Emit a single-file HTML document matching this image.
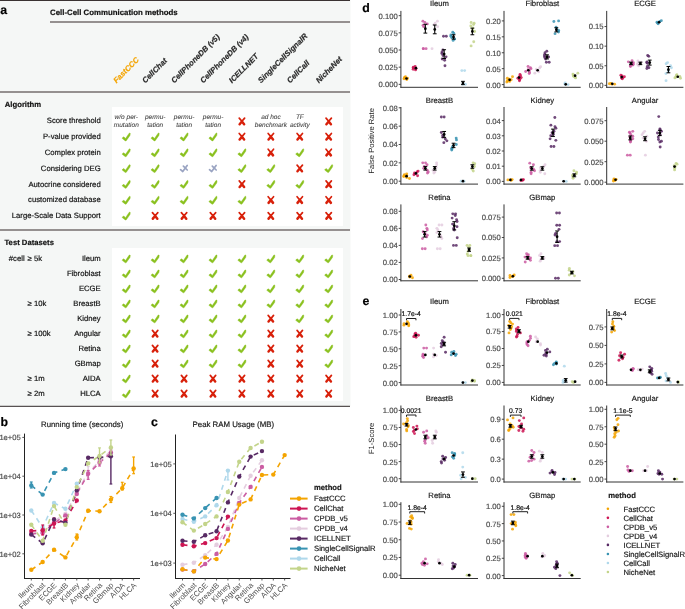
<!DOCTYPE html>
<html><head><meta charset="utf-8"><style>
html,body{margin:0;padding:0;background:#fff;}
body{width:685px;height:609px;overflow:hidden;position:relative;}
svg{position:absolute;left:0;top:0;will-change:transform;text-rendering:geometricPrecision;font-family:"Liberation Sans", sans-serif;}
</style></head><body>
<svg width="685" height="609" viewBox="0 0 685 609">
<rect x="0" y="0" width="350.5" height="406" fill="#f5f7f6"/>
<line x1="0.00" y1="0.50" x2="350.00" y2="0.50" stroke="#3a3232" stroke-width="1.2" />
<text x="0.30" y="14.00" font-size="12.3" text-anchor="start" font-weight="bold" font-style="normal" fill="#000" stroke="#000" stroke-width="0.18" >a</text>
<text x="50.00" y="15.40" font-size="7.85" text-anchor="start" font-weight="bold" font-style="normal" fill="#111" stroke="#111" stroke-width="0.18" >Cell-Cell Communication methods</text>
<line x1="50.00" y1="22.10" x2="350.00" y2="22.10" stroke="#959090" stroke-width="2.0" />
<text x="116.40" y="83.50" font-size="7.75" text-anchor="start" font-weight="bold" font-style="italic" fill="#F4A400" stroke="#F4A400" stroke-width="0.18" transform="rotate(-45 116.40 83.50)">FastCCC</text>
<text x="145.33" y="83.50" font-size="7.75" text-anchor="start" font-weight="bold" font-style="italic" fill="#2a2a2a" stroke="#2a2a2a" stroke-width="0.18" transform="rotate(-45 145.33 83.50)">CellChat</text>
<text x="174.26" y="83.50" font-size="7.75" text-anchor="start" font-weight="bold" font-style="italic" fill="#2a2a2a" stroke="#2a2a2a" stroke-width="0.18" transform="rotate(-45 174.26 83.50)">CellPhoneDB (v5)</text>
<text x="203.19" y="83.50" font-size="7.75" text-anchor="start" font-weight="bold" font-style="italic" fill="#2a2a2a" stroke="#2a2a2a" stroke-width="0.18" transform="rotate(-45 203.19 83.50)">CellPhoneDB (v4)</text>
<text x="232.12" y="83.50" font-size="7.75" text-anchor="start" font-weight="bold" font-style="italic" fill="#2a2a2a" stroke="#2a2a2a" stroke-width="0.18" transform="rotate(-45 232.12 83.50)">ICELLNET</text>
<text x="261.05" y="83.50" font-size="7.75" text-anchor="start" font-weight="bold" font-style="italic" fill="#2a2a2a" stroke="#2a2a2a" stroke-width="0.18" transform="rotate(-45 261.05 83.50)">SingleCellSignalR</text>
<text x="289.98" y="83.50" font-size="7.75" text-anchor="start" font-weight="bold" font-style="italic" fill="#2a2a2a" stroke="#2a2a2a" stroke-width="0.18" transform="rotate(-45 289.98 83.50)">CellCall</text>
<text x="318.91" y="83.50" font-size="7.75" text-anchor="start" font-weight="bold" font-style="italic" fill="#2a2a2a" stroke="#2a2a2a" stroke-width="0.18" transform="rotate(-45 318.91 83.50)">NicheNet</text>
<line x1="0.00" y1="92.00" x2="350.00" y2="92.00" stroke="#959090" stroke-width="2.0" />
<text x="4.80" y="107.00" font-size="7.7" text-anchor="start" font-weight="bold" font-style="normal" fill="#111" stroke="#111" stroke-width="0.18" >Algorithm</text>
<rect x="112" y="107" width="231" height="119" fill="#ffffff"/>
<text x="100.70" y="123.25" font-size="7.7" text-anchor="end" font-weight="normal" font-style="normal" fill="#111" stroke="#111" stroke-width="0.18" >Score threshold</text>
<text x="100.70" y="139.08" font-size="7.7" text-anchor="end" font-weight="normal" font-style="normal" fill="#111" stroke="#111" stroke-width="0.18" >P-value provided</text>
<text x="100.70" y="154.91" font-size="7.7" text-anchor="end" font-weight="normal" font-style="normal" fill="#111" stroke="#111" stroke-width="0.18" >Complex protein</text>
<text x="100.70" y="170.74" font-size="7.7" text-anchor="end" font-weight="normal" font-style="normal" fill="#111" stroke="#111" stroke-width="0.18" >Considering DEG</text>
<text x="100.70" y="186.57" font-size="7.7" text-anchor="end" font-weight="normal" font-style="normal" fill="#111" stroke="#111" stroke-width="0.18" >Autocrine considered</text>
<text x="100.70" y="202.40" font-size="7.7" text-anchor="end" font-weight="normal" font-style="normal" fill="#111" stroke="#111" stroke-width="0.18" >customized database</text>
<text x="100.70" y="218.23" font-size="7.7" text-anchor="end" font-weight="normal" font-style="normal" fill="#111" stroke="#111" stroke-width="0.18" >Large-Scale Data Support</text>
<text x="126.30" y="119.20" font-size="6.5" text-anchor="middle" font-weight="normal" font-style="italic" fill="#444" stroke="#444" stroke-width="0.08" >w/o per-</text>
<text x="126.30" y="127.00" font-size="6.5" text-anchor="middle" font-weight="normal" font-style="italic" fill="#444" stroke="#444" stroke-width="0.08" >mutation</text>
<text x="155.23" y="119.20" font-size="6.5" text-anchor="middle" font-weight="normal" font-style="italic" fill="#444" stroke="#444" stroke-width="0.08" >permu-</text>
<text x="155.23" y="127.00" font-size="6.5" text-anchor="middle" font-weight="normal" font-style="italic" fill="#444" stroke="#444" stroke-width="0.08" >tation</text>
<text x="184.16" y="119.20" font-size="6.5" text-anchor="middle" font-weight="normal" font-style="italic" fill="#444" stroke="#444" stroke-width="0.08" >permu-</text>
<text x="184.16" y="127.00" font-size="6.5" text-anchor="middle" font-weight="normal" font-style="italic" fill="#444" stroke="#444" stroke-width="0.08" >tation</text>
<text x="213.09" y="119.20" font-size="6.5" text-anchor="middle" font-weight="normal" font-style="italic" fill="#444" stroke="#444" stroke-width="0.08" >permu-</text>
<text x="213.09" y="127.00" font-size="6.5" text-anchor="middle" font-weight="normal" font-style="italic" fill="#444" stroke="#444" stroke-width="0.08" >tation</text>
<g transform="translate(241.92,121.30)" stroke="#D8200A" stroke-linecap="round" fill="none"><path d="M0,0 L-2.7,-3.2 M0,0 L2.7,-3.2" stroke-width="1.7"/><path d="M0,0.2 L-2.3,2.9 M0,0.2 L2.2,2.9" stroke-width="2.5"/></g>
<text x="270.95" y="119.20" font-size="6.5" text-anchor="middle" font-weight="normal" font-style="italic" fill="#444" stroke="#444" stroke-width="0.08" >ad hoc</text>
<text x="270.95" y="127.00" font-size="6.5" text-anchor="middle" font-weight="normal" font-style="italic" fill="#444" stroke="#444" stroke-width="0.08" >benchmark</text>
<text x="299.88" y="119.20" font-size="6.5" text-anchor="middle" font-weight="normal" font-style="italic" fill="#444" stroke="#444" stroke-width="0.08" >TF</text>
<text x="299.88" y="127.00" font-size="6.5" text-anchor="middle" font-weight="normal" font-style="italic" fill="#444" stroke="#444" stroke-width="0.08" >activity</text>
<g transform="translate(328.71,121.30)" stroke="#D8200A" stroke-linecap="round" fill="none"><path d="M0,0 L-2.7,-3.2 M0,0 L2.7,-3.2" stroke-width="1.7"/><path d="M0,0.2 L-2.3,2.9 M0,0.2 L2.2,2.9" stroke-width="2.5"/></g>
<path transform="translate(122.00,132.83)" d="M0.1,5.5 Q0.6,4.4 1.9,4.0 L3.5,5.7 L7.2,0.3 Q7.9,-0.1 8.3,0.5 L8.0,2.6 L4.3,7.8 Q3.6,8.3 3.0,7.8 Z" fill="#8AC11F" stroke="#8AC11F" stroke-width="0.4" stroke-linejoin="round"/>
<path transform="translate(150.93,132.83)" d="M0.1,5.5 Q0.6,4.4 1.9,4.0 L3.5,5.7 L7.2,0.3 Q7.9,-0.1 8.3,0.5 L8.0,2.6 L4.3,7.8 Q3.6,8.3 3.0,7.8 Z" fill="#8AC11F" stroke="#8AC11F" stroke-width="0.4" stroke-linejoin="round"/>
<path transform="translate(179.86,132.83)" d="M0.1,5.5 Q0.6,4.4 1.9,4.0 L3.5,5.7 L7.2,0.3 Q7.9,-0.1 8.3,0.5 L8.0,2.6 L4.3,7.8 Q3.6,8.3 3.0,7.8 Z" fill="#8AC11F" stroke="#8AC11F" stroke-width="0.4" stroke-linejoin="round"/>
<path transform="translate(208.79,132.83)" d="M0.1,5.5 Q0.6,4.4 1.9,4.0 L3.5,5.7 L7.2,0.3 Q7.9,-0.1 8.3,0.5 L8.0,2.6 L4.3,7.8 Q3.6,8.3 3.0,7.8 Z" fill="#8AC11F" stroke="#8AC11F" stroke-width="0.4" stroke-linejoin="round"/>
<g transform="translate(241.92,136.63)" stroke="#D8200A" stroke-linecap="round" fill="none"><path d="M0,0 L-2.7,-3.2 M0,0 L2.7,-3.2" stroke-width="1.7"/><path d="M0,0.2 L-2.3,2.9 M0,0.2 L2.2,2.9" stroke-width="2.5"/></g>
<g transform="translate(270.85,136.63)" stroke="#D8200A" stroke-linecap="round" fill="none"><path d="M0,0 L-2.7,-3.2 M0,0 L2.7,-3.2" stroke-width="1.7"/><path d="M0,0.2 L-2.3,2.9 M0,0.2 L2.2,2.9" stroke-width="2.5"/></g>
<g transform="translate(299.78,136.63)" stroke="#D8200A" stroke-linecap="round" fill="none"><path d="M0,0 L-2.7,-3.2 M0,0 L2.7,-3.2" stroke-width="1.7"/><path d="M0,0.2 L-2.3,2.9 M0,0.2 L2.2,2.9" stroke-width="2.5"/></g>
<g transform="translate(328.71,136.63)" stroke="#D8200A" stroke-linecap="round" fill="none"><path d="M0,0 L-2.7,-3.2 M0,0 L2.7,-3.2" stroke-width="1.7"/><path d="M0,0.2 L-2.3,2.9 M0,0.2 L2.2,2.9" stroke-width="2.5"/></g>
<path transform="translate(122.00,148.66)" d="M0.1,5.5 Q0.6,4.4 1.9,4.0 L3.5,5.7 L7.2,0.3 Q7.9,-0.1 8.3,0.5 L8.0,2.6 L4.3,7.8 Q3.6,8.3 3.0,7.8 Z" fill="#8AC11F" stroke="#8AC11F" stroke-width="0.4" stroke-linejoin="round"/>
<path transform="translate(150.93,148.66)" d="M0.1,5.5 Q0.6,4.4 1.9,4.0 L3.5,5.7 L7.2,0.3 Q7.9,-0.1 8.3,0.5 L8.0,2.6 L4.3,7.8 Q3.6,8.3 3.0,7.8 Z" fill="#8AC11F" stroke="#8AC11F" stroke-width="0.4" stroke-linejoin="round"/>
<path transform="translate(179.86,148.66)" d="M0.1,5.5 Q0.6,4.4 1.9,4.0 L3.5,5.7 L7.2,0.3 Q7.9,-0.1 8.3,0.5 L8.0,2.6 L4.3,7.8 Q3.6,8.3 3.0,7.8 Z" fill="#8AC11F" stroke="#8AC11F" stroke-width="0.4" stroke-linejoin="round"/>
<path transform="translate(208.79,148.66)" d="M0.1,5.5 Q0.6,4.4 1.9,4.0 L3.5,5.7 L7.2,0.3 Q7.9,-0.1 8.3,0.5 L8.0,2.6 L4.3,7.8 Q3.6,8.3 3.0,7.8 Z" fill="#8AC11F" stroke="#8AC11F" stroke-width="0.4" stroke-linejoin="round"/>
<path transform="translate(237.72,148.66)" d="M0.1,5.5 Q0.6,4.4 1.9,4.0 L3.5,5.7 L7.2,0.3 Q7.9,-0.1 8.3,0.5 L8.0,2.6 L4.3,7.8 Q3.6,8.3 3.0,7.8 Z" fill="#8AC11F" stroke="#8AC11F" stroke-width="0.4" stroke-linejoin="round"/>
<g transform="translate(270.85,152.46)" stroke="#D8200A" stroke-linecap="round" fill="none"><path d="M0,0 L-2.7,-3.2 M0,0 L2.7,-3.2" stroke-width="1.7"/><path d="M0,0.2 L-2.3,2.9 M0,0.2 L2.2,2.9" stroke-width="2.5"/></g>
<path transform="translate(295.58,148.66)" d="M0.1,5.5 Q0.6,4.4 1.9,4.0 L3.5,5.7 L7.2,0.3 Q7.9,-0.1 8.3,0.5 L8.0,2.6 L4.3,7.8 Q3.6,8.3 3.0,7.8 Z" fill="#8AC11F" stroke="#8AC11F" stroke-width="0.4" stroke-linejoin="round"/>
<g transform="translate(328.71,152.46)" stroke="#D8200A" stroke-linecap="round" fill="none"><path d="M0,0 L-2.7,-3.2 M0,0 L2.7,-3.2" stroke-width="1.7"/><path d="M0,0.2 L-2.3,2.9 M0,0.2 L2.2,2.9" stroke-width="2.5"/></g>
<path transform="translate(122.00,164.49)" d="M0.1,5.5 Q0.6,4.4 1.9,4.0 L3.5,5.7 L7.2,0.3 Q7.9,-0.1 8.3,0.5 L8.0,2.6 L4.3,7.8 Q3.6,8.3 3.0,7.8 Z" fill="#8AC11F" stroke="#8AC11F" stroke-width="0.4" stroke-linejoin="round"/>
<path transform="translate(150.93,164.49)" d="M0.1,5.5 Q0.6,4.4 1.9,4.0 L3.5,5.7 L7.2,0.3 Q7.9,-0.1 8.3,0.5 L8.0,2.6 L4.3,7.8 Q3.6,8.3 3.0,7.8 Z" fill="#8AC11F" stroke="#8AC11F" stroke-width="0.4" stroke-linejoin="round"/>
<g transform="translate(184.16,168.49)" stroke="#9AA4C2" stroke-linecap="round" stroke-linejoin="round" fill="none" stroke-width="1.7"><path d="M-3.6,1.2 L-1.4,3.0 L3.0,-3.1 M-0.8,-2.3 L3.1,1.5"/></g>
<g transform="translate(213.09,168.49)" stroke="#9AA4C2" stroke-linecap="round" stroke-linejoin="round" fill="none" stroke-width="1.7"><path d="M-3.6,1.2 L-1.4,3.0 L3.0,-3.1 M-0.8,-2.3 L3.1,1.5"/></g>
<path transform="translate(237.72,164.49)" d="M0.1,5.5 Q0.6,4.4 1.9,4.0 L3.5,5.7 L7.2,0.3 Q7.9,-0.1 8.3,0.5 L8.0,2.6 L4.3,7.8 Q3.6,8.3 3.0,7.8 Z" fill="#8AC11F" stroke="#8AC11F" stroke-width="0.4" stroke-linejoin="round"/>
<path transform="translate(266.65,164.49)" d="M0.1,5.5 Q0.6,4.4 1.9,4.0 L3.5,5.7 L7.2,0.3 Q7.9,-0.1 8.3,0.5 L8.0,2.6 L4.3,7.8 Q3.6,8.3 3.0,7.8 Z" fill="#8AC11F" stroke="#8AC11F" stroke-width="0.4" stroke-linejoin="round"/>
<g transform="translate(299.78,168.29)" stroke="#D8200A" stroke-linecap="round" fill="none"><path d="M0,0 L-2.7,-3.2 M0,0 L2.7,-3.2" stroke-width="1.7"/><path d="M0,0.2 L-2.3,2.9 M0,0.2 L2.2,2.9" stroke-width="2.5"/></g>
<path transform="translate(324.51,164.49)" d="M0.1,5.5 Q0.6,4.4 1.9,4.0 L3.5,5.7 L7.2,0.3 Q7.9,-0.1 8.3,0.5 L8.0,2.6 L4.3,7.8 Q3.6,8.3 3.0,7.8 Z" fill="#8AC11F" stroke="#8AC11F" stroke-width="0.4" stroke-linejoin="round"/>
<path transform="translate(122.00,180.32)" d="M0.1,5.5 Q0.6,4.4 1.9,4.0 L3.5,5.7 L7.2,0.3 Q7.9,-0.1 8.3,0.5 L8.0,2.6 L4.3,7.8 Q3.6,8.3 3.0,7.8 Z" fill="#8AC11F" stroke="#8AC11F" stroke-width="0.4" stroke-linejoin="round"/>
<path transform="translate(150.93,180.32)" d="M0.1,5.5 Q0.6,4.4 1.9,4.0 L3.5,5.7 L7.2,0.3 Q7.9,-0.1 8.3,0.5 L8.0,2.6 L4.3,7.8 Q3.6,8.3 3.0,7.8 Z" fill="#8AC11F" stroke="#8AC11F" stroke-width="0.4" stroke-linejoin="round"/>
<path transform="translate(179.86,180.32)" d="M0.1,5.5 Q0.6,4.4 1.9,4.0 L3.5,5.7 L7.2,0.3 Q7.9,-0.1 8.3,0.5 L8.0,2.6 L4.3,7.8 Q3.6,8.3 3.0,7.8 Z" fill="#8AC11F" stroke="#8AC11F" stroke-width="0.4" stroke-linejoin="round"/>
<path transform="translate(208.79,180.32)" d="M0.1,5.5 Q0.6,4.4 1.9,4.0 L3.5,5.7 L7.2,0.3 Q7.9,-0.1 8.3,0.5 L8.0,2.6 L4.3,7.8 Q3.6,8.3 3.0,7.8 Z" fill="#8AC11F" stroke="#8AC11F" stroke-width="0.4" stroke-linejoin="round"/>
<g transform="translate(241.92,184.12)" stroke="#D8200A" stroke-linecap="round" fill="none"><path d="M0,0 L-2.7,-3.2 M0,0 L2.7,-3.2" stroke-width="1.7"/><path d="M0,0.2 L-2.3,2.9 M0,0.2 L2.2,2.9" stroke-width="2.5"/></g>
<path transform="translate(266.65,180.32)" d="M0.1,5.5 Q0.6,4.4 1.9,4.0 L3.5,5.7 L7.2,0.3 Q7.9,-0.1 8.3,0.5 L8.0,2.6 L4.3,7.8 Q3.6,8.3 3.0,7.8 Z" fill="#8AC11F" stroke="#8AC11F" stroke-width="0.4" stroke-linejoin="round"/>
<path transform="translate(295.58,180.32)" d="M0.1,5.5 Q0.6,4.4 1.9,4.0 L3.5,5.7 L7.2,0.3 Q7.9,-0.1 8.3,0.5 L8.0,2.6 L4.3,7.8 Q3.6,8.3 3.0,7.8 Z" fill="#8AC11F" stroke="#8AC11F" stroke-width="0.4" stroke-linejoin="round"/>
<g transform="translate(328.71,184.12)" stroke="#D8200A" stroke-linecap="round" fill="none"><path d="M0,0 L-2.7,-3.2 M0,0 L2.7,-3.2" stroke-width="1.7"/><path d="M0,0.2 L-2.3,2.9 M0,0.2 L2.2,2.9" stroke-width="2.5"/></g>
<path transform="translate(122.00,196.15)" d="M0.1,5.5 Q0.6,4.4 1.9,4.0 L3.5,5.7 L7.2,0.3 Q7.9,-0.1 8.3,0.5 L8.0,2.6 L4.3,7.8 Q3.6,8.3 3.0,7.8 Z" fill="#8AC11F" stroke="#8AC11F" stroke-width="0.4" stroke-linejoin="round"/>
<path transform="translate(150.93,196.15)" d="M0.1,5.5 Q0.6,4.4 1.9,4.0 L3.5,5.7 L7.2,0.3 Q7.9,-0.1 8.3,0.5 L8.0,2.6 L4.3,7.8 Q3.6,8.3 3.0,7.8 Z" fill="#8AC11F" stroke="#8AC11F" stroke-width="0.4" stroke-linejoin="round"/>
<path transform="translate(179.86,196.15)" d="M0.1,5.5 Q0.6,4.4 1.9,4.0 L3.5,5.7 L7.2,0.3 Q7.9,-0.1 8.3,0.5 L8.0,2.6 L4.3,7.8 Q3.6,8.3 3.0,7.8 Z" fill="#8AC11F" stroke="#8AC11F" stroke-width="0.4" stroke-linejoin="round"/>
<path transform="translate(208.79,196.15)" d="M0.1,5.5 Q0.6,4.4 1.9,4.0 L3.5,5.7 L7.2,0.3 Q7.9,-0.1 8.3,0.5 L8.0,2.6 L4.3,7.8 Q3.6,8.3 3.0,7.8 Z" fill="#8AC11F" stroke="#8AC11F" stroke-width="0.4" stroke-linejoin="round"/>
<path transform="translate(237.72,196.15)" d="M0.1,5.5 Q0.6,4.4 1.9,4.0 L3.5,5.7 L7.2,0.3 Q7.9,-0.1 8.3,0.5 L8.0,2.6 L4.3,7.8 Q3.6,8.3 3.0,7.8 Z" fill="#8AC11F" stroke="#8AC11F" stroke-width="0.4" stroke-linejoin="round"/>
<g transform="translate(270.85,199.95)" stroke="#D8200A" stroke-linecap="round" fill="none"><path d="M0,0 L-2.7,-3.2 M0,0 L2.7,-3.2" stroke-width="1.7"/><path d="M0,0.2 L-2.3,2.9 M0,0.2 L2.2,2.9" stroke-width="2.5"/></g>
<g transform="translate(299.78,199.95)" stroke="#D8200A" stroke-linecap="round" fill="none"><path d="M0,0 L-2.7,-3.2 M0,0 L2.7,-3.2" stroke-width="1.7"/><path d="M0,0.2 L-2.3,2.9 M0,0.2 L2.2,2.9" stroke-width="2.5"/></g>
<g transform="translate(328.71,199.95)" stroke="#D8200A" stroke-linecap="round" fill="none"><path d="M0,0 L-2.7,-3.2 M0,0 L2.7,-3.2" stroke-width="1.7"/><path d="M0,0.2 L-2.3,2.9 M0,0.2 L2.2,2.9" stroke-width="2.5"/></g>
<path transform="translate(122.00,211.98)" d="M0.1,5.5 Q0.6,4.4 1.9,4.0 L3.5,5.7 L7.2,0.3 Q7.9,-0.1 8.3,0.5 L8.0,2.6 L4.3,7.8 Q3.6,8.3 3.0,7.8 Z" fill="#8AC11F" stroke="#8AC11F" stroke-width="0.4" stroke-linejoin="round"/>
<g transform="translate(155.13,215.78)" stroke="#D8200A" stroke-linecap="round" fill="none"><path d="M0,0 L-2.7,-3.2 M0,0 L2.7,-3.2" stroke-width="1.7"/><path d="M0,0.2 L-2.3,2.9 M0,0.2 L2.2,2.9" stroke-width="2.5"/></g>
<g transform="translate(184.06,215.78)" stroke="#D8200A" stroke-linecap="round" fill="none"><path d="M0,0 L-2.7,-3.2 M0,0 L2.7,-3.2" stroke-width="1.7"/><path d="M0,0.2 L-2.3,2.9 M0,0.2 L2.2,2.9" stroke-width="2.5"/></g>
<g transform="translate(212.99,215.78)" stroke="#D8200A" stroke-linecap="round" fill="none"><path d="M0,0 L-2.7,-3.2 M0,0 L2.7,-3.2" stroke-width="1.7"/><path d="M0,0.2 L-2.3,2.9 M0,0.2 L2.2,2.9" stroke-width="2.5"/></g>
<g transform="translate(241.92,215.78)" stroke="#D8200A" stroke-linecap="round" fill="none"><path d="M0,0 L-2.7,-3.2 M0,0 L2.7,-3.2" stroke-width="1.7"/><path d="M0,0.2 L-2.3,2.9 M0,0.2 L2.2,2.9" stroke-width="2.5"/></g>
<g transform="translate(270.85,215.78)" stroke="#D8200A" stroke-linecap="round" fill="none"><path d="M0,0 L-2.7,-3.2 M0,0 L2.7,-3.2" stroke-width="1.7"/><path d="M0,0.2 L-2.3,2.9 M0,0.2 L2.2,2.9" stroke-width="2.5"/></g>
<g transform="translate(299.78,215.78)" stroke="#D8200A" stroke-linecap="round" fill="none"><path d="M0,0 L-2.7,-3.2 M0,0 L2.7,-3.2" stroke-width="1.7"/><path d="M0,0.2 L-2.3,2.9 M0,0.2 L2.2,2.9" stroke-width="2.5"/></g>
<g transform="translate(328.71,215.78)" stroke="#D8200A" stroke-linecap="round" fill="none"><path d="M0,0 L-2.7,-3.2 M0,0 L2.7,-3.2" stroke-width="1.7"/><path d="M0,0.2 L-2.3,2.9 M0,0.2 L2.2,2.9" stroke-width="2.5"/></g>
<line x1="0.00" y1="230.00" x2="350.00" y2="230.00" stroke="#959090" stroke-width="2.0" />
<text x="4.50" y="244.50" font-size="7.7" text-anchor="start" font-weight="bold" font-style="normal" fill="#111" stroke="#111" stroke-width="0.18" >Test Datasets</text>
<rect x="112" y="248" width="231" height="153" fill="#ffffff"/>
<text x="100.70" y="261.05" font-size="7.7" text-anchor="end" font-weight="normal" font-style="normal" fill="#111" stroke="#111" stroke-width="0.18" >Ileum</text>
<text x="8.80" y="261.05" font-size="7.7" text-anchor="start" font-weight="normal" font-style="normal" fill="#111" stroke="#111" stroke-width="0.18" >#cell</text>
<text x="27.60" y="261.05" font-size="7.7" text-anchor="start" font-weight="normal" font-style="normal" fill="#111" stroke="#111" stroke-width="0.18" >≥ 5k</text>
<path transform="translate(122.00,254.80)" d="M0.1,5.5 Q0.6,4.4 1.9,4.0 L3.5,5.7 L7.2,0.3 Q7.9,-0.1 8.3,0.5 L8.0,2.6 L4.3,7.8 Q3.6,8.3 3.0,7.8 Z" fill="#8AC11F" stroke="#8AC11F" stroke-width="0.4" stroke-linejoin="round"/>
<path transform="translate(150.93,254.80)" d="M0.1,5.5 Q0.6,4.4 1.9,4.0 L3.5,5.7 L7.2,0.3 Q7.9,-0.1 8.3,0.5 L8.0,2.6 L4.3,7.8 Q3.6,8.3 3.0,7.8 Z" fill="#8AC11F" stroke="#8AC11F" stroke-width="0.4" stroke-linejoin="round"/>
<path transform="translate(179.86,254.80)" d="M0.1,5.5 Q0.6,4.4 1.9,4.0 L3.5,5.7 L7.2,0.3 Q7.9,-0.1 8.3,0.5 L8.0,2.6 L4.3,7.8 Q3.6,8.3 3.0,7.8 Z" fill="#8AC11F" stroke="#8AC11F" stroke-width="0.4" stroke-linejoin="round"/>
<path transform="translate(208.79,254.80)" d="M0.1,5.5 Q0.6,4.4 1.9,4.0 L3.5,5.7 L7.2,0.3 Q7.9,-0.1 8.3,0.5 L8.0,2.6 L4.3,7.8 Q3.6,8.3 3.0,7.8 Z" fill="#8AC11F" stroke="#8AC11F" stroke-width="0.4" stroke-linejoin="round"/>
<path transform="translate(237.72,254.80)" d="M0.1,5.5 Q0.6,4.4 1.9,4.0 L3.5,5.7 L7.2,0.3 Q7.9,-0.1 8.3,0.5 L8.0,2.6 L4.3,7.8 Q3.6,8.3 3.0,7.8 Z" fill="#8AC11F" stroke="#8AC11F" stroke-width="0.4" stroke-linejoin="round"/>
<path transform="translate(266.65,254.80)" d="M0.1,5.5 Q0.6,4.4 1.9,4.0 L3.5,5.7 L7.2,0.3 Q7.9,-0.1 8.3,0.5 L8.0,2.6 L4.3,7.8 Q3.6,8.3 3.0,7.8 Z" fill="#8AC11F" stroke="#8AC11F" stroke-width="0.4" stroke-linejoin="round"/>
<path transform="translate(295.58,254.80)" d="M0.1,5.5 Q0.6,4.4 1.9,4.0 L3.5,5.7 L7.2,0.3 Q7.9,-0.1 8.3,0.5 L8.0,2.6 L4.3,7.8 Q3.6,8.3 3.0,7.8 Z" fill="#8AC11F" stroke="#8AC11F" stroke-width="0.4" stroke-linejoin="round"/>
<path transform="translate(324.51,254.80)" d="M0.1,5.5 Q0.6,4.4 1.9,4.0 L3.5,5.7 L7.2,0.3 Q7.9,-0.1 8.3,0.5 L8.0,2.6 L4.3,7.8 Q3.6,8.3 3.0,7.8 Z" fill="#8AC11F" stroke="#8AC11F" stroke-width="0.4" stroke-linejoin="round"/>
<text x="100.70" y="276.05" font-size="7.7" text-anchor="end" font-weight="normal" font-style="normal" fill="#111" stroke="#111" stroke-width="0.18" >Fibroblast</text>
<path transform="translate(122.00,269.80)" d="M0.1,5.5 Q0.6,4.4 1.9,4.0 L3.5,5.7 L7.2,0.3 Q7.9,-0.1 8.3,0.5 L8.0,2.6 L4.3,7.8 Q3.6,8.3 3.0,7.8 Z" fill="#8AC11F" stroke="#8AC11F" stroke-width="0.4" stroke-linejoin="round"/>
<path transform="translate(150.93,269.80)" d="M0.1,5.5 Q0.6,4.4 1.9,4.0 L3.5,5.7 L7.2,0.3 Q7.9,-0.1 8.3,0.5 L8.0,2.6 L4.3,7.8 Q3.6,8.3 3.0,7.8 Z" fill="#8AC11F" stroke="#8AC11F" stroke-width="0.4" stroke-linejoin="round"/>
<path transform="translate(179.86,269.80)" d="M0.1,5.5 Q0.6,4.4 1.9,4.0 L3.5,5.7 L7.2,0.3 Q7.9,-0.1 8.3,0.5 L8.0,2.6 L4.3,7.8 Q3.6,8.3 3.0,7.8 Z" fill="#8AC11F" stroke="#8AC11F" stroke-width="0.4" stroke-linejoin="round"/>
<path transform="translate(208.79,269.80)" d="M0.1,5.5 Q0.6,4.4 1.9,4.0 L3.5,5.7 L7.2,0.3 Q7.9,-0.1 8.3,0.5 L8.0,2.6 L4.3,7.8 Q3.6,8.3 3.0,7.8 Z" fill="#8AC11F" stroke="#8AC11F" stroke-width="0.4" stroke-linejoin="round"/>
<path transform="translate(237.72,269.80)" d="M0.1,5.5 Q0.6,4.4 1.9,4.0 L3.5,5.7 L7.2,0.3 Q7.9,-0.1 8.3,0.5 L8.0,2.6 L4.3,7.8 Q3.6,8.3 3.0,7.8 Z" fill="#8AC11F" stroke="#8AC11F" stroke-width="0.4" stroke-linejoin="round"/>
<path transform="translate(266.65,269.80)" d="M0.1,5.5 Q0.6,4.4 1.9,4.0 L3.5,5.7 L7.2,0.3 Q7.9,-0.1 8.3,0.5 L8.0,2.6 L4.3,7.8 Q3.6,8.3 3.0,7.8 Z" fill="#8AC11F" stroke="#8AC11F" stroke-width="0.4" stroke-linejoin="round"/>
<path transform="translate(295.58,269.80)" d="M0.1,5.5 Q0.6,4.4 1.9,4.0 L3.5,5.7 L7.2,0.3 Q7.9,-0.1 8.3,0.5 L8.0,2.6 L4.3,7.8 Q3.6,8.3 3.0,7.8 Z" fill="#8AC11F" stroke="#8AC11F" stroke-width="0.4" stroke-linejoin="round"/>
<path transform="translate(324.51,269.80)" d="M0.1,5.5 Q0.6,4.4 1.9,4.0 L3.5,5.7 L7.2,0.3 Q7.9,-0.1 8.3,0.5 L8.0,2.6 L4.3,7.8 Q3.6,8.3 3.0,7.8 Z" fill="#8AC11F" stroke="#8AC11F" stroke-width="0.4" stroke-linejoin="round"/>
<text x="100.70" y="291.05" font-size="7.7" text-anchor="end" font-weight="normal" font-style="normal" fill="#111" stroke="#111" stroke-width="0.18" >ECGE</text>
<path transform="translate(122.00,284.80)" d="M0.1,5.5 Q0.6,4.4 1.9,4.0 L3.5,5.7 L7.2,0.3 Q7.9,-0.1 8.3,0.5 L8.0,2.6 L4.3,7.8 Q3.6,8.3 3.0,7.8 Z" fill="#8AC11F" stroke="#8AC11F" stroke-width="0.4" stroke-linejoin="round"/>
<path transform="translate(150.93,284.80)" d="M0.1,5.5 Q0.6,4.4 1.9,4.0 L3.5,5.7 L7.2,0.3 Q7.9,-0.1 8.3,0.5 L8.0,2.6 L4.3,7.8 Q3.6,8.3 3.0,7.8 Z" fill="#8AC11F" stroke="#8AC11F" stroke-width="0.4" stroke-linejoin="round"/>
<path transform="translate(179.86,284.80)" d="M0.1,5.5 Q0.6,4.4 1.9,4.0 L3.5,5.7 L7.2,0.3 Q7.9,-0.1 8.3,0.5 L8.0,2.6 L4.3,7.8 Q3.6,8.3 3.0,7.8 Z" fill="#8AC11F" stroke="#8AC11F" stroke-width="0.4" stroke-linejoin="round"/>
<path transform="translate(208.79,284.80)" d="M0.1,5.5 Q0.6,4.4 1.9,4.0 L3.5,5.7 L7.2,0.3 Q7.9,-0.1 8.3,0.5 L8.0,2.6 L4.3,7.8 Q3.6,8.3 3.0,7.8 Z" fill="#8AC11F" stroke="#8AC11F" stroke-width="0.4" stroke-linejoin="round"/>
<path transform="translate(237.72,284.80)" d="M0.1,5.5 Q0.6,4.4 1.9,4.0 L3.5,5.7 L7.2,0.3 Q7.9,-0.1 8.3,0.5 L8.0,2.6 L4.3,7.8 Q3.6,8.3 3.0,7.8 Z" fill="#8AC11F" stroke="#8AC11F" stroke-width="0.4" stroke-linejoin="round"/>
<path transform="translate(266.65,284.80)" d="M0.1,5.5 Q0.6,4.4 1.9,4.0 L3.5,5.7 L7.2,0.3 Q7.9,-0.1 8.3,0.5 L8.0,2.6 L4.3,7.8 Q3.6,8.3 3.0,7.8 Z" fill="#8AC11F" stroke="#8AC11F" stroke-width="0.4" stroke-linejoin="round"/>
<path transform="translate(295.58,284.80)" d="M0.1,5.5 Q0.6,4.4 1.9,4.0 L3.5,5.7 L7.2,0.3 Q7.9,-0.1 8.3,0.5 L8.0,2.6 L4.3,7.8 Q3.6,8.3 3.0,7.8 Z" fill="#8AC11F" stroke="#8AC11F" stroke-width="0.4" stroke-linejoin="round"/>
<path transform="translate(324.51,284.80)" d="M0.1,5.5 Q0.6,4.4 1.9,4.0 L3.5,5.7 L7.2,0.3 Q7.9,-0.1 8.3,0.5 L8.0,2.6 L4.3,7.8 Q3.6,8.3 3.0,7.8 Z" fill="#8AC11F" stroke="#8AC11F" stroke-width="0.4" stroke-linejoin="round"/>
<text x="100.70" y="306.05" font-size="7.7" text-anchor="end" font-weight="normal" font-style="normal" fill="#111" stroke="#111" stroke-width="0.18" >BreastB</text>
<text x="27.60" y="306.05" font-size="7.7" text-anchor="start" font-weight="normal" font-style="normal" fill="#111" stroke="#111" stroke-width="0.18" >≥ 10k</text>
<path transform="translate(122.00,299.80)" d="M0.1,5.5 Q0.6,4.4 1.9,4.0 L3.5,5.7 L7.2,0.3 Q7.9,-0.1 8.3,0.5 L8.0,2.6 L4.3,7.8 Q3.6,8.3 3.0,7.8 Z" fill="#8AC11F" stroke="#8AC11F" stroke-width="0.4" stroke-linejoin="round"/>
<path transform="translate(150.93,299.80)" d="M0.1,5.5 Q0.6,4.4 1.9,4.0 L3.5,5.7 L7.2,0.3 Q7.9,-0.1 8.3,0.5 L8.0,2.6 L4.3,7.8 Q3.6,8.3 3.0,7.8 Z" fill="#8AC11F" stroke="#8AC11F" stroke-width="0.4" stroke-linejoin="round"/>
<path transform="translate(179.86,299.80)" d="M0.1,5.5 Q0.6,4.4 1.9,4.0 L3.5,5.7 L7.2,0.3 Q7.9,-0.1 8.3,0.5 L8.0,2.6 L4.3,7.8 Q3.6,8.3 3.0,7.8 Z" fill="#8AC11F" stroke="#8AC11F" stroke-width="0.4" stroke-linejoin="round"/>
<path transform="translate(208.79,299.80)" d="M0.1,5.5 Q0.6,4.4 1.9,4.0 L3.5,5.7 L7.2,0.3 Q7.9,-0.1 8.3,0.5 L8.0,2.6 L4.3,7.8 Q3.6,8.3 3.0,7.8 Z" fill="#8AC11F" stroke="#8AC11F" stroke-width="0.4" stroke-linejoin="round"/>
<path transform="translate(237.72,299.80)" d="M0.1,5.5 Q0.6,4.4 1.9,4.0 L3.5,5.7 L7.2,0.3 Q7.9,-0.1 8.3,0.5 L8.0,2.6 L4.3,7.8 Q3.6,8.3 3.0,7.8 Z" fill="#8AC11F" stroke="#8AC11F" stroke-width="0.4" stroke-linejoin="round"/>
<path transform="translate(266.65,299.80)" d="M0.1,5.5 Q0.6,4.4 1.9,4.0 L3.5,5.7 L7.2,0.3 Q7.9,-0.1 8.3,0.5 L8.0,2.6 L4.3,7.8 Q3.6,8.3 3.0,7.8 Z" fill="#8AC11F" stroke="#8AC11F" stroke-width="0.4" stroke-linejoin="round"/>
<path transform="translate(295.58,299.80)" d="M0.1,5.5 Q0.6,4.4 1.9,4.0 L3.5,5.7 L7.2,0.3 Q7.9,-0.1 8.3,0.5 L8.0,2.6 L4.3,7.8 Q3.6,8.3 3.0,7.8 Z" fill="#8AC11F" stroke="#8AC11F" stroke-width="0.4" stroke-linejoin="round"/>
<path transform="translate(324.51,299.80)" d="M0.1,5.5 Q0.6,4.4 1.9,4.0 L3.5,5.7 L7.2,0.3 Q7.9,-0.1 8.3,0.5 L8.0,2.6 L4.3,7.8 Q3.6,8.3 3.0,7.8 Z" fill="#8AC11F" stroke="#8AC11F" stroke-width="0.4" stroke-linejoin="round"/>
<text x="100.70" y="321.05" font-size="7.7" text-anchor="end" font-weight="normal" font-style="normal" fill="#111" stroke="#111" stroke-width="0.18" >Kidney</text>
<path transform="translate(122.00,314.80)" d="M0.1,5.5 Q0.6,4.4 1.9,4.0 L3.5,5.7 L7.2,0.3 Q7.9,-0.1 8.3,0.5 L8.0,2.6 L4.3,7.8 Q3.6,8.3 3.0,7.8 Z" fill="#8AC11F" stroke="#8AC11F" stroke-width="0.4" stroke-linejoin="round"/>
<path transform="translate(150.93,314.80)" d="M0.1,5.5 Q0.6,4.4 1.9,4.0 L3.5,5.7 L7.2,0.3 Q7.9,-0.1 8.3,0.5 L8.0,2.6 L4.3,7.8 Q3.6,8.3 3.0,7.8 Z" fill="#8AC11F" stroke="#8AC11F" stroke-width="0.4" stroke-linejoin="round"/>
<path transform="translate(179.86,314.80)" d="M0.1,5.5 Q0.6,4.4 1.9,4.0 L3.5,5.7 L7.2,0.3 Q7.9,-0.1 8.3,0.5 L8.0,2.6 L4.3,7.8 Q3.6,8.3 3.0,7.8 Z" fill="#8AC11F" stroke="#8AC11F" stroke-width="0.4" stroke-linejoin="round"/>
<path transform="translate(208.79,314.80)" d="M0.1,5.5 Q0.6,4.4 1.9,4.0 L3.5,5.7 L7.2,0.3 Q7.9,-0.1 8.3,0.5 L8.0,2.6 L4.3,7.8 Q3.6,8.3 3.0,7.8 Z" fill="#8AC11F" stroke="#8AC11F" stroke-width="0.4" stroke-linejoin="round"/>
<path transform="translate(237.72,314.80)" d="M0.1,5.5 Q0.6,4.4 1.9,4.0 L3.5,5.7 L7.2,0.3 Q7.9,-0.1 8.3,0.5 L8.0,2.6 L4.3,7.8 Q3.6,8.3 3.0,7.8 Z" fill="#8AC11F" stroke="#8AC11F" stroke-width="0.4" stroke-linejoin="round"/>
<g transform="translate(270.85,318.60)" stroke="#D8200A" stroke-linecap="round" fill="none"><path d="M0,0 L-2.7,-3.2 M0,0 L2.7,-3.2" stroke-width="1.7"/><path d="M0,0.2 L-2.3,2.9 M0,0.2 L2.2,2.9" stroke-width="2.5"/></g>
<path transform="translate(295.58,314.80)" d="M0.1,5.5 Q0.6,4.4 1.9,4.0 L3.5,5.7 L7.2,0.3 Q7.9,-0.1 8.3,0.5 L8.0,2.6 L4.3,7.8 Q3.6,8.3 3.0,7.8 Z" fill="#8AC11F" stroke="#8AC11F" stroke-width="0.4" stroke-linejoin="round"/>
<path transform="translate(324.51,314.80)" d="M0.1,5.5 Q0.6,4.4 1.9,4.0 L3.5,5.7 L7.2,0.3 Q7.9,-0.1 8.3,0.5 L8.0,2.6 L4.3,7.8 Q3.6,8.3 3.0,7.8 Z" fill="#8AC11F" stroke="#8AC11F" stroke-width="0.4" stroke-linejoin="round"/>
<text x="100.70" y="336.05" font-size="7.7" text-anchor="end" font-weight="normal" font-style="normal" fill="#111" stroke="#111" stroke-width="0.18" >Angular</text>
<text x="27.60" y="336.05" font-size="7.7" text-anchor="start" font-weight="normal" font-style="normal" fill="#111" stroke="#111" stroke-width="0.18" >≥ 100k</text>
<path transform="translate(122.00,329.80)" d="M0.1,5.5 Q0.6,4.4 1.9,4.0 L3.5,5.7 L7.2,0.3 Q7.9,-0.1 8.3,0.5 L8.0,2.6 L4.3,7.8 Q3.6,8.3 3.0,7.8 Z" fill="#8AC11F" stroke="#8AC11F" stroke-width="0.4" stroke-linejoin="round"/>
<g transform="translate(155.13,333.60)" stroke="#D8200A" stroke-linecap="round" fill="none"><path d="M0,0 L-2.7,-3.2 M0,0 L2.7,-3.2" stroke-width="1.7"/><path d="M0,0.2 L-2.3,2.9 M0,0.2 L2.2,2.9" stroke-width="2.5"/></g>
<path transform="translate(179.86,329.80)" d="M0.1,5.5 Q0.6,4.4 1.9,4.0 L3.5,5.7 L7.2,0.3 Q7.9,-0.1 8.3,0.5 L8.0,2.6 L4.3,7.8 Q3.6,8.3 3.0,7.8 Z" fill="#8AC11F" stroke="#8AC11F" stroke-width="0.4" stroke-linejoin="round"/>
<path transform="translate(208.79,329.80)" d="M0.1,5.5 Q0.6,4.4 1.9,4.0 L3.5,5.7 L7.2,0.3 Q7.9,-0.1 8.3,0.5 L8.0,2.6 L4.3,7.8 Q3.6,8.3 3.0,7.8 Z" fill="#8AC11F" stroke="#8AC11F" stroke-width="0.4" stroke-linejoin="round"/>
<path transform="translate(237.72,329.80)" d="M0.1,5.5 Q0.6,4.4 1.9,4.0 L3.5,5.7 L7.2,0.3 Q7.9,-0.1 8.3,0.5 L8.0,2.6 L4.3,7.8 Q3.6,8.3 3.0,7.8 Z" fill="#8AC11F" stroke="#8AC11F" stroke-width="0.4" stroke-linejoin="round"/>
<g transform="translate(270.85,333.60)" stroke="#D8200A" stroke-linecap="round" fill="none"><path d="M0,0 L-2.7,-3.2 M0,0 L2.7,-3.2" stroke-width="1.7"/><path d="M0,0.2 L-2.3,2.9 M0,0.2 L2.2,2.9" stroke-width="2.5"/></g>
<g transform="translate(299.78,333.60)" stroke="#D8200A" stroke-linecap="round" fill="none"><path d="M0,0 L-2.7,-3.2 M0,0 L2.7,-3.2" stroke-width="1.7"/><path d="M0,0.2 L-2.3,2.9 M0,0.2 L2.2,2.9" stroke-width="2.5"/></g>
<path transform="translate(324.51,329.80)" d="M0.1,5.5 Q0.6,4.4 1.9,4.0 L3.5,5.7 L7.2,0.3 Q7.9,-0.1 8.3,0.5 L8.0,2.6 L4.3,7.8 Q3.6,8.3 3.0,7.8 Z" fill="#8AC11F" stroke="#8AC11F" stroke-width="0.4" stroke-linejoin="round"/>
<text x="100.70" y="351.05" font-size="7.7" text-anchor="end" font-weight="normal" font-style="normal" fill="#111" stroke="#111" stroke-width="0.18" >Retina</text>
<path transform="translate(122.00,344.80)" d="M0.1,5.5 Q0.6,4.4 1.9,4.0 L3.5,5.7 L7.2,0.3 Q7.9,-0.1 8.3,0.5 L8.0,2.6 L4.3,7.8 Q3.6,8.3 3.0,7.8 Z" fill="#8AC11F" stroke="#8AC11F" stroke-width="0.4" stroke-linejoin="round"/>
<g transform="translate(155.13,348.60)" stroke="#D8200A" stroke-linecap="round" fill="none"><path d="M0,0 L-2.7,-3.2 M0,0 L2.7,-3.2" stroke-width="1.7"/><path d="M0,0.2 L-2.3,2.9 M0,0.2 L2.2,2.9" stroke-width="2.5"/></g>
<path transform="translate(179.86,344.80)" d="M0.1,5.5 Q0.6,4.4 1.9,4.0 L3.5,5.7 L7.2,0.3 Q7.9,-0.1 8.3,0.5 L8.0,2.6 L4.3,7.8 Q3.6,8.3 3.0,7.8 Z" fill="#8AC11F" stroke="#8AC11F" stroke-width="0.4" stroke-linejoin="round"/>
<path transform="translate(208.79,344.80)" d="M0.1,5.5 Q0.6,4.4 1.9,4.0 L3.5,5.7 L7.2,0.3 Q7.9,-0.1 8.3,0.5 L8.0,2.6 L4.3,7.8 Q3.6,8.3 3.0,7.8 Z" fill="#8AC11F" stroke="#8AC11F" stroke-width="0.4" stroke-linejoin="round"/>
<path transform="translate(237.72,344.80)" d="M0.1,5.5 Q0.6,4.4 1.9,4.0 L3.5,5.7 L7.2,0.3 Q7.9,-0.1 8.3,0.5 L8.0,2.6 L4.3,7.8 Q3.6,8.3 3.0,7.8 Z" fill="#8AC11F" stroke="#8AC11F" stroke-width="0.4" stroke-linejoin="round"/>
<g transform="translate(270.85,348.60)" stroke="#D8200A" stroke-linecap="round" fill="none"><path d="M0,0 L-2.7,-3.2 M0,0 L2.7,-3.2" stroke-width="1.7"/><path d="M0,0.2 L-2.3,2.9 M0,0.2 L2.2,2.9" stroke-width="2.5"/></g>
<g transform="translate(299.78,348.60)" stroke="#D8200A" stroke-linecap="round" fill="none"><path d="M0,0 L-2.7,-3.2 M0,0 L2.7,-3.2" stroke-width="1.7"/><path d="M0,0.2 L-2.3,2.9 M0,0.2 L2.2,2.9" stroke-width="2.5"/></g>
<path transform="translate(324.51,344.80)" d="M0.1,5.5 Q0.6,4.4 1.9,4.0 L3.5,5.7 L7.2,0.3 Q7.9,-0.1 8.3,0.5 L8.0,2.6 L4.3,7.8 Q3.6,8.3 3.0,7.8 Z" fill="#8AC11F" stroke="#8AC11F" stroke-width="0.4" stroke-linejoin="round"/>
<text x="100.70" y="366.05" font-size="7.7" text-anchor="end" font-weight="normal" font-style="normal" fill="#111" stroke="#111" stroke-width="0.18" >GBmap</text>
<path transform="translate(122.00,359.80)" d="M0.1,5.5 Q0.6,4.4 1.9,4.0 L3.5,5.7 L7.2,0.3 Q7.9,-0.1 8.3,0.5 L8.0,2.6 L4.3,7.8 Q3.6,8.3 3.0,7.8 Z" fill="#8AC11F" stroke="#8AC11F" stroke-width="0.4" stroke-linejoin="round"/>
<g transform="translate(155.13,363.60)" stroke="#D8200A" stroke-linecap="round" fill="none"><path d="M0,0 L-2.7,-3.2 M0,0 L2.7,-3.2" stroke-width="1.7"/><path d="M0,0.2 L-2.3,2.9 M0,0.2 L2.2,2.9" stroke-width="2.5"/></g>
<path transform="translate(179.86,359.80)" d="M0.1,5.5 Q0.6,4.4 1.9,4.0 L3.5,5.7 L7.2,0.3 Q7.9,-0.1 8.3,0.5 L8.0,2.6 L4.3,7.8 Q3.6,8.3 3.0,7.8 Z" fill="#8AC11F" stroke="#8AC11F" stroke-width="0.4" stroke-linejoin="round"/>
<path transform="translate(208.79,359.80)" d="M0.1,5.5 Q0.6,4.4 1.9,4.0 L3.5,5.7 L7.2,0.3 Q7.9,-0.1 8.3,0.5 L8.0,2.6 L4.3,7.8 Q3.6,8.3 3.0,7.8 Z" fill="#8AC11F" stroke="#8AC11F" stroke-width="0.4" stroke-linejoin="round"/>
<path transform="translate(237.72,359.80)" d="M0.1,5.5 Q0.6,4.4 1.9,4.0 L3.5,5.7 L7.2,0.3 Q7.9,-0.1 8.3,0.5 L8.0,2.6 L4.3,7.8 Q3.6,8.3 3.0,7.8 Z" fill="#8AC11F" stroke="#8AC11F" stroke-width="0.4" stroke-linejoin="round"/>
<g transform="translate(270.85,363.60)" stroke="#D8200A" stroke-linecap="round" fill="none"><path d="M0,0 L-2.7,-3.2 M0,0 L2.7,-3.2" stroke-width="1.7"/><path d="M0,0.2 L-2.3,2.9 M0,0.2 L2.2,2.9" stroke-width="2.5"/></g>
<g transform="translate(299.78,363.60)" stroke="#D8200A" stroke-linecap="round" fill="none"><path d="M0,0 L-2.7,-3.2 M0,0 L2.7,-3.2" stroke-width="1.7"/><path d="M0,0.2 L-2.3,2.9 M0,0.2 L2.2,2.9" stroke-width="2.5"/></g>
<path transform="translate(324.51,359.80)" d="M0.1,5.5 Q0.6,4.4 1.9,4.0 L3.5,5.7 L7.2,0.3 Q7.9,-0.1 8.3,0.5 L8.0,2.6 L4.3,7.8 Q3.6,8.3 3.0,7.8 Z" fill="#8AC11F" stroke="#8AC11F" stroke-width="0.4" stroke-linejoin="round"/>
<text x="100.70" y="381.05" font-size="7.7" text-anchor="end" font-weight="normal" font-style="normal" fill="#111" stroke="#111" stroke-width="0.18" >AIDA</text>
<text x="27.60" y="381.05" font-size="7.7" text-anchor="start" font-weight="normal" font-style="normal" fill="#111" stroke="#111" stroke-width="0.18" >≥ 1m</text>
<path transform="translate(122.00,374.80)" d="M0.1,5.5 Q0.6,4.4 1.9,4.0 L3.5,5.7 L7.2,0.3 Q7.9,-0.1 8.3,0.5 L8.0,2.6 L4.3,7.8 Q3.6,8.3 3.0,7.8 Z" fill="#8AC11F" stroke="#8AC11F" stroke-width="0.4" stroke-linejoin="round"/>
<g transform="translate(155.13,378.60)" stroke="#D8200A" stroke-linecap="round" fill="none"><path d="M0,0 L-2.7,-3.2 M0,0 L2.7,-3.2" stroke-width="1.7"/><path d="M0,0.2 L-2.3,2.9 M0,0.2 L2.2,2.9" stroke-width="2.5"/></g>
<g transform="translate(184.06,378.60)" stroke="#D8200A" stroke-linecap="round" fill="none"><path d="M0,0 L-2.7,-3.2 M0,0 L2.7,-3.2" stroke-width="1.7"/><path d="M0,0.2 L-2.3,2.9 M0,0.2 L2.2,2.9" stroke-width="2.5"/></g>
<g transform="translate(212.99,378.60)" stroke="#D8200A" stroke-linecap="round" fill="none"><path d="M0,0 L-2.7,-3.2 M0,0 L2.7,-3.2" stroke-width="1.7"/><path d="M0,0.2 L-2.3,2.9 M0,0.2 L2.2,2.9" stroke-width="2.5"/></g>
<g transform="translate(241.92,378.60)" stroke="#D8200A" stroke-linecap="round" fill="none"><path d="M0,0 L-2.7,-3.2 M0,0 L2.7,-3.2" stroke-width="1.7"/><path d="M0,0.2 L-2.3,2.9 M0,0.2 L2.2,2.9" stroke-width="2.5"/></g>
<g transform="translate(270.85,378.60)" stroke="#D8200A" stroke-linecap="round" fill="none"><path d="M0,0 L-2.7,-3.2 M0,0 L2.7,-3.2" stroke-width="1.7"/><path d="M0,0.2 L-2.3,2.9 M0,0.2 L2.2,2.9" stroke-width="2.5"/></g>
<g transform="translate(299.78,378.60)" stroke="#D8200A" stroke-linecap="round" fill="none"><path d="M0,0 L-2.7,-3.2 M0,0 L2.7,-3.2" stroke-width="1.7"/><path d="M0,0.2 L-2.3,2.9 M0,0.2 L2.2,2.9" stroke-width="2.5"/></g>
<g transform="translate(328.71,378.60)" stroke="#D8200A" stroke-linecap="round" fill="none"><path d="M0,0 L-2.7,-3.2 M0,0 L2.7,-3.2" stroke-width="1.7"/><path d="M0,0.2 L-2.3,2.9 M0,0.2 L2.2,2.9" stroke-width="2.5"/></g>
<text x="100.70" y="396.05" font-size="7.7" text-anchor="end" font-weight="normal" font-style="normal" fill="#111" stroke="#111" stroke-width="0.18" >HLCA</text>
<text x="27.60" y="396.05" font-size="7.7" text-anchor="start" font-weight="normal" font-style="normal" fill="#111" stroke="#111" stroke-width="0.18" >≥ 2m</text>
<path transform="translate(122.00,389.80)" d="M0.1,5.5 Q0.6,4.4 1.9,4.0 L3.5,5.7 L7.2,0.3 Q7.9,-0.1 8.3,0.5 L8.0,2.6 L4.3,7.8 Q3.6,8.3 3.0,7.8 Z" fill="#8AC11F" stroke="#8AC11F" stroke-width="0.4" stroke-linejoin="round"/>
<g transform="translate(155.13,393.60)" stroke="#D8200A" stroke-linecap="round" fill="none"><path d="M0,0 L-2.7,-3.2 M0,0 L2.7,-3.2" stroke-width="1.7"/><path d="M0,0.2 L-2.3,2.9 M0,0.2 L2.2,2.9" stroke-width="2.5"/></g>
<g transform="translate(184.06,393.60)" stroke="#D8200A" stroke-linecap="round" fill="none"><path d="M0,0 L-2.7,-3.2 M0,0 L2.7,-3.2" stroke-width="1.7"/><path d="M0,0.2 L-2.3,2.9 M0,0.2 L2.2,2.9" stroke-width="2.5"/></g>
<g transform="translate(212.99,393.60)" stroke="#D8200A" stroke-linecap="round" fill="none"><path d="M0,0 L-2.7,-3.2 M0,0 L2.7,-3.2" stroke-width="1.7"/><path d="M0,0.2 L-2.3,2.9 M0,0.2 L2.2,2.9" stroke-width="2.5"/></g>
<g transform="translate(241.92,393.60)" stroke="#D8200A" stroke-linecap="round" fill="none"><path d="M0,0 L-2.7,-3.2 M0,0 L2.7,-3.2" stroke-width="1.7"/><path d="M0,0.2 L-2.3,2.9 M0,0.2 L2.2,2.9" stroke-width="2.5"/></g>
<g transform="translate(270.85,393.60)" stroke="#D8200A" stroke-linecap="round" fill="none"><path d="M0,0 L-2.7,-3.2 M0,0 L2.7,-3.2" stroke-width="1.7"/><path d="M0,0.2 L-2.3,2.9 M0,0.2 L2.2,2.9" stroke-width="2.5"/></g>
<g transform="translate(299.78,393.60)" stroke="#D8200A" stroke-linecap="round" fill="none"><path d="M0,0 L-2.7,-3.2 M0,0 L2.7,-3.2" stroke-width="1.7"/><path d="M0,0.2 L-2.3,2.9 M0,0.2 L2.2,2.9" stroke-width="2.5"/></g>
<g transform="translate(328.71,393.60)" stroke="#D8200A" stroke-linecap="round" fill="none"><path d="M0,0 L-2.7,-3.2 M0,0 L2.7,-3.2" stroke-width="1.7"/><path d="M0,0.2 L-2.3,2.9 M0,0.2 L2.2,2.9" stroke-width="2.5"/></g>
<line x1="0.00" y1="406.40" x2="350.00" y2="406.40" stroke="#585252" stroke-width="1.3" />
<text x="0.60" y="425.60" font-size="12.3" text-anchor="start" font-weight="bold" font-style="normal" fill="#000" stroke="#000" stroke-width="0.18" >b</text>
<text x="82.20" y="427.40" font-size="7.8" text-anchor="middle" font-weight="normal" font-style="normal" fill="#1a1a1a" stroke="#1a1a1a" stroke-width="0.18" >Running time (seconds)</text>
<line x1="24.50" y1="433.60" x2="24.50" y2="579.00" stroke="#222" stroke-width="1.0" />
<line x1="24.00" y1="578.50" x2="140.00" y2="578.50" stroke="#222" stroke-width="1.0" />
<line x1="22.30" y1="437.40" x2="24.50" y2="437.40" stroke="#444" stroke-width="0.9" />
<text x="20.70" y="440.10" font-size="7.6" text-anchor="end" font-weight="normal" font-style="normal" fill="#4d4d4d" stroke="#4d4d4d" stroke-width="0.18" >1e+05</text>
<line x1="22.30" y1="476.20" x2="24.50" y2="476.20" stroke="#444" stroke-width="0.9" />
<text x="20.70" y="478.90" font-size="7.6" text-anchor="end" font-weight="normal" font-style="normal" fill="#4d4d4d" stroke="#4d4d4d" stroke-width="0.18" >1e+04</text>
<line x1="22.30" y1="515.00" x2="24.50" y2="515.00" stroke="#444" stroke-width="0.9" />
<text x="20.70" y="517.70" font-size="7.6" text-anchor="end" font-weight="normal" font-style="normal" fill="#4d4d4d" stroke="#4d4d4d" stroke-width="0.18" >1e+03</text>
<line x1="22.30" y1="553.80" x2="24.50" y2="553.80" stroke="#444" stroke-width="0.9" />
<text x="20.70" y="556.50" font-size="7.6" text-anchor="end" font-weight="normal" font-style="normal" fill="#4d4d4d" stroke="#4d4d4d" stroke-width="0.18" >1e+02</text>
<line x1="31.30" y1="578.50" x2="31.30" y2="580.50" stroke="#444" stroke-width="0.9" />
<text x="34.50" y="585.80" font-size="7.7" text-anchor="end" fill="#4d4d4d" transform="rotate(-45 34.50 585.80)">Ileum</text>
<line x1="42.67" y1="578.50" x2="42.67" y2="580.50" stroke="#444" stroke-width="0.9" />
<text x="45.87" y="585.80" font-size="7.7" text-anchor="end" fill="#4d4d4d" transform="rotate(-45 45.87 585.80)">Fibroblast</text>
<line x1="54.04" y1="578.50" x2="54.04" y2="580.50" stroke="#444" stroke-width="0.9" />
<text x="57.24" y="585.80" font-size="7.7" text-anchor="end" fill="#4d4d4d" transform="rotate(-45 57.24 585.80)">ECGE</text>
<line x1="65.41" y1="578.50" x2="65.41" y2="580.50" stroke="#444" stroke-width="0.9" />
<text x="68.61" y="585.80" font-size="7.7" text-anchor="end" fill="#4d4d4d" transform="rotate(-45 68.61 585.80)">BreastB</text>
<line x1="76.78" y1="578.50" x2="76.78" y2="580.50" stroke="#444" stroke-width="0.9" />
<text x="79.98" y="585.80" font-size="7.7" text-anchor="end" fill="#4d4d4d" transform="rotate(-45 79.98 585.80)">Kidney</text>
<line x1="88.15" y1="578.50" x2="88.15" y2="580.50" stroke="#444" stroke-width="0.9" />
<text x="91.35" y="585.80" font-size="7.7" text-anchor="end" fill="#4d4d4d" transform="rotate(-45 91.35 585.80)">Angular</text>
<line x1="99.52" y1="578.50" x2="99.52" y2="580.50" stroke="#444" stroke-width="0.9" />
<text x="102.72" y="585.80" font-size="7.7" text-anchor="end" fill="#4d4d4d" transform="rotate(-45 102.72 585.80)">Retina</text>
<line x1="110.89" y1="578.50" x2="110.89" y2="580.50" stroke="#444" stroke-width="0.9" />
<text x="114.09" y="585.80" font-size="7.7" text-anchor="end" fill="#4d4d4d" transform="rotate(-45 114.09 585.80)">GBmap</text>
<line x1="122.26" y1="578.50" x2="122.26" y2="580.50" stroke="#444" stroke-width="0.9" />
<text x="125.46" y="585.80" font-size="7.7" text-anchor="end" fill="#4d4d4d" transform="rotate(-45 125.46 585.80)">AIDA</text>
<line x1="133.63" y1="578.50" x2="133.63" y2="580.50" stroke="#444" stroke-width="0.9" />
<text x="136.83" y="585.80" font-size="7.7" text-anchor="end" fill="#4d4d4d" transform="rotate(-45 136.83 585.80)">HLCA</text>
<polyline points="31.30,533.00 42.67,531.00 54.04,521.00 65.41,514.00 76.78,492.50 88.15,472.50 99.52,461.00 110.89,451.00" fill="none" stroke="#E4CDDF" stroke-width="1.6" stroke-dasharray="5,4.4"/>
<polyline points="31.30,534.00 42.67,533.00 54.04,523.00 65.41,515.40 76.78,494.00 88.15,473.80 99.52,462.80 110.89,452.60" fill="none" stroke="#CB5CA2" stroke-width="1.6" stroke-dasharray="5,4.4"/>
<polyline points="31.30,510.50 42.67,527.50 54.04,502.90 65.41,508.80 76.78,483.80" fill="none" stroke="#AFD8EB" stroke-width="1.6" stroke-dasharray="5,4.4"/>
<polyline points="31.30,531.00 42.67,530.20 54.04,523.50 65.41,520.40 76.78,500.50" fill="none" stroke="#CD1553" stroke-width="1.6" stroke-dasharray="5,4.4"/>
<polyline points="31.30,569.80 42.67,562.00 54.04,549.70 65.41,557.40 76.78,537.20 88.15,510.80 99.52,511.20 110.89,499.60 122.26,488.20 133.63,468.50" fill="none" stroke="#F4A400" stroke-width="1.6" stroke-dasharray="5,4.4"/>
<polyline points="31.30,534.50 42.67,543.30 54.04,519.40 65.41,522.60 76.78,490.40 88.15,457.70 99.52,457.50 110.89,456.30" fill="none" stroke="#582A64" stroke-width="1.6" stroke-dasharray="5,4.4"/>
<polyline points="31.30,524.80 42.67,540.80 54.04,506.10 65.41,524.80 76.78,487.10 88.15,463.40 99.52,456.00 110.89,447.40" fill="none" stroke="#C3D48A" stroke-width="1.6" stroke-dasharray="5,4.4"/>
<polyline points="31.30,485.40 42.67,494.60 54.04,472.90 65.41,469.10" fill="none" stroke="#3893B2" stroke-width="1.6" stroke-dasharray="5,4.4"/>
<line x1="88.15" y1="466.60" x2="88.15" y2="478.00" stroke="#E4CDDF" stroke-width="1.4" />
<line x1="86.75" y1="466.60" x2="89.55" y2="466.60" stroke="#E4CDDF" stroke-width="1.2" />
<line x1="86.75" y1="478.00" x2="89.55" y2="478.00" stroke="#E4CDDF" stroke-width="1.2" />
<circle cx="31.30" cy="533.00" r="2.2" fill="#E4CDDF" />
<circle cx="42.67" cy="531.00" r="2.2" fill="#E4CDDF" />
<circle cx="54.04" cy="521.00" r="2.2" fill="#E4CDDF" />
<circle cx="65.41" cy="514.00" r="2.2" fill="#E4CDDF" />
<circle cx="76.78" cy="492.50" r="2.2" fill="#E4CDDF" />
<circle cx="88.15" cy="472.50" r="2.2" fill="#E4CDDF" />
<circle cx="99.52" cy="461.00" r="2.2" fill="#E4CDDF" />
<circle cx="110.89" cy="451.00" r="2.2" fill="#E4CDDF" />
<line x1="88.15" y1="470.50" x2="88.15" y2="479.40" stroke="#CB5CA2" stroke-width="1.4" />
<line x1="86.75" y1="470.50" x2="89.55" y2="470.50" stroke="#CB5CA2" stroke-width="1.2" />
<line x1="86.75" y1="479.40" x2="89.55" y2="479.40" stroke="#CB5CA2" stroke-width="1.2" />
<line x1="99.52" y1="460.00" x2="99.52" y2="466.00" stroke="#CB5CA2" stroke-width="1.4" />
<line x1="98.12" y1="460.00" x2="100.92" y2="460.00" stroke="#CB5CA2" stroke-width="1.2" />
<line x1="98.12" y1="466.00" x2="100.92" y2="466.00" stroke="#CB5CA2" stroke-width="1.2" />
<line x1="110.89" y1="448.00" x2="110.89" y2="456.00" stroke="#CB5CA2" stroke-width="1.4" />
<line x1="109.49" y1="448.00" x2="112.29" y2="448.00" stroke="#CB5CA2" stroke-width="1.2" />
<line x1="109.49" y1="456.00" x2="112.29" y2="456.00" stroke="#CB5CA2" stroke-width="1.2" />
<circle cx="31.30" cy="534.00" r="2.2" fill="#CB5CA2" />
<circle cx="42.67" cy="533.00" r="2.2" fill="#CB5CA2" />
<circle cx="54.04" cy="523.00" r="2.2" fill="#CB5CA2" />
<circle cx="65.41" cy="515.40" r="2.2" fill="#CB5CA2" />
<circle cx="76.78" cy="494.00" r="2.2" fill="#CB5CA2" />
<circle cx="88.15" cy="473.80" r="2.2" fill="#CB5CA2" />
<circle cx="99.52" cy="462.80" r="2.2" fill="#CB5CA2" />
<circle cx="110.89" cy="452.60" r="2.2" fill="#CB5CA2" />
<circle cx="31.30" cy="510.50" r="2.2" fill="#AFD8EB" />
<circle cx="42.67" cy="527.50" r="2.2" fill="#AFD8EB" />
<circle cx="54.04" cy="502.90" r="2.2" fill="#AFD8EB" />
<circle cx="65.41" cy="508.80" r="2.2" fill="#AFD8EB" />
<circle cx="76.78" cy="483.80" r="2.2" fill="#AFD8EB" />
<line x1="42.67" y1="525.00" x2="42.67" y2="535.00" stroke="#CD1553" stroke-width="1.4" />
<line x1="41.27" y1="525.00" x2="44.07" y2="525.00" stroke="#CD1553" stroke-width="1.2" />
<line x1="41.27" y1="535.00" x2="44.07" y2="535.00" stroke="#CD1553" stroke-width="1.2" />
<line x1="54.04" y1="518.00" x2="54.04" y2="528.00" stroke="#CD1553" stroke-width="1.4" />
<line x1="52.64" y1="518.00" x2="55.44" y2="518.00" stroke="#CD1553" stroke-width="1.2" />
<line x1="52.64" y1="528.00" x2="55.44" y2="528.00" stroke="#CD1553" stroke-width="1.2" />
<circle cx="31.30" cy="531.00" r="2.2" fill="#CD1553" />
<circle cx="42.67" cy="530.20" r="2.2" fill="#CD1553" />
<circle cx="54.04" cy="523.50" r="2.2" fill="#CD1553" />
<circle cx="65.41" cy="520.40" r="2.2" fill="#CD1553" />
<circle cx="76.78" cy="500.50" r="2.2" fill="#CD1553" />
<line x1="133.63" y1="457.00" x2="133.63" y2="473.70" stroke="#F4A400" stroke-width="1.4" />
<line x1="132.23" y1="457.00" x2="135.03" y2="457.00" stroke="#F4A400" stroke-width="1.2" />
<line x1="132.23" y1="473.70" x2="135.03" y2="473.70" stroke="#F4A400" stroke-width="1.2" />
<line x1="122.26" y1="482.30" x2="122.26" y2="490.00" stroke="#F4A400" stroke-width="1.4" />
<line x1="120.86" y1="482.30" x2="123.66" y2="482.30" stroke="#F4A400" stroke-width="1.2" />
<line x1="120.86" y1="490.00" x2="123.66" y2="490.00" stroke="#F4A400" stroke-width="1.2" />
<line x1="110.89" y1="496.50" x2="110.89" y2="502.50" stroke="#F4A400" stroke-width="1.4" />
<line x1="109.49" y1="496.50" x2="112.29" y2="496.50" stroke="#F4A400" stroke-width="1.2" />
<line x1="109.49" y1="502.50" x2="112.29" y2="502.50" stroke="#F4A400" stroke-width="1.2" />
<line x1="76.78" y1="534.00" x2="76.78" y2="540.00" stroke="#F4A400" stroke-width="1.4" />
<line x1="75.38" y1="534.00" x2="78.18" y2="534.00" stroke="#F4A400" stroke-width="1.2" />
<line x1="75.38" y1="540.00" x2="78.18" y2="540.00" stroke="#F4A400" stroke-width="1.2" />
<circle cx="31.30" cy="569.80" r="2.2" fill="#F4A400" />
<circle cx="42.67" cy="562.00" r="2.2" fill="#F4A400" />
<circle cx="54.04" cy="549.70" r="2.2" fill="#F4A400" />
<circle cx="65.41" cy="557.40" r="2.2" fill="#F4A400" />
<circle cx="76.78" cy="537.20" r="2.2" fill="#F4A400" />
<circle cx="88.15" cy="510.80" r="2.2" fill="#F4A400" />
<circle cx="99.52" cy="511.20" r="2.2" fill="#F4A400" />
<circle cx="110.89" cy="499.60" r="2.2" fill="#F4A400" />
<circle cx="122.26" cy="488.20" r="2.2" fill="#F4A400" />
<circle cx="133.63" cy="468.50" r="2.2" fill="#F4A400" />
<line x1="110.89" y1="453.00" x2="110.89" y2="484.00" stroke="#582A64" stroke-width="1.4" />
<line x1="109.49" y1="453.00" x2="112.29" y2="453.00" stroke="#582A64" stroke-width="1.2" />
<line x1="109.49" y1="484.00" x2="112.29" y2="484.00" stroke="#582A64" stroke-width="1.2" />
<circle cx="31.30" cy="534.50" r="2.2" fill="#582A64" />
<circle cx="42.67" cy="543.30" r="2.2" fill="#582A64" />
<circle cx="54.04" cy="519.40" r="2.2" fill="#582A64" />
<circle cx="65.41" cy="522.60" r="2.2" fill="#582A64" />
<circle cx="76.78" cy="490.40" r="2.2" fill="#582A64" />
<circle cx="88.15" cy="457.70" r="2.2" fill="#582A64" />
<circle cx="99.52" cy="457.50" r="2.2" fill="#582A64" />
<circle cx="110.89" cy="456.30" r="2.2" fill="#582A64" />
<line x1="99.52" y1="447.90" x2="99.52" y2="463.00" stroke="#C3D48A" stroke-width="1.4" />
<line x1="98.12" y1="447.90" x2="100.92" y2="447.90" stroke="#C3D48A" stroke-width="1.2" />
<line x1="98.12" y1="463.00" x2="100.92" y2="463.00" stroke="#C3D48A" stroke-width="1.2" />
<line x1="110.89" y1="440.00" x2="110.89" y2="455.00" stroke="#C3D48A" stroke-width="1.4" />
<line x1="109.49" y1="440.00" x2="112.29" y2="440.00" stroke="#C3D48A" stroke-width="1.2" />
<line x1="109.49" y1="455.00" x2="112.29" y2="455.00" stroke="#C3D48A" stroke-width="1.2" />
<circle cx="31.30" cy="524.80" r="2.2" fill="#C3D48A" />
<circle cx="42.67" cy="540.80" r="2.2" fill="#C3D48A" />
<circle cx="54.04" cy="506.10" r="2.2" fill="#C3D48A" />
<circle cx="65.41" cy="524.80" r="2.2" fill="#C3D48A" />
<circle cx="76.78" cy="487.10" r="2.2" fill="#C3D48A" />
<circle cx="88.15" cy="463.40" r="2.2" fill="#C3D48A" />
<circle cx="99.52" cy="456.00" r="2.2" fill="#C3D48A" />
<circle cx="110.89" cy="447.40" r="2.2" fill="#C3D48A" />
<line x1="31.30" y1="482.00" x2="31.30" y2="488.00" stroke="#3893B2" stroke-width="1.4" />
<line x1="29.90" y1="482.00" x2="32.70" y2="482.00" stroke="#3893B2" stroke-width="1.2" />
<line x1="29.90" y1="488.00" x2="32.70" y2="488.00" stroke="#3893B2" stroke-width="1.2" />
<circle cx="31.30" cy="485.40" r="2.2" fill="#3893B2" />
<circle cx="42.67" cy="494.60" r="2.2" fill="#3893B2" />
<circle cx="54.04" cy="472.90" r="2.2" fill="#3893B2" />
<circle cx="65.41" cy="469.10" r="2.2" fill="#3893B2" />
<text x="150.90" y="425.90" font-size="12.3" text-anchor="start" font-weight="bold" font-style="normal" fill="#000" stroke="#000" stroke-width="0.18" >c</text>
<text x="233.30" y="427.40" font-size="7.85" text-anchor="middle" font-weight="normal" font-style="normal" fill="#1a1a1a" stroke="#1a1a1a" stroke-width="0.18" >Peak RAM Usage (MB)</text>
<line x1="175.50" y1="434.50" x2="175.50" y2="579.00" stroke="#222" stroke-width="1.0" />
<line x1="175.00" y1="578.50" x2="290.50" y2="578.50" stroke="#222" stroke-width="1.0" />
<line x1="173.30" y1="463.90" x2="175.50" y2="463.90" stroke="#444" stroke-width="0.9" />
<text x="171.70" y="466.60" font-size="7.6" text-anchor="end" font-weight="normal" font-style="normal" fill="#4d4d4d" stroke="#4d4d4d" stroke-width="0.18" >1e+05</text>
<line x1="173.30" y1="513.30" x2="175.50" y2="513.30" stroke="#444" stroke-width="0.9" />
<text x="171.70" y="516.00" font-size="7.6" text-anchor="end" font-weight="normal" font-style="normal" fill="#4d4d4d" stroke="#4d4d4d" stroke-width="0.18" >1e+04</text>
<line x1="173.30" y1="563.10" x2="175.50" y2="563.10" stroke="#444" stroke-width="0.9" />
<text x="171.70" y="565.80" font-size="7.6" text-anchor="end" font-weight="normal" font-style="normal" fill="#4d4d4d" stroke="#4d4d4d" stroke-width="0.18" >1e+03</text>
<line x1="182.50" y1="578.50" x2="182.50" y2="580.50" stroke="#444" stroke-width="0.9" />
<text x="185.70" y="585.80" font-size="7.7" text-anchor="end" fill="#4d4d4d" transform="rotate(-45 185.70 585.80)">Ileum</text>
<line x1="193.85" y1="578.50" x2="193.85" y2="580.50" stroke="#444" stroke-width="0.9" />
<text x="197.05" y="585.80" font-size="7.7" text-anchor="end" fill="#4d4d4d" transform="rotate(-45 197.05 585.80)">Fibroblast</text>
<line x1="205.20" y1="578.50" x2="205.20" y2="580.50" stroke="#444" stroke-width="0.9" />
<text x="208.40" y="585.80" font-size="7.7" text-anchor="end" fill="#4d4d4d" transform="rotate(-45 208.40 585.80)">ECGE</text>
<line x1="216.55" y1="578.50" x2="216.55" y2="580.50" stroke="#444" stroke-width="0.9" />
<text x="219.75" y="585.80" font-size="7.7" text-anchor="end" fill="#4d4d4d" transform="rotate(-45 219.75 585.80)">BreastB</text>
<line x1="227.90" y1="578.50" x2="227.90" y2="580.50" stroke="#444" stroke-width="0.9" />
<text x="231.10" y="585.80" font-size="7.7" text-anchor="end" fill="#4d4d4d" transform="rotate(-45 231.10 585.80)">Kidney</text>
<line x1="239.25" y1="578.50" x2="239.25" y2="580.50" stroke="#444" stroke-width="0.9" />
<text x="242.45" y="585.80" font-size="7.7" text-anchor="end" fill="#4d4d4d" transform="rotate(-45 242.45 585.80)">Angular</text>
<line x1="250.60" y1="578.50" x2="250.60" y2="580.50" stroke="#444" stroke-width="0.9" />
<text x="253.80" y="585.80" font-size="7.7" text-anchor="end" fill="#4d4d4d" transform="rotate(-45 253.80 585.80)">Retina</text>
<line x1="261.95" y1="578.50" x2="261.95" y2="580.50" stroke="#444" stroke-width="0.9" />
<text x="265.15" y="585.80" font-size="7.7" text-anchor="end" fill="#4d4d4d" transform="rotate(-45 265.15 585.80)">GBmap</text>
<line x1="273.30" y1="578.50" x2="273.30" y2="580.50" stroke="#444" stroke-width="0.9" />
<text x="276.50" y="585.80" font-size="7.7" text-anchor="end" fill="#4d4d4d" transform="rotate(-45 276.50 585.80)">AIDA</text>
<line x1="284.65" y1="578.50" x2="284.65" y2="580.50" stroke="#444" stroke-width="0.9" />
<text x="287.85" y="585.80" font-size="7.7" text-anchor="end" fill="#4d4d4d" transform="rotate(-45 287.85 585.80)">HLCA</text>
<polyline points="182.50,564.70 193.85,562.80 205.20,555.20 216.55,544.70 227.90,527.00 239.25,498.00 250.60,475.80 261.95,460.30" fill="none" stroke="#E4CDDF" stroke-width="1.6" stroke-dasharray="5,4.4"/>
<polyline points="182.50,569.60 193.85,571.20 205.20,564.00 216.55,553.90 227.90,528.90 239.25,503.00 250.60,486.90 261.95,466.90" fill="none" stroke="#CB5CA2" stroke-width="1.6" stroke-dasharray="5,4.4"/>
<polyline points="182.50,519.00 193.85,521.70 205.20,516.40 216.55,505.30 227.90,470.60" fill="none" stroke="#AFD8EB" stroke-width="1.6" stroke-dasharray="5,4.4"/>
<polyline points="182.50,544.70 193.85,546.30 205.20,543.10 216.55,538.10 227.90,516.60" fill="none" stroke="#CD1553" stroke-width="1.6" stroke-dasharray="5,4.4"/>
<polyline points="182.50,569.30 193.85,571.40 205.20,557.60 216.55,559.10 227.90,540.50 239.25,504.60 250.60,499.40 261.95,475.00 273.30,474.60 284.65,455.10" fill="none" stroke="#F4A400" stroke-width="1.6" stroke-dasharray="5,4.4"/>
<polyline points="182.50,540.70 193.85,541.80 205.20,535.20 216.55,531.30 227.90,502.40 239.25,476.50 250.60,456.60 261.95,451.10" fill="none" stroke="#582A64" stroke-width="1.6" stroke-dasharray="5,4.4"/>
<polyline points="182.50,522.30 193.85,530.60 205.20,524.00 216.55,516.40 227.90,492.00 239.25,461.80 250.60,448.00 261.95,441.80" fill="none" stroke="#C3D48A" stroke-width="1.6" stroke-dasharray="5,4.4"/>
<polyline points="182.50,514.80 193.85,518.40 205.20,508.10 216.55,498.00" fill="none" stroke="#3893B2" stroke-width="1.6" stroke-dasharray="5,4.4"/>
<circle cx="182.50" cy="564.70" r="2.2" fill="#E4CDDF" />
<circle cx="193.85" cy="562.80" r="2.2" fill="#E4CDDF" />
<circle cx="205.20" cy="555.20" r="2.2" fill="#E4CDDF" />
<circle cx="216.55" cy="544.70" r="2.2" fill="#E4CDDF" />
<circle cx="227.90" cy="527.00" r="2.2" fill="#E4CDDF" />
<circle cx="239.25" cy="498.00" r="2.2" fill="#E4CDDF" />
<circle cx="250.60" cy="475.80" r="2.2" fill="#E4CDDF" />
<circle cx="261.95" cy="460.30" r="2.2" fill="#E4CDDF" />
<circle cx="182.50" cy="569.60" r="2.2" fill="#CB5CA2" />
<circle cx="193.85" cy="571.20" r="2.2" fill="#CB5CA2" />
<circle cx="205.20" cy="564.00" r="2.2" fill="#CB5CA2" />
<circle cx="216.55" cy="553.90" r="2.2" fill="#CB5CA2" />
<circle cx="227.90" cy="528.90" r="2.2" fill="#CB5CA2" />
<circle cx="239.25" cy="503.00" r="2.2" fill="#CB5CA2" />
<circle cx="250.60" cy="486.90" r="2.2" fill="#CB5CA2" />
<circle cx="261.95" cy="466.90" r="2.2" fill="#CB5CA2" />
<line x1="227.90" y1="470.60" x2="227.90" y2="480.00" stroke="#AFD8EB" stroke-width="1.4" />
<line x1="226.50" y1="470.60" x2="229.30" y2="470.60" stroke="#AFD8EB" stroke-width="1.2" />
<line x1="226.50" y1="480.00" x2="229.30" y2="480.00" stroke="#AFD8EB" stroke-width="1.2" />
<circle cx="182.50" cy="519.00" r="2.2" fill="#AFD8EB" />
<circle cx="193.85" cy="521.70" r="2.2" fill="#AFD8EB" />
<circle cx="205.20" cy="516.40" r="2.2" fill="#AFD8EB" />
<circle cx="216.55" cy="505.30" r="2.2" fill="#AFD8EB" />
<circle cx="227.90" cy="470.60" r="2.2" fill="#AFD8EB" />
<circle cx="182.50" cy="544.70" r="2.2" fill="#CD1553" />
<circle cx="193.85" cy="546.30" r="2.2" fill="#CD1553" />
<circle cx="205.20" cy="543.10" r="2.2" fill="#CD1553" />
<circle cx="216.55" cy="538.10" r="2.2" fill="#CD1553" />
<circle cx="227.90" cy="516.60" r="2.2" fill="#CD1553" />
<circle cx="182.50" cy="569.30" r="2.2" fill="#F4A400" />
<circle cx="193.85" cy="571.40" r="2.2" fill="#F4A400" />
<circle cx="205.20" cy="557.60" r="2.2" fill="#F4A400" />
<circle cx="216.55" cy="559.10" r="2.2" fill="#F4A400" />
<circle cx="227.90" cy="540.50" r="2.2" fill="#F4A400" />
<circle cx="239.25" cy="504.60" r="2.2" fill="#F4A400" />
<circle cx="250.60" cy="499.40" r="2.2" fill="#F4A400" />
<circle cx="261.95" cy="475.00" r="2.2" fill="#F4A400" />
<circle cx="273.30" cy="474.60" r="2.2" fill="#F4A400" />
<circle cx="284.65" cy="455.10" r="2.2" fill="#F4A400" />
<circle cx="182.50" cy="540.70" r="2.2" fill="#582A64" />
<circle cx="193.85" cy="541.80" r="2.2" fill="#582A64" />
<circle cx="205.20" cy="535.20" r="2.2" fill="#582A64" />
<circle cx="216.55" cy="531.30" r="2.2" fill="#582A64" />
<circle cx="227.90" cy="502.40" r="2.2" fill="#582A64" />
<circle cx="239.25" cy="476.50" r="2.2" fill="#582A64" />
<circle cx="250.60" cy="456.60" r="2.2" fill="#582A64" />
<circle cx="261.95" cy="451.10" r="2.2" fill="#582A64" />
<circle cx="182.50" cy="522.30" r="2.2" fill="#C3D48A" />
<circle cx="193.85" cy="530.60" r="2.2" fill="#C3D48A" />
<circle cx="205.20" cy="524.00" r="2.2" fill="#C3D48A" />
<circle cx="216.55" cy="516.40" r="2.2" fill="#C3D48A" />
<circle cx="227.90" cy="492.00" r="2.2" fill="#C3D48A" />
<circle cx="239.25" cy="461.80" r="2.2" fill="#C3D48A" />
<circle cx="250.60" cy="448.00" r="2.2" fill="#C3D48A" />
<circle cx="261.95" cy="441.80" r="2.2" fill="#C3D48A" />
<circle cx="182.50" cy="514.80" r="2.2" fill="#3893B2" />
<circle cx="193.85" cy="518.40" r="2.2" fill="#3893B2" />
<circle cx="205.20" cy="508.10" r="2.2" fill="#3893B2" />
<circle cx="216.55" cy="498.00" r="2.2" fill="#3893B2" />
<text x="314.00" y="489.60" font-size="7.7" text-anchor="start" font-weight="bold" font-style="normal" fill="#1a1a1a" stroke="#1a1a1a" stroke-width="0.18" >method</text>
<line x1="290.00" y1="498.60" x2="307.60" y2="498.60" stroke="#F4A400" stroke-width="2.0" />
<circle cx="299.00" cy="498.60" r="2.3" fill="#F4A400" />
<text x="314.00" y="501.30" font-size="7.7" text-anchor="start" font-weight="normal" font-style="normal" fill="#1a1a1a" stroke="#1a1a1a" stroke-width="0.18" >FastCCC</text>
<line x1="290.00" y1="508.60" x2="307.60" y2="508.60" stroke="#CD1553" stroke-width="2.0" />
<circle cx="299.00" cy="508.60" r="2.3" fill="#CD1553" />
<text x="314.00" y="511.30" font-size="7.7" text-anchor="start" font-weight="normal" font-style="normal" fill="#1a1a1a" stroke="#1a1a1a" stroke-width="0.18" >CellChat</text>
<line x1="290.00" y1="518.60" x2="307.60" y2="518.60" stroke="#CB5CA2" stroke-width="2.0" />
<circle cx="299.00" cy="518.60" r="2.3" fill="#CB5CA2" />
<text x="314.00" y="521.30" font-size="7.7" text-anchor="start" font-weight="normal" font-style="normal" fill="#1a1a1a" stroke="#1a1a1a" stroke-width="0.18" >CPDB_v5</text>
<line x1="290.00" y1="528.60" x2="307.60" y2="528.60" stroke="#E4CDDF" stroke-width="2.0" />
<circle cx="299.00" cy="528.60" r="2.3" fill="#E4CDDF" />
<text x="314.00" y="531.30" font-size="7.7" text-anchor="start" font-weight="normal" font-style="normal" fill="#1a1a1a" stroke="#1a1a1a" stroke-width="0.18" >CPDB_v4</text>
<line x1="290.00" y1="538.60" x2="307.60" y2="538.60" stroke="#582A64" stroke-width="2.0" />
<circle cx="299.00" cy="538.60" r="2.3" fill="#582A64" />
<text x="314.00" y="541.30" font-size="7.7" text-anchor="start" font-weight="normal" font-style="normal" fill="#1a1a1a" stroke="#1a1a1a" stroke-width="0.18" >ICELLNET</text>
<line x1="290.00" y1="548.60" x2="307.60" y2="548.60" stroke="#3893B2" stroke-width="2.0" />
<circle cx="299.00" cy="548.60" r="2.3" fill="#3893B2" />
<text x="314.00" y="551.30" font-size="7.7" text-anchor="start" font-weight="normal" font-style="normal" fill="#1a1a1a" stroke="#1a1a1a" stroke-width="0.18" >SingleCellSignalR</text>
<line x1="290.00" y1="558.60" x2="307.60" y2="558.60" stroke="#AFD8EB" stroke-width="2.0" />
<circle cx="299.00" cy="558.60" r="2.3" fill="#AFD8EB" />
<text x="314.00" y="561.30" font-size="7.7" text-anchor="start" font-weight="normal" font-style="normal" fill="#1a1a1a" stroke="#1a1a1a" stroke-width="0.18" >CellCall</text>
<line x1="290.00" y1="568.60" x2="307.60" y2="568.60" stroke="#C3D48A" stroke-width="2.0" />
<circle cx="299.00" cy="568.60" r="2.3" fill="#C3D48A" />
<text x="314.00" y="571.30" font-size="7.7" text-anchor="start" font-weight="normal" font-style="normal" fill="#1a1a1a" stroke="#1a1a1a" stroke-width="0.18" >NicheNet</text>
<text x="362.30" y="11.60" font-size="12.3" text-anchor="start" font-weight="bold" font-style="normal" fill="#000" stroke="#000" stroke-width="0.18" >d</text>
<text x="371.3" y="140.8" font-size="7.6" text-anchor="middle" fill="#1a1a1a" transform="rotate(-90 371.3 140.8)" dy="2.7">False Positive Rate</text>
<text x="439.45" y="5.80" font-size="7.7" text-anchor="middle" font-weight="normal" font-style="normal" fill="#1a1a1a" stroke="#1a1a1a" stroke-width="0.18" >Ileum</text>
<line x1="400.90" y1="10.90" x2="400.90" y2="87.80" stroke="#333" stroke-width="1.0" />
<line x1="400.40" y1="87.30" x2="478.00" y2="87.30" stroke="#333" stroke-width="1.0" />
<line x1="398.70" y1="84.35" x2="400.90" y2="84.35" stroke="#333" stroke-width="0.9" />
<text x="397.80" y="87.25" font-size="7.7" text-anchor="end" font-weight="normal" font-style="normal" fill="#4d4d4d" stroke="#4d4d4d" stroke-width="0.18" >0.000</text>
<line x1="398.70" y1="67.17" x2="400.90" y2="67.17" stroke="#333" stroke-width="0.9" />
<text x="397.80" y="70.08" font-size="7.7" text-anchor="end" font-weight="normal" font-style="normal" fill="#4d4d4d" stroke="#4d4d4d" stroke-width="0.18" >0.025</text>
<line x1="398.70" y1="50.00" x2="400.90" y2="50.00" stroke="#333" stroke-width="0.9" />
<text x="397.80" y="52.90" font-size="7.7" text-anchor="end" font-weight="normal" font-style="normal" fill="#4d4d4d" stroke="#4d4d4d" stroke-width="0.18" >0.050</text>
<line x1="398.70" y1="32.82" x2="400.90" y2="32.82" stroke="#333" stroke-width="0.9" />
<text x="397.80" y="35.72" font-size="7.7" text-anchor="end" font-weight="normal" font-style="normal" fill="#4d4d4d" stroke="#4d4d4d" stroke-width="0.18" >0.075</text>
<line x1="398.70" y1="15.65" x2="400.90" y2="15.65" stroke="#333" stroke-width="0.9" />
<text x="397.80" y="18.55" font-size="7.7" text-anchor="end" font-weight="normal" font-style="normal" fill="#4d4d4d" stroke="#4d4d4d" stroke-width="0.18" >0.100</text>
<circle cx="405.48" cy="76.79" r="1.45" fill="#F4A400" fill-opacity="0.85"/>
<circle cx="404.45" cy="77.48" r="1.45" fill="#F4A400" fill-opacity="0.85"/>
<circle cx="407.45" cy="78.17" r="1.45" fill="#F4A400" fill-opacity="0.85"/>
<circle cx="403.98" cy="78.85" r="1.45" fill="#F4A400" fill-opacity="0.85"/>
<circle cx="406.76" cy="79.54" r="1.45" fill="#F4A400" fill-opacity="0.85"/>
<circle cx="404.65" cy="78.17" r="1.45" fill="#F4A400" fill-opacity="0.85"/>
<circle cx="415.14" cy="66.49" r="1.45" fill="#CD1553" fill-opacity="0.85"/>
<circle cx="413.29" cy="67.17" r="1.45" fill="#CD1553" fill-opacity="0.85"/>
<circle cx="415.99" cy="68.55" r="1.45" fill="#CD1553" fill-opacity="0.85"/>
<circle cx="413.17" cy="69.24" r="1.45" fill="#CD1553" fill-opacity="0.85"/>
<circle cx="415.55" cy="69.92" r="1.45" fill="#CD1553" fill-opacity="0.85"/>
<circle cx="413.36" cy="67.86" r="1.45" fill="#CD1553" fill-opacity="0.85"/>
<circle cx="422.89" cy="21.15" r="1.45" fill="#CB5CA2" fill-opacity="0.85"/>
<circle cx="424.89" cy="22.52" r="1.45" fill="#CB5CA2" fill-opacity="0.85"/>
<circle cx="427.31" cy="23.89" r="1.45" fill="#CB5CA2" fill-opacity="0.85"/>
<circle cx="423.09" cy="25.27" r="1.45" fill="#CB5CA2" fill-opacity="0.85"/>
<circle cx="423.69" cy="26.64" r="1.45" fill="#CB5CA2" fill-opacity="0.85"/>
<circle cx="426.11" cy="48.63" r="1.45" fill="#CB5CA2" fill-opacity="0.85"/>
<circle cx="423.31" cy="48.63" r="1.45" fill="#CB5CA2" fill-opacity="0.85"/>
<circle cx="423.31" cy="48.63" r="1.45" fill="#CB5CA2" fill-opacity="0.85"/>
<circle cx="437.44" cy="21.15" r="1.45" fill="#E4CDDF" fill-opacity="0.85"/>
<circle cx="435.21" cy="23.21" r="1.45" fill="#E4CDDF" fill-opacity="0.85"/>
<circle cx="434.13" cy="24.58" r="1.45" fill="#E4CDDF" fill-opacity="0.85"/>
<circle cx="437.61" cy="26.64" r="1.45" fill="#E4CDDF" fill-opacity="0.85"/>
<circle cx="432.03" cy="48.63" r="1.45" fill="#E4CDDF" fill-opacity="0.85"/>
<circle cx="446.30" cy="36.26" r="1.45" fill="#582A64" fill-opacity="0.85"/>
<circle cx="443.50" cy="36.26" r="1.45" fill="#582A64" fill-opacity="0.85"/>
<circle cx="442.89" cy="50.00" r="1.45" fill="#582A64" fill-opacity="0.85"/>
<circle cx="442.02" cy="52.06" r="1.45" fill="#582A64" fill-opacity="0.85"/>
<circle cx="441.86" cy="53.43" r="1.45" fill="#582A64" fill-opacity="0.85"/>
<circle cx="443.00" cy="55.50" r="1.45" fill="#582A64" fill-opacity="0.85"/>
<circle cx="446.05" cy="56.87" r="1.45" fill="#582A64" fill-opacity="0.85"/>
<circle cx="442.24" cy="58.93" r="1.45" fill="#582A64" fill-opacity="0.85"/>
<circle cx="444.64" cy="60.30" r="1.45" fill="#582A64" fill-opacity="0.85"/>
<circle cx="444.98" cy="65.80" r="1.45" fill="#582A64" fill-opacity="0.85"/>
<circle cx="452.79" cy="32.14" r="1.45" fill="#3893B2" fill-opacity="0.85"/>
<circle cx="453.84" cy="33.51" r="1.45" fill="#3893B2" fill-opacity="0.85"/>
<circle cx="450.93" cy="34.89" r="1.45" fill="#3893B2" fill-opacity="0.85"/>
<circle cx="450.91" cy="36.26" r="1.45" fill="#3893B2" fill-opacity="0.85"/>
<circle cx="451.79" cy="37.63" r="1.45" fill="#3893B2" fill-opacity="0.85"/>
<circle cx="454.64" cy="39.01" r="1.45" fill="#3893B2" fill-opacity="0.85"/>
<circle cx="453.12" cy="40.38" r="1.45" fill="#3893B2" fill-opacity="0.85"/>
<circle cx="461.84" cy="70.61" r="1.45" fill="#AFD8EB" fill-opacity="0.85"/>
<circle cx="464.64" cy="70.61" r="1.45" fill="#AFD8EB" fill-opacity="0.85"/>
<circle cx="463.47" cy="83.66" r="1.45" fill="#AFD8EB" fill-opacity="0.85"/>
<circle cx="462.68" cy="84.35" r="1.45" fill="#AFD8EB" fill-opacity="0.85"/>
<circle cx="465.48" cy="84.35" r="1.45" fill="#AFD8EB" fill-opacity="0.85"/>
<circle cx="471.16" cy="22.52" r="1.45" fill="#C3D48A" fill-opacity="0.85"/>
<circle cx="474.12" cy="23.21" r="1.45" fill="#C3D48A" fill-opacity="0.85"/>
<circle cx="473.55" cy="24.58" r="1.45" fill="#C3D48A" fill-opacity="0.85"/>
<circle cx="470.82" cy="25.95" r="1.45" fill="#C3D48A" fill-opacity="0.85"/>
<circle cx="472.81" cy="28.02" r="1.45" fill="#C3D48A" fill-opacity="0.85"/>
<circle cx="472.51" cy="29.39" r="1.45" fill="#C3D48A" fill-opacity="0.85"/>
<circle cx="474.61" cy="31.45" r="1.45" fill="#C3D48A" fill-opacity="0.85"/>
<circle cx="473.74" cy="41.76" r="1.45" fill="#C3D48A" fill-opacity="0.85"/>
<circle cx="471.09" cy="45.88" r="1.45" fill="#C3D48A" fill-opacity="0.85"/>
<circle cx="406.54" cy="78.51" r="1.35" fill="#000" />
<circle cx="415.94" cy="68.21" r="1.35" fill="#000" />
<line x1="425.35" y1="24.31" x2="425.35" y2="33.10" stroke="#000" stroke-width="1.1" />
<line x1="423.45" y1="24.31" x2="427.25" y2="24.31" stroke="#000" stroke-width="1.0" />
<line x1="423.45" y1="33.10" x2="427.25" y2="33.10" stroke="#000" stroke-width="1.0" />
<circle cx="425.35" cy="28.70" r="1.35" fill="#000" />
<line x1="434.75" y1="24.99" x2="434.75" y2="33.79" stroke="#000" stroke-width="1.1" />
<line x1="432.85" y1="24.99" x2="436.65" y2="24.99" stroke="#000" stroke-width="1.0" />
<line x1="432.85" y1="33.79" x2="436.65" y2="33.79" stroke="#000" stroke-width="1.0" />
<circle cx="434.75" cy="29.39" r="1.35" fill="#000" />
<line x1="444.15" y1="49.73" x2="444.15" y2="58.52" stroke="#000" stroke-width="1.1" />
<line x1="442.25" y1="49.73" x2="446.05" y2="49.73" stroke="#000" stroke-width="1.0" />
<line x1="442.25" y1="58.52" x2="446.05" y2="58.52" stroke="#000" stroke-width="1.0" />
<circle cx="444.15" cy="54.12" r="1.35" fill="#000" />
<line x1="453.55" y1="34.75" x2="453.55" y2="39.15" stroke="#000" stroke-width="1.1" />
<line x1="451.65" y1="34.75" x2="455.45" y2="34.75" stroke="#000" stroke-width="1.0" />
<line x1="451.65" y1="39.15" x2="455.45" y2="39.15" stroke="#000" stroke-width="1.0" />
<circle cx="453.55" cy="36.95" r="1.35" fill="#000" />
<line x1="462.96" y1="81.33" x2="462.96" y2="84.62" stroke="#000" stroke-width="1.1" />
<line x1="461.06" y1="81.33" x2="464.86" y2="81.33" stroke="#000" stroke-width="1.0" />
<line x1="461.06" y1="84.62" x2="464.86" y2="84.62" stroke="#000" stroke-width="1.0" />
<circle cx="462.96" cy="82.98" r="1.35" fill="#000" />
<line x1="472.36" y1="28.15" x2="472.36" y2="34.75" stroke="#000" stroke-width="1.1" />
<line x1="470.46" y1="28.15" x2="474.26" y2="28.15" stroke="#000" stroke-width="1.0" />
<line x1="470.46" y1="34.75" x2="474.26" y2="34.75" stroke="#000" stroke-width="1.0" />
<circle cx="472.36" cy="31.45" r="1.35" fill="#000" />
<text x="542.35" y="5.80" font-size="7.7" text-anchor="middle" font-weight="normal" font-style="normal" fill="#1a1a1a" stroke="#1a1a1a" stroke-width="0.18" >Fibroblast</text>
<line x1="504.00" y1="10.90" x2="504.00" y2="87.80" stroke="#333" stroke-width="1.0" />
<line x1="503.50" y1="87.30" x2="580.70" y2="87.30" stroke="#333" stroke-width="1.0" />
<line x1="501.80" y1="84.60" x2="504.00" y2="84.60" stroke="#333" stroke-width="0.9" />
<text x="500.90" y="87.50" font-size="7.7" text-anchor="end" font-weight="normal" font-style="normal" fill="#4d4d4d" stroke="#4d4d4d" stroke-width="0.18" >0.00</text>
<line x1="501.80" y1="68.67" x2="504.00" y2="68.67" stroke="#333" stroke-width="0.9" />
<text x="500.90" y="71.58" font-size="7.7" text-anchor="end" font-weight="normal" font-style="normal" fill="#4d4d4d" stroke="#4d4d4d" stroke-width="0.18" >0.05</text>
<line x1="501.80" y1="52.75" x2="504.00" y2="52.75" stroke="#333" stroke-width="0.9" />
<text x="500.90" y="55.65" font-size="7.7" text-anchor="end" font-weight="normal" font-style="normal" fill="#4d4d4d" stroke="#4d4d4d" stroke-width="0.18" >0.10</text>
<line x1="501.80" y1="36.82" x2="504.00" y2="36.82" stroke="#333" stroke-width="0.9" />
<text x="500.90" y="39.72" font-size="7.7" text-anchor="end" font-weight="normal" font-style="normal" fill="#4d4d4d" stroke="#4d4d4d" stroke-width="0.18" >0.15</text>
<line x1="501.80" y1="20.90" x2="504.00" y2="20.90" stroke="#333" stroke-width="0.9" />
<text x="500.90" y="23.80" font-size="7.7" text-anchor="end" font-weight="normal" font-style="normal" fill="#4d4d4d" stroke="#4d4d4d" stroke-width="0.18" >0.20</text>
<circle cx="512.49" cy="76.64" r="1.45" fill="#F4A400" fill-opacity="0.85"/>
<circle cx="507.32" cy="78.23" r="1.45" fill="#F4A400" fill-opacity="0.85"/>
<circle cx="509.12" cy="79.19" r="1.45" fill="#F4A400" fill-opacity="0.85"/>
<circle cx="511.16" cy="79.82" r="1.45" fill="#F4A400" fill-opacity="0.85"/>
<circle cx="507.52" cy="80.78" r="1.45" fill="#F4A400" fill-opacity="0.85"/>
<circle cx="509.55" cy="81.41" r="1.45" fill="#F4A400" fill-opacity="0.85"/>
<circle cx="506.85" cy="82.05" r="1.45" fill="#F4A400" fill-opacity="0.85"/>
<circle cx="519.98" cy="74.41" r="1.45" fill="#CD1553" fill-opacity="0.85"/>
<circle cx="520.55" cy="75.68" r="1.45" fill="#CD1553" fill-opacity="0.85"/>
<circle cx="519.40" cy="76.64" r="1.45" fill="#CD1553" fill-opacity="0.85"/>
<circle cx="521.22" cy="77.59" r="1.45" fill="#CD1553" fill-opacity="0.85"/>
<circle cx="517.85" cy="78.23" r="1.45" fill="#CD1553" fill-opacity="0.85"/>
<circle cx="520.14" cy="78.87" r="1.45" fill="#CD1553" fill-opacity="0.85"/>
<circle cx="519.53" cy="79.82" r="1.45" fill="#CD1553" fill-opacity="0.85"/>
<circle cx="519.45" cy="80.78" r="1.45" fill="#CD1553" fill-opacity="0.85"/>
<circle cx="528.06" cy="66.45" r="1.45" fill="#CB5CA2" fill-opacity="0.85"/>
<circle cx="530.36" cy="67.72" r="1.45" fill="#CB5CA2" fill-opacity="0.85"/>
<circle cx="530.99" cy="68.67" r="1.45" fill="#CB5CA2" fill-opacity="0.85"/>
<circle cx="528.16" cy="69.63" r="1.45" fill="#CB5CA2" fill-opacity="0.85"/>
<circle cx="529.30" cy="70.59" r="1.45" fill="#CB5CA2" fill-opacity="0.85"/>
<circle cx="525.68" cy="71.54" r="1.45" fill="#CB5CA2" fill-opacity="0.85"/>
<circle cx="529.53" cy="72.50" r="1.45" fill="#CB5CA2" fill-opacity="0.85"/>
<circle cx="529.20" cy="73.45" r="1.45" fill="#CB5CA2" fill-opacity="0.85"/>
<circle cx="540.63" cy="66.76" r="1.45" fill="#E4CDDF" fill-opacity="0.85"/>
<circle cx="539.60" cy="68.04" r="1.45" fill="#E4CDDF" fill-opacity="0.85"/>
<circle cx="536.38" cy="69.31" r="1.45" fill="#E4CDDF" fill-opacity="0.85"/>
<circle cx="536.99" cy="70.59" r="1.45" fill="#E4CDDF" fill-opacity="0.85"/>
<circle cx="538.69" cy="71.86" r="1.45" fill="#E4CDDF" fill-opacity="0.85"/>
<circle cx="534.81" cy="73.13" r="1.45" fill="#E4CDDF" fill-opacity="0.85"/>
<circle cx="546.80" cy="51.16" r="1.45" fill="#582A64" fill-opacity="0.85"/>
<circle cx="545.04" cy="52.75" r="1.45" fill="#582A64" fill-opacity="0.85"/>
<circle cx="544.73" cy="54.34" r="1.45" fill="#582A64" fill-opacity="0.85"/>
<circle cx="544.38" cy="55.93" r="1.45" fill="#582A64" fill-opacity="0.85"/>
<circle cx="548.64" cy="56.89" r="1.45" fill="#582A64" fill-opacity="0.85"/>
<circle cx="544.80" cy="57.53" r="1.45" fill="#582A64" fill-opacity="0.85"/>
<circle cx="545.51" cy="59.12" r="1.45" fill="#582A64" fill-opacity="0.85"/>
<circle cx="546.37" cy="62.30" r="1.45" fill="#582A64" fill-opacity="0.85"/>
<circle cx="549.17" cy="62.30" r="1.45" fill="#582A64" fill-opacity="0.85"/>
<circle cx="558.61" cy="20.90" r="1.45" fill="#3893B2" fill-opacity="0.85"/>
<circle cx="553.86" cy="21.54" r="1.45" fill="#3893B2" fill-opacity="0.85"/>
<circle cx="556.08" cy="27.27" r="1.45" fill="#3893B2" fill-opacity="0.85"/>
<circle cx="556.68" cy="28.86" r="1.45" fill="#3893B2" fill-opacity="0.85"/>
<circle cx="558.68" cy="30.45" r="1.45" fill="#3893B2" fill-opacity="0.85"/>
<circle cx="558.30" cy="31.09" r="1.45" fill="#3893B2" fill-opacity="0.85"/>
<circle cx="558.56" cy="32.05" r="1.45" fill="#3893B2" fill-opacity="0.85"/>
<circle cx="555.05" cy="33.64" r="1.45" fill="#3893B2" fill-opacity="0.85"/>
<circle cx="565.23" cy="83.01" r="1.45" fill="#AFD8EB" fill-opacity="0.85"/>
<circle cx="564.89" cy="83.64" r="1.45" fill="#AFD8EB" fill-opacity="0.85"/>
<circle cx="568.04" cy="84.60" r="1.45" fill="#AFD8EB" fill-opacity="0.85"/>
<circle cx="565.24" cy="84.60" r="1.45" fill="#AFD8EB" fill-opacity="0.85"/>
<circle cx="577.83" cy="73.13" r="1.45" fill="#C3D48A" fill-opacity="0.85"/>
<circle cx="572.99" cy="74.09" r="1.45" fill="#C3D48A" fill-opacity="0.85"/>
<circle cx="573.15" cy="75.04" r="1.45" fill="#C3D48A" fill-opacity="0.85"/>
<circle cx="573.48" cy="75.68" r="1.45" fill="#C3D48A" fill-opacity="0.85"/>
<circle cx="573.49" cy="76.32" r="1.45" fill="#C3D48A" fill-opacity="0.85"/>
<circle cx="575.00" cy="77.27" r="1.45" fill="#C3D48A" fill-opacity="0.85"/>
<circle cx="575.62" cy="77.91" r="1.45" fill="#C3D48A" fill-opacity="0.85"/>
<circle cx="509.61" cy="79.82" r="1.35" fill="#000" />
<circle cx="518.97" cy="77.59" r="1.35" fill="#000" />
<circle cx="528.32" cy="70.27" r="1.35" fill="#000" />
<circle cx="537.67" cy="70.27" r="1.35" fill="#000" />
<line x1="547.03" y1="54.85" x2="547.03" y2="58.93" stroke="#000" stroke-width="1.1" />
<line x1="545.13" y1="54.85" x2="548.93" y2="54.85" stroke="#000" stroke-width="1.0" />
<line x1="545.13" y1="58.93" x2="548.93" y2="58.93" stroke="#000" stroke-width="1.0" />
<circle cx="547.03" cy="56.89" r="1.35" fill="#000" />
<line x1="556.38" y1="27.78" x2="556.38" y2="31.86" stroke="#000" stroke-width="1.1" />
<line x1="554.48" y1="27.78" x2="558.28" y2="27.78" stroke="#000" stroke-width="1.0" />
<line x1="554.48" y1="31.86" x2="558.28" y2="31.86" stroke="#000" stroke-width="1.0" />
<circle cx="556.38" cy="29.82" r="1.35" fill="#000" />
<circle cx="565.73" cy="84.28" r="1.35" fill="#000" />
<circle cx="575.09" cy="75.68" r="1.35" fill="#000" />
<text x="645.05" y="5.80" font-size="7.7" text-anchor="middle" font-weight="normal" font-style="normal" fill="#1a1a1a" stroke="#1a1a1a" stroke-width="0.18" >ECGE</text>
<line x1="606.70" y1="10.90" x2="606.70" y2="87.80" stroke="#333" stroke-width="1.0" />
<line x1="606.20" y1="87.30" x2="683.40" y2="87.30" stroke="#333" stroke-width="1.0" />
<line x1="604.50" y1="85.35" x2="606.70" y2="85.35" stroke="#333" stroke-width="0.9" />
<text x="603.60" y="88.25" font-size="7.7" text-anchor="end" font-weight="normal" font-style="normal" fill="#4d4d4d" stroke="#4d4d4d" stroke-width="0.18" >0.00</text>
<line x1="604.50" y1="65.75" x2="606.70" y2="65.75" stroke="#333" stroke-width="0.9" />
<text x="603.60" y="68.65" font-size="7.7" text-anchor="end" font-weight="normal" font-style="normal" fill="#4d4d4d" stroke="#4d4d4d" stroke-width="0.18" >0.05</text>
<line x1="604.50" y1="46.15" x2="606.70" y2="46.15" stroke="#333" stroke-width="0.9" />
<text x="603.60" y="49.05" font-size="7.7" text-anchor="end" font-weight="normal" font-style="normal" fill="#4d4d4d" stroke="#4d4d4d" stroke-width="0.18" >0.10</text>
<line x1="604.50" y1="26.55" x2="606.70" y2="26.55" stroke="#333" stroke-width="0.9" />
<text x="603.60" y="29.45" font-size="7.7" text-anchor="end" font-weight="normal" font-style="normal" fill="#4d4d4d" stroke="#4d4d4d" stroke-width="0.18" >0.15</text>
<circle cx="610.89" cy="83.39" r="1.45" fill="#F4A400" fill-opacity="0.85"/>
<circle cx="609.34" cy="83.78" r="1.45" fill="#F4A400" fill-opacity="0.85"/>
<circle cx="611.83" cy="84.17" r="1.45" fill="#F4A400" fill-opacity="0.85"/>
<circle cx="614.63" cy="84.17" r="1.45" fill="#F4A400" fill-opacity="0.85"/>
<circle cx="620.88" cy="75.16" r="1.45" fill="#CD1553" fill-opacity="0.85"/>
<circle cx="622.06" cy="75.94" r="1.45" fill="#CD1553" fill-opacity="0.85"/>
<circle cx="624.38" cy="76.73" r="1.45" fill="#CD1553" fill-opacity="0.85"/>
<circle cx="622.81" cy="77.51" r="1.45" fill="#CD1553" fill-opacity="0.85"/>
<circle cx="621.76" cy="78.29" r="1.45" fill="#CD1553" fill-opacity="0.85"/>
<circle cx="622.37" cy="78.69" r="1.45" fill="#CD1553" fill-opacity="0.85"/>
<circle cx="632.08" cy="60.65" r="1.45" fill="#CB5CA2" fill-opacity="0.85"/>
<circle cx="628.34" cy="61.83" r="1.45" fill="#CB5CA2" fill-opacity="0.85"/>
<circle cx="633.42" cy="62.61" r="1.45" fill="#CB5CA2" fill-opacity="0.85"/>
<circle cx="632.70" cy="63.40" r="1.45" fill="#CB5CA2" fill-opacity="0.85"/>
<circle cx="633.27" cy="64.18" r="1.45" fill="#CB5CA2" fill-opacity="0.85"/>
<circle cx="632.81" cy="64.97" r="1.45" fill="#CB5CA2" fill-opacity="0.85"/>
<circle cx="630.37" cy="65.75" r="1.45" fill="#CB5CA2" fill-opacity="0.85"/>
<circle cx="630.41" cy="66.53" r="1.45" fill="#CB5CA2" fill-opacity="0.85"/>
<circle cx="637.99" cy="61.05" r="1.45" fill="#E4CDDF" fill-opacity="0.85"/>
<circle cx="641.18" cy="62.22" r="1.45" fill="#E4CDDF" fill-opacity="0.85"/>
<circle cx="637.75" cy="63.40" r="1.45" fill="#E4CDDF" fill-opacity="0.85"/>
<circle cx="637.78" cy="64.57" r="1.45" fill="#E4CDDF" fill-opacity="0.85"/>
<circle cx="638.63" cy="65.75" r="1.45" fill="#E4CDDF" fill-opacity="0.85"/>
<circle cx="647.70" cy="55.56" r="1.45" fill="#582A64" fill-opacity="0.85"/>
<circle cx="648.77" cy="56.34" r="1.45" fill="#582A64" fill-opacity="0.85"/>
<circle cx="647.04" cy="61.83" r="1.45" fill="#582A64" fill-opacity="0.85"/>
<circle cx="646.73" cy="62.61" r="1.45" fill="#582A64" fill-opacity="0.85"/>
<circle cx="647.63" cy="63.40" r="1.45" fill="#582A64" fill-opacity="0.85"/>
<circle cx="647.34" cy="66.53" r="1.45" fill="#582A64" fill-opacity="0.85"/>
<circle cx="648.91" cy="67.71" r="1.45" fill="#582A64" fill-opacity="0.85"/>
<circle cx="646.88" cy="68.49" r="1.45" fill="#582A64" fill-opacity="0.85"/>
<circle cx="661.33" cy="20.67" r="1.45" fill="#3893B2" fill-opacity="0.85"/>
<circle cx="659.76" cy="21.45" r="1.45" fill="#3893B2" fill-opacity="0.85"/>
<circle cx="656.97" cy="22.24" r="1.45" fill="#3893B2" fill-opacity="0.85"/>
<circle cx="657.59" cy="23.02" r="1.45" fill="#3893B2" fill-opacity="0.85"/>
<circle cx="658.16" cy="23.81" r="1.45" fill="#3893B2" fill-opacity="0.85"/>
<circle cx="667.62" cy="62.61" r="1.45" fill="#AFD8EB" fill-opacity="0.85"/>
<circle cx="666.17" cy="63.79" r="1.45" fill="#AFD8EB" fill-opacity="0.85"/>
<circle cx="670.53" cy="65.75" r="1.45" fill="#AFD8EB" fill-opacity="0.85"/>
<circle cx="671.39" cy="67.71" r="1.45" fill="#AFD8EB" fill-opacity="0.85"/>
<circle cx="668.23" cy="69.67" r="1.45" fill="#AFD8EB" fill-opacity="0.85"/>
<circle cx="668.34" cy="71.63" r="1.45" fill="#AFD8EB" fill-opacity="0.85"/>
<circle cx="665.95" cy="73.59" r="1.45" fill="#AFD8EB" fill-opacity="0.85"/>
<circle cx="666.05" cy="80.65" r="1.45" fill="#AFD8EB" fill-opacity="0.85"/>
<circle cx="676.84" cy="74.77" r="1.45" fill="#C3D48A" fill-opacity="0.85"/>
<circle cx="676.38" cy="75.55" r="1.45" fill="#C3D48A" fill-opacity="0.85"/>
<circle cx="679.76" cy="76.33" r="1.45" fill="#C3D48A" fill-opacity="0.85"/>
<circle cx="675.76" cy="77.12" r="1.45" fill="#C3D48A" fill-opacity="0.85"/>
<circle cx="674.93" cy="77.90" r="1.45" fill="#C3D48A" fill-opacity="0.85"/>
<circle cx="680.49" cy="78.29" r="1.45" fill="#C3D48A" fill-opacity="0.85"/>
<circle cx="612.31" cy="83.78" r="1.35" fill="#000" />
<circle cx="621.67" cy="77.12" r="1.35" fill="#000" />
<line x1="631.02" y1="62.14" x2="631.02" y2="64.65" stroke="#000" stroke-width="1.1" />
<line x1="629.12" y1="62.14" x2="632.92" y2="62.14" stroke="#000" stroke-width="1.0" />
<line x1="629.12" y1="64.65" x2="632.92" y2="64.65" stroke="#000" stroke-width="1.0" />
<circle cx="631.02" cy="63.40" r="1.35" fill="#000" />
<line x1="640.37" y1="62.14" x2="640.37" y2="64.65" stroke="#000" stroke-width="1.1" />
<line x1="638.47" y1="62.14" x2="642.27" y2="62.14" stroke="#000" stroke-width="1.0" />
<line x1="638.47" y1="64.65" x2="642.27" y2="64.65" stroke="#000" stroke-width="1.0" />
<circle cx="640.37" cy="63.40" r="1.35" fill="#000" />
<line x1="649.73" y1="60.11" x2="649.73" y2="65.12" stroke="#000" stroke-width="1.1" />
<line x1="647.83" y1="60.11" x2="651.63" y2="60.11" stroke="#000" stroke-width="1.0" />
<line x1="647.83" y1="65.12" x2="651.63" y2="65.12" stroke="#000" stroke-width="1.0" />
<circle cx="649.73" cy="62.61" r="1.35" fill="#000" />
<circle cx="659.08" cy="22.24" r="1.35" fill="#000" />
<line x1="668.43" y1="66.53" x2="668.43" y2="72.81" stroke="#000" stroke-width="1.1" />
<line x1="666.53" y1="66.53" x2="670.33" y2="66.53" stroke="#000" stroke-width="1.0" />
<line x1="666.53" y1="72.81" x2="670.33" y2="72.81" stroke="#000" stroke-width="1.0" />
<circle cx="668.43" cy="69.67" r="1.35" fill="#000" />
<circle cx="677.79" cy="76.73" r="1.35" fill="#000" />
<text x="439.45" y="102.80" font-size="7.7" text-anchor="middle" font-weight="normal" font-style="normal" fill="#1a1a1a" stroke="#1a1a1a" stroke-width="0.18" >BreastB</text>
<line x1="400.90" y1="107.00" x2="400.90" y2="184.60" stroke="#333" stroke-width="1.0" />
<line x1="400.40" y1="184.10" x2="478.00" y2="184.10" stroke="#333" stroke-width="1.0" />
<line x1="398.70" y1="181.20" x2="400.90" y2="181.20" stroke="#333" stroke-width="0.9" />
<text x="397.80" y="184.10" font-size="7.7" text-anchor="end" font-weight="normal" font-style="normal" fill="#4d4d4d" stroke="#4d4d4d" stroke-width="0.18" >0.00</text>
<line x1="398.70" y1="162.85" x2="400.90" y2="162.85" stroke="#333" stroke-width="0.9" />
<text x="397.80" y="165.75" font-size="7.7" text-anchor="end" font-weight="normal" font-style="normal" fill="#4d4d4d" stroke="#4d4d4d" stroke-width="0.18" >0.02</text>
<line x1="398.70" y1="144.50" x2="400.90" y2="144.50" stroke="#333" stroke-width="0.9" />
<text x="397.80" y="147.40" font-size="7.7" text-anchor="end" font-weight="normal" font-style="normal" fill="#4d4d4d" stroke="#4d4d4d" stroke-width="0.18" >0.04</text>
<line x1="398.70" y1="126.15" x2="400.90" y2="126.15" stroke="#333" stroke-width="0.9" />
<text x="397.80" y="129.05" font-size="7.7" text-anchor="end" font-weight="normal" font-style="normal" fill="#4d4d4d" stroke="#4d4d4d" stroke-width="0.18" >0.06</text>
<line x1="398.70" y1="107.80" x2="400.90" y2="107.80" stroke="#333" stroke-width="0.9" />
<text x="397.80" y="110.70" font-size="7.7" text-anchor="end" font-weight="normal" font-style="normal" fill="#4d4d4d" stroke="#4d4d4d" stroke-width="0.18" >0.08</text>
<circle cx="406.71" cy="173.86" r="1.45" fill="#F4A400" fill-opacity="0.85"/>
<circle cx="404.42" cy="174.78" r="1.45" fill="#F4A400" fill-opacity="0.85"/>
<circle cx="406.80" cy="175.69" r="1.45" fill="#F4A400" fill-opacity="0.85"/>
<circle cx="404.00" cy="175.69" r="1.45" fill="#F4A400" fill-opacity="0.85"/>
<circle cx="403.70" cy="176.61" r="1.45" fill="#F4A400" fill-opacity="0.85"/>
<circle cx="406.71" cy="177.53" r="1.45" fill="#F4A400" fill-opacity="0.85"/>
<circle cx="409.41" cy="178.45" r="1.45" fill="#F4A400" fill-opacity="0.85"/>
<circle cx="418.12" cy="171.11" r="1.45" fill="#CD1553" fill-opacity="0.85"/>
<circle cx="417.12" cy="172.02" r="1.45" fill="#CD1553" fill-opacity="0.85"/>
<circle cx="414.51" cy="172.94" r="1.45" fill="#CD1553" fill-opacity="0.85"/>
<circle cx="415.14" cy="173.86" r="1.45" fill="#CD1553" fill-opacity="0.85"/>
<circle cx="413.95" cy="174.78" r="1.45" fill="#CD1553" fill-opacity="0.85"/>
<circle cx="417.58" cy="175.69" r="1.45" fill="#CD1553" fill-opacity="0.85"/>
<circle cx="425.54" cy="162.85" r="1.45" fill="#CB5CA2" fill-opacity="0.85"/>
<circle cx="422.74" cy="162.85" r="1.45" fill="#CB5CA2" fill-opacity="0.85"/>
<circle cx="427.02" cy="164.69" r="1.45" fill="#CB5CA2" fill-opacity="0.85"/>
<circle cx="424.32" cy="166.52" r="1.45" fill="#CB5CA2" fill-opacity="0.85"/>
<circle cx="423.68" cy="168.35" r="1.45" fill="#CB5CA2" fill-opacity="0.85"/>
<circle cx="427.22" cy="170.19" r="1.45" fill="#CB5CA2" fill-opacity="0.85"/>
<circle cx="428.26" cy="172.02" r="1.45" fill="#CB5CA2" fill-opacity="0.85"/>
<circle cx="427.46" cy="172.94" r="1.45" fill="#CB5CA2" fill-opacity="0.85"/>
<circle cx="436.59" cy="162.85" r="1.45" fill="#E4CDDF" fill-opacity="0.85"/>
<circle cx="436.66" cy="164.69" r="1.45" fill="#E4CDDF" fill-opacity="0.85"/>
<circle cx="436.19" cy="167.44" r="1.45" fill="#E4CDDF" fill-opacity="0.85"/>
<circle cx="433.11" cy="170.19" r="1.45" fill="#E4CDDF" fill-opacity="0.85"/>
<circle cx="434.85" cy="172.02" r="1.45" fill="#E4CDDF" fill-opacity="0.85"/>
<circle cx="433.88" cy="172.94" r="1.45" fill="#E4CDDF" fill-opacity="0.85"/>
<circle cx="441.33" cy="116.97" r="1.45" fill="#582A64" fill-opacity="0.85"/>
<circle cx="444.13" cy="116.97" r="1.45" fill="#582A64" fill-opacity="0.85"/>
<circle cx="441.32" cy="132.57" r="1.45" fill="#582A64" fill-opacity="0.85"/>
<circle cx="442.83" cy="135.32" r="1.45" fill="#582A64" fill-opacity="0.85"/>
<circle cx="442.71" cy="137.16" r="1.45" fill="#582A64" fill-opacity="0.85"/>
<circle cx="445.31" cy="139.00" r="1.45" fill="#582A64" fill-opacity="0.85"/>
<circle cx="446.89" cy="140.83" r="1.45" fill="#582A64" fill-opacity="0.85"/>
<circle cx="443.83" cy="142.66" r="1.45" fill="#582A64" fill-opacity="0.85"/>
<circle cx="456.18" cy="138.08" r="1.45" fill="#3893B2" fill-opacity="0.85"/>
<circle cx="456.48" cy="139.91" r="1.45" fill="#3893B2" fill-opacity="0.85"/>
<circle cx="456.28" cy="144.50" r="1.45" fill="#3893B2" fill-opacity="0.85"/>
<circle cx="452.74" cy="146.33" r="1.45" fill="#3893B2" fill-opacity="0.85"/>
<circle cx="451.88" cy="148.17" r="1.45" fill="#3893B2" fill-opacity="0.85"/>
<circle cx="451.91" cy="149.09" r="1.45" fill="#3893B2" fill-opacity="0.85"/>
<circle cx="451.73" cy="150.00" r="1.45" fill="#3893B2" fill-opacity="0.85"/>
<circle cx="461.18" cy="181.20" r="1.45" fill="#AFD8EB" fill-opacity="0.85"/>
<circle cx="463.98" cy="181.20" r="1.45" fill="#AFD8EB" fill-opacity="0.85"/>
<circle cx="473.10" cy="162.85" r="1.45" fill="#C3D48A" fill-opacity="0.85"/>
<circle cx="474.76" cy="163.77" r="1.45" fill="#C3D48A" fill-opacity="0.85"/>
<circle cx="474.40" cy="166.52" r="1.45" fill="#C3D48A" fill-opacity="0.85"/>
<circle cx="472.24" cy="169.27" r="1.45" fill="#C3D48A" fill-opacity="0.85"/>
<circle cx="473.28" cy="171.11" r="1.45" fill="#C3D48A" fill-opacity="0.85"/>
<circle cx="406.54" cy="176.15" r="1.35" fill="#000" />
<circle cx="415.94" cy="173.40" r="1.35" fill="#000" />
<line x1="425.35" y1="166.59" x2="425.35" y2="170.12" stroke="#000" stroke-width="1.1" />
<line x1="423.45" y1="166.59" x2="427.25" y2="166.59" stroke="#000" stroke-width="1.0" />
<line x1="423.45" y1="170.12" x2="427.25" y2="170.12" stroke="#000" stroke-width="1.0" />
<circle cx="425.35" cy="168.35" r="1.35" fill="#000" />
<line x1="434.75" y1="166.59" x2="434.75" y2="170.12" stroke="#000" stroke-width="1.1" />
<line x1="432.85" y1="166.59" x2="436.65" y2="166.59" stroke="#000" stroke-width="1.0" />
<line x1="432.85" y1="170.12" x2="436.65" y2="170.12" stroke="#000" stroke-width="1.0" />
<circle cx="434.75" cy="168.35" r="1.35" fill="#000" />
<line x1="444.15" y1="131.47" x2="444.15" y2="137.34" stroke="#000" stroke-width="1.1" />
<line x1="442.25" y1="131.47" x2="446.05" y2="131.47" stroke="#000" stroke-width="1.0" />
<line x1="442.25" y1="137.34" x2="446.05" y2="137.34" stroke="#000" stroke-width="1.0" />
<circle cx="444.15" cy="134.41" r="1.35" fill="#000" />
<line x1="453.55" y1="143.22" x2="453.55" y2="147.62" stroke="#000" stroke-width="1.1" />
<line x1="451.65" y1="143.22" x2="455.45" y2="143.22" stroke="#000" stroke-width="1.0" />
<line x1="451.65" y1="147.62" x2="455.45" y2="147.62" stroke="#000" stroke-width="1.0" />
<circle cx="453.55" cy="145.42" r="1.35" fill="#000" />
<circle cx="462.96" cy="181.20" r="1.35" fill="#000" />
<line x1="472.36" y1="164.76" x2="472.36" y2="168.28" stroke="#000" stroke-width="1.1" />
<line x1="470.46" y1="164.76" x2="474.26" y2="164.76" stroke="#000" stroke-width="1.0" />
<line x1="470.46" y1="168.28" x2="474.26" y2="168.28" stroke="#000" stroke-width="1.0" />
<circle cx="472.36" cy="166.52" r="1.35" fill="#000" />
<text x="542.35" y="102.80" font-size="7.7" text-anchor="middle" font-weight="normal" font-style="normal" fill="#1a1a1a" stroke="#1a1a1a" stroke-width="0.18" >Kidney</text>
<line x1="504.00" y1="107.00" x2="504.00" y2="184.60" stroke="#333" stroke-width="1.0" />
<line x1="503.50" y1="184.10" x2="580.70" y2="184.10" stroke="#333" stroke-width="1.0" />
<line x1="501.80" y1="181.40" x2="504.00" y2="181.40" stroke="#333" stroke-width="0.9" />
<text x="500.90" y="184.30" font-size="7.7" text-anchor="end" font-weight="normal" font-style="normal" fill="#4d4d4d" stroke="#4d4d4d" stroke-width="0.18" >0.00</text>
<line x1="501.80" y1="166.20" x2="504.00" y2="166.20" stroke="#333" stroke-width="0.9" />
<text x="500.90" y="169.10" font-size="7.7" text-anchor="end" font-weight="normal" font-style="normal" fill="#4d4d4d" stroke="#4d4d4d" stroke-width="0.18" >0.01</text>
<line x1="501.80" y1="151.00" x2="504.00" y2="151.00" stroke="#333" stroke-width="0.9" />
<text x="500.90" y="153.90" font-size="7.7" text-anchor="end" font-weight="normal" font-style="normal" fill="#4d4d4d" stroke="#4d4d4d" stroke-width="0.18" >0.02</text>
<line x1="501.80" y1="135.80" x2="504.00" y2="135.80" stroke="#333" stroke-width="0.9" />
<text x="500.90" y="138.70" font-size="7.7" text-anchor="end" font-weight="normal" font-style="normal" fill="#4d4d4d" stroke="#4d4d4d" stroke-width="0.18" >0.03</text>
<line x1="501.80" y1="120.60" x2="504.00" y2="120.60" stroke="#333" stroke-width="0.9" />
<text x="500.90" y="123.50" font-size="7.7" text-anchor="end" font-weight="normal" font-style="normal" fill="#4d4d4d" stroke="#4d4d4d" stroke-width="0.18" >0.04</text>
<circle cx="512.19" cy="179.58" r="1.45" fill="#F4A400" fill-opacity="0.85"/>
<circle cx="507.90" cy="179.88" r="1.45" fill="#F4A400" fill-opacity="0.85"/>
<circle cx="510.70" cy="179.88" r="1.45" fill="#F4A400" fill-opacity="0.85"/>
<circle cx="511.36" cy="180.18" r="1.45" fill="#F4A400" fill-opacity="0.85"/>
<circle cx="523.50" cy="179.58" r="1.45" fill="#CD1553" fill-opacity="0.85"/>
<circle cx="522.74" cy="179.88" r="1.45" fill="#CD1553" fill-opacity="0.85"/>
<circle cx="522.55" cy="180.18" r="1.45" fill="#CD1553" fill-opacity="0.85"/>
<circle cx="520.91" cy="180.49" r="1.45" fill="#CD1553" fill-opacity="0.85"/>
<circle cx="529.77" cy="163.16" r="1.45" fill="#CB5CA2" fill-opacity="0.85"/>
<circle cx="533.43" cy="164.68" r="1.45" fill="#CB5CA2" fill-opacity="0.85"/>
<circle cx="530.69" cy="167.72" r="1.45" fill="#CB5CA2" fill-opacity="0.85"/>
<circle cx="533.50" cy="169.24" r="1.45" fill="#CB5CA2" fill-opacity="0.85"/>
<circle cx="534.53" cy="170.76" r="1.45" fill="#CB5CA2" fill-opacity="0.85"/>
<circle cx="531.07" cy="172.28" r="1.45" fill="#CB5CA2" fill-opacity="0.85"/>
<circle cx="531.11" cy="173.80" r="1.45" fill="#CB5CA2" fill-opacity="0.85"/>
<circle cx="545.03" cy="164.68" r="1.45" fill="#E4CDDF" fill-opacity="0.85"/>
<circle cx="543.70" cy="166.20" r="1.45" fill="#E4CDDF" fill-opacity="0.85"/>
<circle cx="540.37" cy="167.72" r="1.45" fill="#E4CDDF" fill-opacity="0.85"/>
<circle cx="540.11" cy="170.76" r="1.45" fill="#E4CDDF" fill-opacity="0.85"/>
<circle cx="540.26" cy="172.28" r="1.45" fill="#E4CDDF" fill-opacity="0.85"/>
<circle cx="544.78" cy="173.80" r="1.45" fill="#E4CDDF" fill-opacity="0.85"/>
<circle cx="554.84" cy="117.56" r="1.45" fill="#582A64" fill-opacity="0.85"/>
<circle cx="550.88" cy="125.16" r="1.45" fill="#582A64" fill-opacity="0.85"/>
<circle cx="554.96" cy="126.68" r="1.45" fill="#582A64" fill-opacity="0.85"/>
<circle cx="555.88" cy="128.20" r="1.45" fill="#582A64" fill-opacity="0.85"/>
<circle cx="553.95" cy="131.24" r="1.45" fill="#582A64" fill-opacity="0.85"/>
<circle cx="552.11" cy="132.76" r="1.45" fill="#582A64" fill-opacity="0.85"/>
<circle cx="553.29" cy="134.28" r="1.45" fill="#582A64" fill-opacity="0.85"/>
<circle cx="550.79" cy="135.80" r="1.45" fill="#582A64" fill-opacity="0.85"/>
<circle cx="550.09" cy="138.84" r="1.45" fill="#582A64" fill-opacity="0.85"/>
<circle cx="555.83" cy="140.36" r="1.45" fill="#582A64" fill-opacity="0.85"/>
<circle cx="553.90" cy="146.44" r="1.45" fill="#582A64" fill-opacity="0.85"/>
<circle cx="551.10" cy="146.44" r="1.45" fill="#582A64" fill-opacity="0.85"/>
<circle cx="563.82" cy="181.10" r="1.45" fill="#AFD8EB" fill-opacity="0.85"/>
<circle cx="566.26" cy="181.40" r="1.45" fill="#AFD8EB" fill-opacity="0.85"/>
<circle cx="573.91" cy="170.76" r="1.45" fill="#C3D48A" fill-opacity="0.85"/>
<circle cx="576.54" cy="172.28" r="1.45" fill="#C3D48A" fill-opacity="0.85"/>
<circle cx="576.27" cy="173.80" r="1.45" fill="#C3D48A" fill-opacity="0.85"/>
<circle cx="572.57" cy="175.32" r="1.45" fill="#C3D48A" fill-opacity="0.85"/>
<circle cx="572.82" cy="176.84" r="1.45" fill="#C3D48A" fill-opacity="0.85"/>
<circle cx="573.07" cy="178.36" r="1.45" fill="#C3D48A" fill-opacity="0.85"/>
<circle cx="510.39" cy="179.88" r="1.35" fill="#000" />
<circle cx="521.04" cy="179.88" r="1.35" fill="#000" />
<line x1="531.70" y1="166.78" x2="531.70" y2="170.18" stroke="#000" stroke-width="1.1" />
<line x1="529.80" y1="166.78" x2="533.60" y2="166.78" stroke="#000" stroke-width="1.0" />
<line x1="529.80" y1="170.18" x2="533.60" y2="170.18" stroke="#000" stroke-width="1.0" />
<circle cx="531.70" cy="168.48" r="1.35" fill="#000" />
<line x1="542.35" y1="166.78" x2="542.35" y2="170.18" stroke="#000" stroke-width="1.1" />
<line x1="540.45" y1="166.78" x2="544.25" y2="166.78" stroke="#000" stroke-width="1.0" />
<line x1="540.45" y1="170.18" x2="544.25" y2="170.18" stroke="#000" stroke-width="1.0" />
<circle cx="542.35" cy="168.48" r="1.35" fill="#000" />
<line x1="553.00" y1="129.11" x2="553.00" y2="136.41" stroke="#000" stroke-width="1.1" />
<line x1="551.10" y1="129.11" x2="554.90" y2="129.11" stroke="#000" stroke-width="1.0" />
<line x1="551.10" y1="136.41" x2="554.90" y2="136.41" stroke="#000" stroke-width="1.0" />
<circle cx="553.00" cy="132.76" r="1.35" fill="#000" />
<circle cx="563.66" cy="181.25" r="1.35" fill="#000" />
<line x1="574.31" y1="173.86" x2="574.31" y2="176.78" stroke="#000" stroke-width="1.1" />
<line x1="572.41" y1="173.86" x2="576.21" y2="173.86" stroke="#000" stroke-width="1.0" />
<line x1="572.41" y1="176.78" x2="576.21" y2="176.78" stroke="#000" stroke-width="1.0" />
<circle cx="574.31" cy="175.32" r="1.35" fill="#000" />
<text x="645.05" y="102.80" font-size="7.7" text-anchor="middle" font-weight="normal" font-style="normal" fill="#1a1a1a" stroke="#1a1a1a" stroke-width="0.18" >Angular</text>
<line x1="606.70" y1="107.00" x2="606.70" y2="184.60" stroke="#333" stroke-width="1.0" />
<line x1="606.20" y1="184.10" x2="683.40" y2="184.10" stroke="#333" stroke-width="1.0" />
<line x1="604.50" y1="182.20" x2="606.70" y2="182.20" stroke="#333" stroke-width="0.9" />
<text x="603.60" y="185.10" font-size="7.7" text-anchor="end" font-weight="normal" font-style="normal" fill="#4d4d4d" stroke="#4d4d4d" stroke-width="0.18" >0.000</text>
<line x1="604.50" y1="161.70" x2="606.70" y2="161.70" stroke="#333" stroke-width="0.9" />
<text x="603.60" y="164.60" font-size="7.7" text-anchor="end" font-weight="normal" font-style="normal" fill="#4d4d4d" stroke="#4d4d4d" stroke-width="0.18" >0.025</text>
<line x1="604.50" y1="141.20" x2="606.70" y2="141.20" stroke="#333" stroke-width="0.9" />
<text x="603.60" y="144.10" font-size="7.7" text-anchor="end" font-weight="normal" font-style="normal" fill="#4d4d4d" stroke="#4d4d4d" stroke-width="0.18" >0.050</text>
<line x1="604.50" y1="120.70" x2="606.70" y2="120.70" stroke="#333" stroke-width="0.9" />
<text x="603.60" y="123.60" font-size="7.7" text-anchor="end" font-weight="normal" font-style="normal" fill="#4d4d4d" stroke="#4d4d4d" stroke-width="0.18" >0.075</text>
<circle cx="613.99" cy="178.92" r="1.45" fill="#F4A400" fill-opacity="0.85"/>
<circle cx="616.07" cy="179.33" r="1.45" fill="#F4A400" fill-opacity="0.85"/>
<circle cx="614.11" cy="179.74" r="1.45" fill="#F4A400" fill-opacity="0.85"/>
<circle cx="615.06" cy="180.56" r="1.45" fill="#F4A400" fill-opacity="0.85"/>
<circle cx="613.34" cy="180.97" r="1.45" fill="#F4A400" fill-opacity="0.85"/>
<circle cx="632.76" cy="131.36" r="1.45" fill="#CB5CA2" fill-opacity="0.85"/>
<circle cx="629.42" cy="132.18" r="1.45" fill="#CB5CA2" fill-opacity="0.85"/>
<circle cx="630.05" cy="133.00" r="1.45" fill="#CB5CA2" fill-opacity="0.85"/>
<circle cx="630.80" cy="134.64" r="1.45" fill="#CB5CA2" fill-opacity="0.85"/>
<circle cx="632.73" cy="136.28" r="1.45" fill="#CB5CA2" fill-opacity="0.85"/>
<circle cx="629.82" cy="137.10" r="1.45" fill="#CB5CA2" fill-opacity="0.85"/>
<circle cx="632.81" cy="138.74" r="1.45" fill="#CB5CA2" fill-opacity="0.85"/>
<circle cx="630.31" cy="139.56" r="1.45" fill="#CB5CA2" fill-opacity="0.85"/>
<circle cx="630.49" cy="141.20" r="1.45" fill="#CB5CA2" fill-opacity="0.85"/>
<circle cx="630.44" cy="142.02" r="1.45" fill="#CB5CA2" fill-opacity="0.85"/>
<circle cx="627.41" cy="155.14" r="1.45" fill="#CB5CA2" fill-opacity="0.85"/>
<circle cx="630.21" cy="155.14" r="1.45" fill="#CB5CA2" fill-opacity="0.85"/>
<circle cx="644.69" cy="131.36" r="1.45" fill="#E4CDDF" fill-opacity="0.85"/>
<circle cx="643.15" cy="133.00" r="1.45" fill="#E4CDDF" fill-opacity="0.85"/>
<circle cx="642.07" cy="134.64" r="1.45" fill="#E4CDDF" fill-opacity="0.85"/>
<circle cx="646.85" cy="136.28" r="1.45" fill="#E4CDDF" fill-opacity="0.85"/>
<circle cx="643.08" cy="137.92" r="1.45" fill="#E4CDDF" fill-opacity="0.85"/>
<circle cx="644.89" cy="139.56" r="1.45" fill="#E4CDDF" fill-opacity="0.85"/>
<circle cx="646.40" cy="141.20" r="1.45" fill="#E4CDDF" fill-opacity="0.85"/>
<circle cx="645.39" cy="155.14" r="1.45" fill="#E4CDDF" fill-opacity="0.85"/>
<circle cx="658.76" cy="116.60" r="1.45" fill="#582A64" fill-opacity="0.85"/>
<circle cx="659.91" cy="128.90" r="1.45" fill="#582A64" fill-opacity="0.85"/>
<circle cx="660.13" cy="129.72" r="1.45" fill="#582A64" fill-opacity="0.85"/>
<circle cx="661.51" cy="131.36" r="1.45" fill="#582A64" fill-opacity="0.85"/>
<circle cx="657.44" cy="133.00" r="1.45" fill="#582A64" fill-opacity="0.85"/>
<circle cx="660.16" cy="134.64" r="1.45" fill="#582A64" fill-opacity="0.85"/>
<circle cx="658.29" cy="137.10" r="1.45" fill="#582A64" fill-opacity="0.85"/>
<circle cx="658.46" cy="139.56" r="1.45" fill="#582A64" fill-opacity="0.85"/>
<circle cx="661.43" cy="141.20" r="1.45" fill="#582A64" fill-opacity="0.85"/>
<circle cx="659.85" cy="142.02" r="1.45" fill="#582A64" fill-opacity="0.85"/>
<circle cx="660.17" cy="146.94" r="1.45" fill="#582A64" fill-opacity="0.85"/>
<circle cx="676.11" cy="163.34" r="1.45" fill="#C3D48A" fill-opacity="0.85"/>
<circle cx="677.02" cy="164.16" r="1.45" fill="#C3D48A" fill-opacity="0.85"/>
<circle cx="674.21" cy="165.80" r="1.45" fill="#C3D48A" fill-opacity="0.85"/>
<circle cx="675.23" cy="166.62" r="1.45" fill="#C3D48A" fill-opacity="0.85"/>
<circle cx="674.58" cy="168.26" r="1.45" fill="#C3D48A" fill-opacity="0.85"/>
<circle cx="674.62" cy="169.90" r="1.45" fill="#C3D48A" fill-opacity="0.85"/>
<circle cx="615.55" cy="179.74" r="1.35" fill="#000" />
<line x1="630.30" y1="135.95" x2="630.30" y2="139.89" stroke="#000" stroke-width="1.1" />
<line x1="628.40" y1="135.95" x2="632.20" y2="135.95" stroke="#000" stroke-width="1.0" />
<line x1="628.40" y1="139.89" x2="632.20" y2="139.89" stroke="#000" stroke-width="1.0" />
<circle cx="630.30" cy="137.92" r="1.35" fill="#000" />
<line x1="645.05" y1="136.77" x2="645.05" y2="140.71" stroke="#000" stroke-width="1.1" />
<line x1="643.15" y1="136.77" x2="646.95" y2="136.77" stroke="#000" stroke-width="1.0" />
<line x1="643.15" y1="140.71" x2="646.95" y2="140.71" stroke="#000" stroke-width="1.0" />
<circle cx="645.05" cy="138.74" r="1.35" fill="#000" />
<line x1="659.80" y1="130.38" x2="659.80" y2="135.62" stroke="#000" stroke-width="1.1" />
<line x1="657.90" y1="130.38" x2="661.70" y2="130.38" stroke="#000" stroke-width="1.0" />
<line x1="657.90" y1="135.62" x2="661.70" y2="135.62" stroke="#000" stroke-width="1.0" />
<circle cx="659.80" cy="133.00" r="1.35" fill="#000" />
<circle cx="674.55" cy="166.62" r="1.35" fill="#000" />
<text x="439.45" y="199.60" font-size="7.7" text-anchor="middle" font-weight="normal" font-style="normal" fill="#1a1a1a" stroke="#1a1a1a" stroke-width="0.18" >Retina</text>
<line x1="400.90" y1="204.40" x2="400.90" y2="281.30" stroke="#333" stroke-width="1.0" />
<line x1="400.40" y1="280.80" x2="478.00" y2="280.80" stroke="#333" stroke-width="1.0" />
<line x1="398.70" y1="279.50" x2="400.90" y2="279.50" stroke="#333" stroke-width="0.9" />
<text x="397.80" y="282.40" font-size="7.7" text-anchor="end" font-weight="normal" font-style="normal" fill="#4d4d4d" stroke="#4d4d4d" stroke-width="0.18" >0.00</text>
<line x1="398.70" y1="262.45" x2="400.90" y2="262.45" stroke="#333" stroke-width="0.9" />
<text x="397.80" y="265.35" font-size="7.7" text-anchor="end" font-weight="normal" font-style="normal" fill="#4d4d4d" stroke="#4d4d4d" stroke-width="0.18" >0.02</text>
<line x1="398.70" y1="245.40" x2="400.90" y2="245.40" stroke="#333" stroke-width="0.9" />
<text x="397.80" y="248.30" font-size="7.7" text-anchor="end" font-weight="normal" font-style="normal" fill="#4d4d4d" stroke="#4d4d4d" stroke-width="0.18" >0.04</text>
<line x1="398.70" y1="228.35" x2="400.90" y2="228.35" stroke="#333" stroke-width="0.9" />
<text x="397.80" y="231.25" font-size="7.7" text-anchor="end" font-weight="normal" font-style="normal" fill="#4d4d4d" stroke="#4d4d4d" stroke-width="0.18" >0.06</text>
<line x1="398.70" y1="211.30" x2="400.90" y2="211.30" stroke="#333" stroke-width="0.9" />
<text x="397.80" y="214.20" font-size="7.7" text-anchor="end" font-weight="normal" font-style="normal" fill="#4d4d4d" stroke="#4d4d4d" stroke-width="0.18" >0.08</text>
<circle cx="410.95" cy="275.24" r="1.45" fill="#F4A400" fill-opacity="0.85"/>
<circle cx="409.51" cy="276.09" r="1.45" fill="#F4A400" fill-opacity="0.85"/>
<circle cx="410.00" cy="276.52" r="1.45" fill="#F4A400" fill-opacity="0.85"/>
<circle cx="409.66" cy="276.94" r="1.45" fill="#F4A400" fill-opacity="0.85"/>
<circle cx="412.45" cy="277.80" r="1.45" fill="#F4A400" fill-opacity="0.85"/>
<circle cx="425.82" cy="224.94" r="1.45" fill="#CB5CA2" fill-opacity="0.85"/>
<circle cx="426.88" cy="228.35" r="1.45" fill="#CB5CA2" fill-opacity="0.85"/>
<circle cx="427.28" cy="230.06" r="1.45" fill="#CB5CA2" fill-opacity="0.85"/>
<circle cx="423.18" cy="231.76" r="1.45" fill="#CB5CA2" fill-opacity="0.85"/>
<circle cx="424.98" cy="233.47" r="1.45" fill="#CB5CA2" fill-opacity="0.85"/>
<circle cx="427.28" cy="235.17" r="1.45" fill="#CB5CA2" fill-opacity="0.85"/>
<circle cx="426.66" cy="236.88" r="1.45" fill="#CB5CA2" fill-opacity="0.85"/>
<circle cx="422.45" cy="238.58" r="1.45" fill="#CB5CA2" fill-opacity="0.85"/>
<circle cx="422.35" cy="248.81" r="1.45" fill="#CB5CA2" fill-opacity="0.85"/>
<circle cx="425.15" cy="248.81" r="1.45" fill="#CB5CA2" fill-opacity="0.85"/>
<circle cx="439.10" cy="224.94" r="1.45" fill="#E4CDDF" fill-opacity="0.85"/>
<circle cx="441.90" cy="224.94" r="1.45" fill="#E4CDDF" fill-opacity="0.85"/>
<circle cx="436.89" cy="228.35" r="1.45" fill="#E4CDDF" fill-opacity="0.85"/>
<circle cx="437.89" cy="230.06" r="1.45" fill="#E4CDDF" fill-opacity="0.85"/>
<circle cx="436.89" cy="232.61" r="1.45" fill="#E4CDDF" fill-opacity="0.85"/>
<circle cx="440.47" cy="235.17" r="1.45" fill="#E4CDDF" fill-opacity="0.85"/>
<circle cx="441.15" cy="236.88" r="1.45" fill="#E4CDDF" fill-opacity="0.85"/>
<circle cx="441.83" cy="238.58" r="1.45" fill="#E4CDDF" fill-opacity="0.85"/>
<circle cx="437.38" cy="248.81" r="1.45" fill="#E4CDDF" fill-opacity="0.85"/>
<circle cx="440.18" cy="248.81" r="1.45" fill="#E4CDDF" fill-opacity="0.85"/>
<circle cx="455.57" cy="213.86" r="1.45" fill="#582A64" fill-opacity="0.85"/>
<circle cx="452.77" cy="213.86" r="1.45" fill="#582A64" fill-opacity="0.85"/>
<circle cx="455.24" cy="215.56" r="1.45" fill="#582A64" fill-opacity="0.85"/>
<circle cx="452.13" cy="218.12" r="1.45" fill="#582A64" fill-opacity="0.85"/>
<circle cx="456.57" cy="219.82" r="1.45" fill="#582A64" fill-opacity="0.85"/>
<circle cx="457.08" cy="221.53" r="1.45" fill="#582A64" fill-opacity="0.85"/>
<circle cx="452.59" cy="224.09" r="1.45" fill="#582A64" fill-opacity="0.85"/>
<circle cx="456.99" cy="226.65" r="1.45" fill="#582A64" fill-opacity="0.85"/>
<circle cx="453.67" cy="228.35" r="1.45" fill="#582A64" fill-opacity="0.85"/>
<circle cx="454.20" cy="230.06" r="1.45" fill="#582A64" fill-opacity="0.85"/>
<circle cx="457.22" cy="237.73" r="1.45" fill="#582A64" fill-opacity="0.85"/>
<circle cx="456.27" cy="245.40" r="1.45" fill="#582A64" fill-opacity="0.85"/>
<circle cx="453.47" cy="245.40" r="1.45" fill="#582A64" fill-opacity="0.85"/>
<circle cx="467.07" cy="245.40" r="1.45" fill="#C3D48A" fill-opacity="0.85"/>
<circle cx="469.87" cy="245.40" r="1.45" fill="#C3D48A" fill-opacity="0.85"/>
<circle cx="468.69" cy="247.11" r="1.45" fill="#C3D48A" fill-opacity="0.85"/>
<circle cx="469.20" cy="249.66" r="1.45" fill="#C3D48A" fill-opacity="0.85"/>
<circle cx="468.14" cy="251.37" r="1.45" fill="#C3D48A" fill-opacity="0.85"/>
<circle cx="467.28" cy="253.93" r="1.45" fill="#C3D48A" fill-opacity="0.85"/>
<circle cx="468.01" cy="255.63" r="1.45" fill="#C3D48A" fill-opacity="0.85"/>
<circle cx="470.81" cy="255.63" r="1.45" fill="#C3D48A" fill-opacity="0.85"/>
<circle cx="470.81" cy="255.63" r="1.45" fill="#C3D48A" fill-opacity="0.85"/>
<circle cx="409.80" cy="276.52" r="1.35" fill="#000" />
<line x1="424.62" y1="231.59" x2="424.62" y2="237.05" stroke="#000" stroke-width="1.1" />
<line x1="422.72" y1="231.59" x2="426.52" y2="231.59" stroke="#000" stroke-width="1.0" />
<line x1="422.72" y1="237.05" x2="426.52" y2="237.05" stroke="#000" stroke-width="1.0" />
<circle cx="424.62" cy="234.32" r="1.35" fill="#000" />
<line x1="439.45" y1="231.59" x2="439.45" y2="237.05" stroke="#000" stroke-width="1.1" />
<line x1="437.55" y1="231.59" x2="441.35" y2="231.59" stroke="#000" stroke-width="1.0" />
<line x1="437.55" y1="237.05" x2="441.35" y2="237.05" stroke="#000" stroke-width="1.0" />
<circle cx="439.45" cy="234.32" r="1.35" fill="#000" />
<line x1="454.28" y1="221.70" x2="454.28" y2="229.88" stroke="#000" stroke-width="1.1" />
<line x1="452.38" y1="221.70" x2="456.18" y2="221.70" stroke="#000" stroke-width="1.0" />
<line x1="452.38" y1="229.88" x2="456.18" y2="229.88" stroke="#000" stroke-width="1.0" />
<circle cx="454.28" cy="225.79" r="1.35" fill="#000" />
<line x1="469.10" y1="248.03" x2="469.10" y2="251.30" stroke="#000" stroke-width="1.1" />
<line x1="467.20" y1="248.03" x2="471.00" y2="248.03" stroke="#000" stroke-width="1.0" />
<line x1="467.20" y1="251.30" x2="471.00" y2="251.30" stroke="#000" stroke-width="1.0" />
<circle cx="469.10" cy="249.66" r="1.35" fill="#000" />
<text x="542.35" y="199.60" font-size="7.7" text-anchor="middle" font-weight="normal" font-style="normal" fill="#1a1a1a" stroke="#1a1a1a" stroke-width="0.18" >GBmap</text>
<line x1="504.00" y1="204.40" x2="504.00" y2="281.30" stroke="#333" stroke-width="1.0" />
<line x1="503.50" y1="280.80" x2="580.70" y2="280.80" stroke="#333" stroke-width="1.0" />
<line x1="501.80" y1="278.30" x2="504.00" y2="278.30" stroke="#333" stroke-width="0.9" />
<text x="500.90" y="281.20" font-size="7.7" text-anchor="end" font-weight="normal" font-style="normal" fill="#4d4d4d" stroke="#4d4d4d" stroke-width="0.18" >0.000</text>
<line x1="501.80" y1="257.90" x2="504.00" y2="257.90" stroke="#333" stroke-width="0.9" />
<text x="500.90" y="260.80" font-size="7.7" text-anchor="end" font-weight="normal" font-style="normal" fill="#4d4d4d" stroke="#4d4d4d" stroke-width="0.18" >0.025</text>
<line x1="501.80" y1="237.50" x2="504.00" y2="237.50" stroke="#333" stroke-width="0.9" />
<text x="500.90" y="240.40" font-size="7.7" text-anchor="end" font-weight="normal" font-style="normal" fill="#4d4d4d" stroke="#4d4d4d" stroke-width="0.18" >0.050</text>
<line x1="501.80" y1="217.10" x2="504.00" y2="217.10" stroke="#333" stroke-width="0.9" />
<text x="500.90" y="220.00" font-size="7.7" text-anchor="end" font-weight="normal" font-style="normal" fill="#4d4d4d" stroke="#4d4d4d" stroke-width="0.18" >0.075</text>
<circle cx="514.18" cy="275.04" r="1.45" fill="#F4A400" fill-opacity="0.85"/>
<circle cx="509.97" cy="275.44" r="1.45" fill="#F4A400" fill-opacity="0.85"/>
<circle cx="513.17" cy="275.85" r="1.45" fill="#F4A400" fill-opacity="0.85"/>
<circle cx="512.49" cy="276.67" r="1.45" fill="#F4A400" fill-opacity="0.85"/>
<circle cx="509.96" cy="277.48" r="1.45" fill="#F4A400" fill-opacity="0.85"/>
<circle cx="526.59" cy="253.82" r="1.45" fill="#CB5CA2" fill-opacity="0.85"/>
<circle cx="528.34" cy="254.64" r="1.45" fill="#CB5CA2" fill-opacity="0.85"/>
<circle cx="527.67" cy="255.45" r="1.45" fill="#CB5CA2" fill-opacity="0.85"/>
<circle cx="524.99" cy="257.08" r="1.45" fill="#CB5CA2" fill-opacity="0.85"/>
<circle cx="530.51" cy="257.90" r="1.45" fill="#CB5CA2" fill-opacity="0.85"/>
<circle cx="529.33" cy="258.72" r="1.45" fill="#CB5CA2" fill-opacity="0.85"/>
<circle cx="530.43" cy="260.35" r="1.45" fill="#CB5CA2" fill-opacity="0.85"/>
<circle cx="525.23" cy="261.98" r="1.45" fill="#CB5CA2" fill-opacity="0.85"/>
<circle cx="540.94" cy="253.82" r="1.45" fill="#E4CDDF" fill-opacity="0.85"/>
<circle cx="539.59" cy="255.45" r="1.45" fill="#E4CDDF" fill-opacity="0.85"/>
<circle cx="544.02" cy="257.90" r="1.45" fill="#E4CDDF" fill-opacity="0.85"/>
<circle cx="540.97" cy="259.53" r="1.45" fill="#E4CDDF" fill-opacity="0.85"/>
<circle cx="540.13" cy="261.16" r="1.45" fill="#E4CDDF" fill-opacity="0.85"/>
<circle cx="556.63" cy="213.02" r="1.45" fill="#582A64" fill-opacity="0.85"/>
<circle cx="559.43" cy="213.02" r="1.45" fill="#582A64" fill-opacity="0.85"/>
<circle cx="559.57" cy="225.26" r="1.45" fill="#582A64" fill-opacity="0.85"/>
<circle cx="556.77" cy="225.26" r="1.45" fill="#582A64" fill-opacity="0.85"/>
<circle cx="559.01" cy="229.34" r="1.45" fill="#582A64" fill-opacity="0.85"/>
<circle cx="555.65" cy="233.42" r="1.45" fill="#582A64" fill-opacity="0.85"/>
<circle cx="555.00" cy="235.05" r="1.45" fill="#582A64" fill-opacity="0.85"/>
<circle cx="559.62" cy="241.58" r="1.45" fill="#582A64" fill-opacity="0.85"/>
<circle cx="556.82" cy="241.58" r="1.45" fill="#582A64" fill-opacity="0.85"/>
<circle cx="557.52" cy="245.66" r="1.45" fill="#582A64" fill-opacity="0.85"/>
<circle cx="554.72" cy="245.66" r="1.45" fill="#582A64" fill-opacity="0.85"/>
<circle cx="558.30" cy="278.30" r="1.45" fill="#582A64" fill-opacity="0.85"/>
<circle cx="555.50" cy="278.30" r="1.45" fill="#582A64" fill-opacity="0.85"/>
<circle cx="569.39" cy="268.51" r="1.45" fill="#C3D48A" fill-opacity="0.85"/>
<circle cx="569.20" cy="270.14" r="1.45" fill="#C3D48A" fill-opacity="0.85"/>
<circle cx="572.98" cy="271.77" r="1.45" fill="#C3D48A" fill-opacity="0.85"/>
<circle cx="571.40" cy="273.40" r="1.45" fill="#C3D48A" fill-opacity="0.85"/>
<circle cx="569.28" cy="275.04" r="1.45" fill="#C3D48A" fill-opacity="0.85"/>
<circle cx="574.48" cy="275.85" r="1.45" fill="#C3D48A" fill-opacity="0.85"/>
<circle cx="512.85" cy="276.26" r="1.35" fill="#000" />
<line x1="527.60" y1="256.59" x2="527.60" y2="259.21" stroke="#000" stroke-width="1.1" />
<line x1="525.70" y1="256.59" x2="529.50" y2="256.59" stroke="#000" stroke-width="1.0" />
<line x1="525.70" y1="259.21" x2="529.50" y2="259.21" stroke="#000" stroke-width="1.0" />
<circle cx="527.60" cy="257.90" r="1.35" fill="#000" />
<line x1="542.35" y1="256.59" x2="542.35" y2="259.21" stroke="#000" stroke-width="1.1" />
<line x1="540.45" y1="256.59" x2="544.25" y2="256.59" stroke="#000" stroke-width="1.0" />
<line x1="540.45" y1="259.21" x2="544.25" y2="259.21" stroke="#000" stroke-width="1.0" />
<circle cx="542.35" cy="257.90" r="1.35" fill="#000" />
<line x1="557.10" y1="230.94" x2="557.10" y2="242.43" stroke="#000" stroke-width="1.1" />
<line x1="555.20" y1="230.94" x2="559.00" y2="230.94" stroke="#000" stroke-width="1.0" />
<line x1="555.20" y1="242.43" x2="559.00" y2="242.43" stroke="#000" stroke-width="1.0" />
<circle cx="557.10" cy="236.68" r="1.35" fill="#000" />
<line x1="571.85" y1="271.28" x2="571.85" y2="273.89" stroke="#000" stroke-width="1.1" />
<line x1="569.95" y1="271.28" x2="573.75" y2="271.28" stroke="#000" stroke-width="1.0" />
<line x1="569.95" y1="273.89" x2="573.75" y2="273.89" stroke="#000" stroke-width="1.0" />
<circle cx="571.85" cy="272.59" r="1.35" fill="#000" />
<text x="362.40" y="305.00" font-size="12.3" text-anchor="start" font-weight="bold" font-style="normal" fill="#000" stroke="#000" stroke-width="0.18" >e</text>
<text x="371.8" y="438.4" font-size="7.6" text-anchor="middle" fill="#1a1a1a" transform="rotate(-90 371.8 438.4)" dy="2.7">F1-Score</text>
<text x="439.45" y="304.20" font-size="7.7" text-anchor="middle" font-weight="normal" font-style="normal" fill="#1a1a1a" stroke="#1a1a1a" stroke-width="0.18" >Ileum</text>
<line x1="400.90" y1="309.00" x2="400.90" y2="385.50" stroke="#333" stroke-width="1.0" />
<line x1="400.40" y1="385.00" x2="478.00" y2="385.00" stroke="#333" stroke-width="1.0" />
<line x1="398.70" y1="382.60" x2="400.90" y2="382.60" stroke="#333" stroke-width="0.9" />
<text x="397.80" y="385.50" font-size="7.7" text-anchor="end" font-weight="normal" font-style="normal" fill="#4d4d4d" stroke="#4d4d4d" stroke-width="0.18" >0.00</text>
<line x1="398.70" y1="365.70" x2="400.90" y2="365.70" stroke="#333" stroke-width="0.9" />
<text x="397.80" y="368.60" font-size="7.7" text-anchor="end" font-weight="normal" font-style="normal" fill="#4d4d4d" stroke="#4d4d4d" stroke-width="0.18" >0.25</text>
<line x1="398.70" y1="348.80" x2="400.90" y2="348.80" stroke="#333" stroke-width="0.9" />
<text x="397.80" y="351.70" font-size="7.7" text-anchor="end" font-weight="normal" font-style="normal" fill="#4d4d4d" stroke="#4d4d4d" stroke-width="0.18" >0.50</text>
<line x1="398.70" y1="331.90" x2="400.90" y2="331.90" stroke="#333" stroke-width="0.9" />
<text x="397.80" y="334.80" font-size="7.7" text-anchor="end" font-weight="normal" font-style="normal" fill="#4d4d4d" stroke="#4d4d4d" stroke-width="0.18" >0.75</text>
<line x1="398.70" y1="315.00" x2="400.90" y2="315.00" stroke="#333" stroke-width="0.9" />
<text x="397.80" y="317.90" font-size="7.7" text-anchor="end" font-weight="normal" font-style="normal" fill="#4d4d4d" stroke="#4d4d4d" stroke-width="0.18" >1.00</text>
<circle cx="407.35" cy="321.76" r="1.45" fill="#F4A400" fill-opacity="0.85"/>
<circle cx="408.35" cy="323.11" r="1.45" fill="#F4A400" fill-opacity="0.85"/>
<circle cx="404.04" cy="323.79" r="1.45" fill="#F4A400" fill-opacity="0.85"/>
<circle cx="408.68" cy="324.46" r="1.45" fill="#F4A400" fill-opacity="0.85"/>
<circle cx="403.94" cy="325.14" r="1.45" fill="#F4A400" fill-opacity="0.85"/>
<circle cx="408.72" cy="325.82" r="1.45" fill="#F4A400" fill-opacity="0.85"/>
<circle cx="415.67" cy="333.25" r="1.45" fill="#CD1553" fill-opacity="0.85"/>
<circle cx="414.98" cy="333.93" r="1.45" fill="#CD1553" fill-opacity="0.85"/>
<circle cx="416.26" cy="334.60" r="1.45" fill="#CD1553" fill-opacity="0.85"/>
<circle cx="418.50" cy="335.28" r="1.45" fill="#CD1553" fill-opacity="0.85"/>
<circle cx="414.55" cy="335.96" r="1.45" fill="#CD1553" fill-opacity="0.85"/>
<circle cx="413.72" cy="336.63" r="1.45" fill="#CD1553" fill-opacity="0.85"/>
<circle cx="416.11" cy="337.31" r="1.45" fill="#CD1553" fill-opacity="0.85"/>
<circle cx="423.78" cy="348.12" r="1.45" fill="#CB5CA2" fill-opacity="0.85"/>
<circle cx="426.58" cy="348.12" r="1.45" fill="#CB5CA2" fill-opacity="0.85"/>
<circle cx="423.00" cy="354.21" r="1.45" fill="#CB5CA2" fill-opacity="0.85"/>
<circle cx="423.32" cy="355.56" r="1.45" fill="#CB5CA2" fill-opacity="0.85"/>
<circle cx="422.65" cy="356.24" r="1.45" fill="#CB5CA2" fill-opacity="0.85"/>
<circle cx="423.56" cy="357.59" r="1.45" fill="#CB5CA2" fill-opacity="0.85"/>
<circle cx="433.62" cy="348.12" r="1.45" fill="#E4CDDF" fill-opacity="0.85"/>
<circle cx="433.58" cy="354.21" r="1.45" fill="#E4CDDF" fill-opacity="0.85"/>
<circle cx="436.31" cy="355.56" r="1.45" fill="#E4CDDF" fill-opacity="0.85"/>
<circle cx="433.49" cy="356.91" r="1.45" fill="#E4CDDF" fill-opacity="0.85"/>
<circle cx="444.15" cy="337.31" r="1.45" fill="#582A64" fill-opacity="0.85"/>
<circle cx="442.22" cy="340.69" r="1.45" fill="#582A64" fill-opacity="0.85"/>
<circle cx="443.23" cy="342.04" r="1.45" fill="#582A64" fill-opacity="0.85"/>
<circle cx="441.26" cy="343.39" r="1.45" fill="#582A64" fill-opacity="0.85"/>
<circle cx="442.65" cy="344.74" r="1.45" fill="#582A64" fill-opacity="0.85"/>
<circle cx="441.24" cy="346.77" r="1.45" fill="#582A64" fill-opacity="0.85"/>
<circle cx="445.55" cy="352.18" r="1.45" fill="#582A64" fill-opacity="0.85"/>
<circle cx="453.86" cy="351.50" r="1.45" fill="#3893B2" fill-opacity="0.85"/>
<circle cx="451.69" cy="352.18" r="1.45" fill="#3893B2" fill-opacity="0.85"/>
<circle cx="453.40" cy="353.53" r="1.45" fill="#3893B2" fill-opacity="0.85"/>
<circle cx="456.16" cy="354.21" r="1.45" fill="#3893B2" fill-opacity="0.85"/>
<circle cx="451.19" cy="354.88" r="1.45" fill="#3893B2" fill-opacity="0.85"/>
<circle cx="455.47" cy="355.56" r="1.45" fill="#3893B2" fill-opacity="0.85"/>
<circle cx="462.55" cy="382.60" r="1.45" fill="#AFD8EB" fill-opacity="0.85"/>
<circle cx="465.35" cy="382.60" r="1.45" fill="#AFD8EB" fill-opacity="0.85"/>
<circle cx="472.33" cy="379.90" r="1.45" fill="#C3D48A" fill-opacity="0.85"/>
<circle cx="474.37" cy="380.57" r="1.45" fill="#C3D48A" fill-opacity="0.85"/>
<circle cx="471.72" cy="381.25" r="1.45" fill="#C3D48A" fill-opacity="0.85"/>
<circle cx="474.52" cy="381.25" r="1.45" fill="#C3D48A" fill-opacity="0.85"/>
<circle cx="406.54" cy="323.79" r="1.35" fill="#000" />
<circle cx="415.94" cy="335.28" r="1.35" fill="#000" />
<circle cx="425.35" cy="354.88" r="1.35" fill="#000" />
<circle cx="434.75" cy="354.88" r="1.35" fill="#000" />
<line x1="444.15" y1="342.31" x2="444.15" y2="345.83" stroke="#000" stroke-width="1.1" />
<line x1="442.25" y1="342.31" x2="446.05" y2="342.31" stroke="#000" stroke-width="1.0" />
<line x1="442.25" y1="345.83" x2="446.05" y2="345.83" stroke="#000" stroke-width="1.0" />
<circle cx="444.15" cy="344.07" r="1.35" fill="#000" />
<circle cx="453.55" cy="353.53" r="1.35" fill="#000" />
<circle cx="462.96" cy="382.60" r="1.35" fill="#000" />
<circle cx="472.36" cy="380.57" r="1.35" fill="#000" />
<text x="411.24" y="316.40" font-size="6.8" text-anchor="middle" font-weight="normal" font-style="normal" fill="#111" stroke="#111" stroke-width="0.18" >1.7e-4</text>
<polyline points="406.54,320.30 406.54,318.50 415.94,318.50 415.94,320.30" fill="none" stroke="#222" stroke-width="1.0"/>
<text x="542.35" y="304.20" font-size="7.7" text-anchor="middle" font-weight="normal" font-style="normal" fill="#1a1a1a" stroke="#1a1a1a" stroke-width="0.18" >Fibroblast</text>
<line x1="504.00" y1="309.00" x2="504.00" y2="385.50" stroke="#333" stroke-width="1.0" />
<line x1="503.50" y1="385.00" x2="580.70" y2="385.00" stroke="#333" stroke-width="1.0" />
<line x1="501.80" y1="382.40" x2="504.00" y2="382.40" stroke="#333" stroke-width="0.9" />
<text x="500.90" y="385.30" font-size="7.7" text-anchor="end" font-weight="normal" font-style="normal" fill="#4d4d4d" stroke="#4d4d4d" stroke-width="0.18" >0.00</text>
<line x1="501.80" y1="365.45" x2="504.00" y2="365.45" stroke="#333" stroke-width="0.9" />
<text x="500.90" y="368.35" font-size="7.7" text-anchor="end" font-weight="normal" font-style="normal" fill="#4d4d4d" stroke="#4d4d4d" stroke-width="0.18" >0.25</text>
<line x1="501.80" y1="348.50" x2="504.00" y2="348.50" stroke="#333" stroke-width="0.9" />
<text x="500.90" y="351.40" font-size="7.7" text-anchor="end" font-weight="normal" font-style="normal" fill="#4d4d4d" stroke="#4d4d4d" stroke-width="0.18" >0.50</text>
<line x1="501.80" y1="331.55" x2="504.00" y2="331.55" stroke="#333" stroke-width="0.9" />
<text x="500.90" y="334.45" font-size="7.7" text-anchor="end" font-weight="normal" font-style="normal" fill="#4d4d4d" stroke="#4d4d4d" stroke-width="0.18" >0.75</text>
<line x1="501.80" y1="314.60" x2="504.00" y2="314.60" stroke="#333" stroke-width="0.9" />
<text x="500.90" y="317.50" font-size="7.7" text-anchor="end" font-weight="normal" font-style="normal" fill="#4d4d4d" stroke="#4d4d4d" stroke-width="0.18" >1.00</text>
<circle cx="509.65" cy="321.38" r="1.45" fill="#F4A400" fill-opacity="0.85"/>
<circle cx="510.74" cy="322.74" r="1.45" fill="#F4A400" fill-opacity="0.85"/>
<circle cx="512.51" cy="324.09" r="1.45" fill="#F4A400" fill-opacity="0.85"/>
<circle cx="508.67" cy="325.45" r="1.45" fill="#F4A400" fill-opacity="0.85"/>
<circle cx="511.61" cy="326.80" r="1.45" fill="#F4A400" fill-opacity="0.85"/>
<circle cx="510.85" cy="328.16" r="1.45" fill="#F4A400" fill-opacity="0.85"/>
<circle cx="510.43" cy="329.52" r="1.45" fill="#F4A400" fill-opacity="0.85"/>
<circle cx="509.04" cy="332.91" r="1.45" fill="#F4A400" fill-opacity="0.85"/>
<circle cx="518.05" cy="327.48" r="1.45" fill="#CD1553" fill-opacity="0.85"/>
<circle cx="516.29" cy="328.84" r="1.45" fill="#CD1553" fill-opacity="0.85"/>
<circle cx="516.74" cy="330.19" r="1.45" fill="#CD1553" fill-opacity="0.85"/>
<circle cx="516.39" cy="331.55" r="1.45" fill="#CD1553" fill-opacity="0.85"/>
<circle cx="520.41" cy="332.91" r="1.45" fill="#CD1553" fill-opacity="0.85"/>
<circle cx="517.50" cy="334.26" r="1.45" fill="#CD1553" fill-opacity="0.85"/>
<circle cx="516.95" cy="336.30" r="1.45" fill="#CD1553" fill-opacity="0.85"/>
<circle cx="516.47" cy="336.97" r="1.45" fill="#CD1553" fill-opacity="0.85"/>
<circle cx="530.37" cy="336.30" r="1.45" fill="#CB5CA2" fill-opacity="0.85"/>
<circle cx="530.54" cy="338.33" r="1.45" fill="#CB5CA2" fill-opacity="0.85"/>
<circle cx="529.34" cy="340.36" r="1.45" fill="#CB5CA2" fill-opacity="0.85"/>
<circle cx="527.01" cy="341.72" r="1.45" fill="#CB5CA2" fill-opacity="0.85"/>
<circle cx="526.77" cy="343.08" r="1.45" fill="#CB5CA2" fill-opacity="0.85"/>
<circle cx="527.08" cy="344.43" r="1.45" fill="#CB5CA2" fill-opacity="0.85"/>
<circle cx="528.08" cy="345.79" r="1.45" fill="#CB5CA2" fill-opacity="0.85"/>
<circle cx="535.62" cy="336.97" r="1.45" fill="#E4CDDF" fill-opacity="0.85"/>
<circle cx="537.35" cy="339.01" r="1.45" fill="#E4CDDF" fill-opacity="0.85"/>
<circle cx="536.25" cy="341.72" r="1.45" fill="#E4CDDF" fill-opacity="0.85"/>
<circle cx="540.44" cy="343.75" r="1.45" fill="#E4CDDF" fill-opacity="0.85"/>
<circle cx="540.51" cy="345.11" r="1.45" fill="#E4CDDF" fill-opacity="0.85"/>
<circle cx="547.31" cy="349.18" r="1.45" fill="#582A64" fill-opacity="0.85"/>
<circle cx="545.49" cy="350.53" r="1.45" fill="#582A64" fill-opacity="0.85"/>
<circle cx="549.82" cy="351.89" r="1.45" fill="#582A64" fill-opacity="0.85"/>
<circle cx="545.88" cy="353.25" r="1.45" fill="#582A64" fill-opacity="0.85"/>
<circle cx="546.17" cy="354.60" r="1.45" fill="#582A64" fill-opacity="0.85"/>
<circle cx="544.03" cy="355.28" r="1.45" fill="#582A64" fill-opacity="0.85"/>
<circle cx="546.32" cy="355.96" r="1.45" fill="#582A64" fill-opacity="0.85"/>
<circle cx="556.23" cy="362.06" r="1.45" fill="#3893B2" fill-opacity="0.85"/>
<circle cx="556.40" cy="362.74" r="1.45" fill="#3893B2" fill-opacity="0.85"/>
<circle cx="554.59" cy="363.42" r="1.45" fill="#3893B2" fill-opacity="0.85"/>
<circle cx="556.41" cy="364.09" r="1.45" fill="#3893B2" fill-opacity="0.85"/>
<circle cx="553.41" cy="364.77" r="1.45" fill="#3893B2" fill-opacity="0.85"/>
<circle cx="564.32" cy="366.13" r="1.45" fill="#AFD8EB" fill-opacity="0.85"/>
<circle cx="563.27" cy="380.37" r="1.45" fill="#AFD8EB" fill-opacity="0.85"/>
<circle cx="565.13" cy="381.72" r="1.45" fill="#AFD8EB" fill-opacity="0.85"/>
<circle cx="562.98" cy="382.40" r="1.45" fill="#AFD8EB" fill-opacity="0.85"/>
<circle cx="572.22" cy="381.72" r="1.45" fill="#C3D48A" fill-opacity="0.85"/>
<circle cx="573.91" cy="382.06" r="1.45" fill="#C3D48A" fill-opacity="0.85"/>
<circle cx="573.48" cy="382.40" r="1.45" fill="#C3D48A" fill-opacity="0.85"/>
<line x1="509.61" y1="325.48" x2="509.61" y2="328.13" stroke="#000" stroke-width="1.1" />
<line x1="507.71" y1="325.48" x2="511.51" y2="325.48" stroke="#000" stroke-width="1.0" />
<line x1="507.71" y1="328.13" x2="511.51" y2="328.13" stroke="#000" stroke-width="1.0" />
<circle cx="509.61" cy="326.80" r="1.35" fill="#000" />
<line x1="518.97" y1="329.71" x2="518.97" y2="332.71" stroke="#000" stroke-width="1.1" />
<line x1="517.07" y1="329.71" x2="520.87" y2="329.71" stroke="#000" stroke-width="1.0" />
<line x1="517.07" y1="332.71" x2="520.87" y2="332.71" stroke="#000" stroke-width="1.0" />
<circle cx="518.97" cy="331.21" r="1.35" fill="#000" />
<circle cx="528.32" cy="341.72" r="1.35" fill="#000" />
<circle cx="537.67" cy="341.72" r="1.35" fill="#000" />
<circle cx="547.03" cy="352.57" r="1.35" fill="#000" />
<circle cx="556.38" cy="363.42" r="1.35" fill="#000" />
<line x1="565.73" y1="378.60" x2="565.73" y2="382.13" stroke="#000" stroke-width="1.1" />
<line x1="563.83" y1="378.60" x2="567.63" y2="378.60" stroke="#000" stroke-width="1.0" />
<line x1="563.83" y1="382.13" x2="567.63" y2="382.13" stroke="#000" stroke-width="1.0" />
<circle cx="565.73" cy="380.37" r="1.35" fill="#000" />
<circle cx="575.09" cy="381.72" r="1.35" fill="#000" />
<text x="514.29" y="316.30" font-size="6.8" text-anchor="middle" font-weight="normal" font-style="normal" fill="#111" stroke="#111" stroke-width="0.18" >0.021</text>
<polyline points="509.61,320.20 509.61,318.40 518.97,318.40 518.97,320.20" fill="none" stroke="#222" stroke-width="1.0"/>
<text x="645.05" y="304.20" font-size="7.7" text-anchor="middle" font-weight="normal" font-style="normal" fill="#1a1a1a" stroke="#1a1a1a" stroke-width="0.18" >ECGE</text>
<line x1="606.70" y1="309.00" x2="606.70" y2="385.50" stroke="#333" stroke-width="1.0" />
<line x1="606.20" y1="385.00" x2="683.40" y2="385.00" stroke="#333" stroke-width="1.0" />
<line x1="604.50" y1="382.40" x2="606.70" y2="382.40" stroke="#333" stroke-width="0.9" />
<text x="603.60" y="385.30" font-size="7.7" text-anchor="end" font-weight="normal" font-style="normal" fill="#4d4d4d" stroke="#4d4d4d" stroke-width="0.18" >0.00</text>
<line x1="604.50" y1="363.90" x2="606.70" y2="363.90" stroke="#333" stroke-width="0.9" />
<text x="603.60" y="366.80" font-size="7.7" text-anchor="end" font-weight="normal" font-style="normal" fill="#4d4d4d" stroke="#4d4d4d" stroke-width="0.18" >0.25</text>
<line x1="604.50" y1="345.40" x2="606.70" y2="345.40" stroke="#333" stroke-width="0.9" />
<text x="603.60" y="348.30" font-size="7.7" text-anchor="end" font-weight="normal" font-style="normal" fill="#4d4d4d" stroke="#4d4d4d" stroke-width="0.18" >0.50</text>
<line x1="604.50" y1="326.90" x2="606.70" y2="326.90" stroke="#333" stroke-width="0.9" />
<text x="603.60" y="329.80" font-size="7.7" text-anchor="end" font-weight="normal" font-style="normal" fill="#4d4d4d" stroke="#4d4d4d" stroke-width="0.18" >0.75</text>
<circle cx="612.83" cy="321.72" r="1.45" fill="#F4A400" fill-opacity="0.85"/>
<circle cx="612.49" cy="323.94" r="1.45" fill="#F4A400" fill-opacity="0.85"/>
<circle cx="613.82" cy="326.16" r="1.45" fill="#F4A400" fill-opacity="0.85"/>
<circle cx="613.26" cy="327.64" r="1.45" fill="#F4A400" fill-opacity="0.85"/>
<circle cx="613.61" cy="329.12" r="1.45" fill="#F4A400" fill-opacity="0.85"/>
<circle cx="614.59" cy="330.60" r="1.45" fill="#F4A400" fill-opacity="0.85"/>
<circle cx="611.65" cy="332.08" r="1.45" fill="#F4A400" fill-opacity="0.85"/>
<circle cx="620.62" cy="352.80" r="1.45" fill="#CD1553" fill-opacity="0.85"/>
<circle cx="624.57" cy="354.28" r="1.45" fill="#CD1553" fill-opacity="0.85"/>
<circle cx="619.56" cy="355.76" r="1.45" fill="#CD1553" fill-opacity="0.85"/>
<circle cx="623.01" cy="357.24" r="1.45" fill="#CD1553" fill-opacity="0.85"/>
<circle cx="622.53" cy="358.72" r="1.45" fill="#CD1553" fill-opacity="0.85"/>
<circle cx="618.93" cy="360.20" r="1.45" fill="#CD1553" fill-opacity="0.85"/>
<circle cx="633.03" cy="368.34" r="1.45" fill="#CB5CA2" fill-opacity="0.85"/>
<circle cx="633.37" cy="369.08" r="1.45" fill="#CB5CA2" fill-opacity="0.85"/>
<circle cx="631.78" cy="369.82" r="1.45" fill="#CB5CA2" fill-opacity="0.85"/>
<circle cx="632.42" cy="370.56" r="1.45" fill="#CB5CA2" fill-opacity="0.85"/>
<circle cx="642.25" cy="369.08" r="1.45" fill="#E4CDDF" fill-opacity="0.85"/>
<circle cx="638.21" cy="369.82" r="1.45" fill="#E4CDDF" fill-opacity="0.85"/>
<circle cx="640.52" cy="370.56" r="1.45" fill="#E4CDDF" fill-opacity="0.85"/>
<circle cx="649.75" cy="366.86" r="1.45" fill="#582A64" fill-opacity="0.85"/>
<circle cx="651.74" cy="368.34" r="1.45" fill="#582A64" fill-opacity="0.85"/>
<circle cx="651.55" cy="369.82" r="1.45" fill="#582A64" fill-opacity="0.85"/>
<circle cx="651.69" cy="371.30" r="1.45" fill="#582A64" fill-opacity="0.85"/>
<circle cx="650.23" cy="372.78" r="1.45" fill="#582A64" fill-opacity="0.85"/>
<circle cx="652.08" cy="374.26" r="1.45" fill="#582A64" fill-opacity="0.85"/>
<circle cx="660.18" cy="377.22" r="1.45" fill="#3893B2" fill-opacity="0.85"/>
<circle cx="660.24" cy="377.59" r="1.45" fill="#3893B2" fill-opacity="0.85"/>
<circle cx="657.46" cy="377.96" r="1.45" fill="#3893B2" fill-opacity="0.85"/>
<circle cx="665.62" cy="373.52" r="1.45" fill="#AFD8EB" fill-opacity="0.85"/>
<circle cx="666.23" cy="375.74" r="1.45" fill="#AFD8EB" fill-opacity="0.85"/>
<circle cx="667.60" cy="377.96" r="1.45" fill="#AFD8EB" fill-opacity="0.85"/>
<circle cx="666.06" cy="380.92" r="1.45" fill="#AFD8EB" fill-opacity="0.85"/>
<circle cx="670.45" cy="382.40" r="1.45" fill="#AFD8EB" fill-opacity="0.85"/>
<circle cx="678.14" cy="381.66" r="1.45" fill="#C3D48A" fill-opacity="0.85"/>
<circle cx="678.55" cy="382.40" r="1.45" fill="#C3D48A" fill-opacity="0.85"/>
<line x1="612.31" y1="326.94" x2="612.31" y2="329.82" stroke="#000" stroke-width="1.1" />
<line x1="610.41" y1="326.94" x2="614.21" y2="326.94" stroke="#000" stroke-width="1.0" />
<line x1="610.41" y1="329.82" x2="614.21" y2="329.82" stroke="#000" stroke-width="1.0" />
<circle cx="612.31" cy="328.38" r="1.35" fill="#000" />
<line x1="621.67" y1="355.06" x2="621.67" y2="357.94" stroke="#000" stroke-width="1.1" />
<line x1="619.77" y1="355.06" x2="623.57" y2="355.06" stroke="#000" stroke-width="1.0" />
<line x1="619.77" y1="357.94" x2="623.57" y2="357.94" stroke="#000" stroke-width="1.0" />
<circle cx="621.67" cy="356.50" r="1.35" fill="#000" />
<circle cx="631.02" cy="369.82" r="1.35" fill="#000" />
<circle cx="640.37" cy="369.82" r="1.35" fill="#000" />
<line x1="649.73" y1="369.86" x2="649.73" y2="372.74" stroke="#000" stroke-width="1.1" />
<line x1="647.83" y1="369.86" x2="651.63" y2="369.86" stroke="#000" stroke-width="1.0" />
<line x1="647.83" y1="372.74" x2="651.63" y2="372.74" stroke="#000" stroke-width="1.0" />
<circle cx="649.73" cy="371.30" r="1.35" fill="#000" />
<circle cx="659.08" cy="377.96" r="1.35" fill="#000" />
<line x1="668.43" y1="378.00" x2="668.43" y2="380.88" stroke="#000" stroke-width="1.1" />
<line x1="666.53" y1="378.00" x2="670.33" y2="378.00" stroke="#000" stroke-width="1.0" />
<line x1="666.53" y1="380.88" x2="670.33" y2="380.88" stroke="#000" stroke-width="1.0" />
<circle cx="668.43" cy="379.44" r="1.35" fill="#000" />
<circle cx="677.79" cy="382.03" r="1.35" fill="#000" />
<text x="616.99" y="316.30" font-size="6.8" text-anchor="middle" font-weight="normal" font-style="normal" fill="#111" stroke="#111" stroke-width="0.18" >1.8e-4</text>
<polyline points="612.31,320.20 612.31,318.40 621.67,318.40 621.67,320.20" fill="none" stroke="#222" stroke-width="1.0"/>
<text x="439.45" y="400.90" font-size="7.7" text-anchor="middle" font-weight="normal" font-style="normal" fill="#1a1a1a" stroke="#1a1a1a" stroke-width="0.18" >BreastB</text>
<line x1="400.90" y1="405.50" x2="400.90" y2="482.50" stroke="#333" stroke-width="1.0" />
<line x1="400.40" y1="482.00" x2="478.00" y2="482.00" stroke="#333" stroke-width="1.0" />
<line x1="398.70" y1="478.70" x2="400.90" y2="478.70" stroke="#333" stroke-width="0.9" />
<text x="397.80" y="481.60" font-size="7.7" text-anchor="end" font-weight="normal" font-style="normal" fill="#4d4d4d" stroke="#4d4d4d" stroke-width="0.18" >0.00</text>
<line x1="398.70" y1="461.62" x2="400.90" y2="461.62" stroke="#333" stroke-width="0.9" />
<text x="397.80" y="464.52" font-size="7.7" text-anchor="end" font-weight="normal" font-style="normal" fill="#4d4d4d" stroke="#4d4d4d" stroke-width="0.18" >0.25</text>
<line x1="398.70" y1="444.55" x2="400.90" y2="444.55" stroke="#333" stroke-width="0.9" />
<text x="397.80" y="447.45" font-size="7.7" text-anchor="end" font-weight="normal" font-style="normal" fill="#4d4d4d" stroke="#4d4d4d" stroke-width="0.18" >0.50</text>
<line x1="398.70" y1="427.48" x2="400.90" y2="427.48" stroke="#333" stroke-width="0.9" />
<text x="397.80" y="430.38" font-size="7.7" text-anchor="end" font-weight="normal" font-style="normal" fill="#4d4d4d" stroke="#4d4d4d" stroke-width="0.18" >0.75</text>
<line x1="398.70" y1="410.40" x2="400.90" y2="410.40" stroke="#333" stroke-width="0.9" />
<text x="397.80" y="413.30" font-size="7.7" text-anchor="end" font-weight="normal" font-style="normal" fill="#4d4d4d" stroke="#4d4d4d" stroke-width="0.18" >1.00</text>
<circle cx="407.30" cy="418.60" r="1.45" fill="#F4A400" fill-opacity="0.85"/>
<circle cx="407.63" cy="420.64" r="1.45" fill="#F4A400" fill-opacity="0.85"/>
<circle cx="406.48" cy="422.69" r="1.45" fill="#F4A400" fill-opacity="0.85"/>
<circle cx="403.56" cy="424.06" r="1.45" fill="#F4A400" fill-opacity="0.85"/>
<circle cx="408.33" cy="425.43" r="1.45" fill="#F4A400" fill-opacity="0.85"/>
<circle cx="408.03" cy="426.79" r="1.45" fill="#F4A400" fill-opacity="0.85"/>
<circle cx="406.56" cy="429.52" r="1.45" fill="#F4A400" fill-opacity="0.85"/>
<circle cx="406.75" cy="430.89" r="1.45" fill="#F4A400" fill-opacity="0.85"/>
<circle cx="416.90" cy="426.11" r="1.45" fill="#CD1553" fill-opacity="0.85"/>
<circle cx="413.34" cy="427.48" r="1.45" fill="#CD1553" fill-opacity="0.85"/>
<circle cx="417.36" cy="428.84" r="1.45" fill="#CD1553" fill-opacity="0.85"/>
<circle cx="414.46" cy="430.21" r="1.45" fill="#CD1553" fill-opacity="0.85"/>
<circle cx="413.39" cy="431.57" r="1.45" fill="#CD1553" fill-opacity="0.85"/>
<circle cx="414.54" cy="433.62" r="1.45" fill="#CD1553" fill-opacity="0.85"/>
<circle cx="426.72" cy="430.89" r="1.45" fill="#CB5CA2" fill-opacity="0.85"/>
<circle cx="423.58" cy="432.26" r="1.45" fill="#CB5CA2" fill-opacity="0.85"/>
<circle cx="426.79" cy="435.67" r="1.45" fill="#CB5CA2" fill-opacity="0.85"/>
<circle cx="428.20" cy="437.72" r="1.45" fill="#CB5CA2" fill-opacity="0.85"/>
<circle cx="425.31" cy="439.77" r="1.45" fill="#CB5CA2" fill-opacity="0.85"/>
<circle cx="424.64" cy="441.13" r="1.45" fill="#CB5CA2" fill-opacity="0.85"/>
<circle cx="425.22" cy="443.18" r="1.45" fill="#CB5CA2" fill-opacity="0.85"/>
<circle cx="435.85" cy="430.89" r="1.45" fill="#E4CDDF" fill-opacity="0.85"/>
<circle cx="436.35" cy="432.26" r="1.45" fill="#E4CDDF" fill-opacity="0.85"/>
<circle cx="435.45" cy="435.67" r="1.45" fill="#E4CDDF" fill-opacity="0.85"/>
<circle cx="435.61" cy="437.72" r="1.45" fill="#E4CDDF" fill-opacity="0.85"/>
<circle cx="432.21" cy="440.45" r="1.45" fill="#E4CDDF" fill-opacity="0.85"/>
<circle cx="432.63" cy="443.18" r="1.45" fill="#E4CDDF" fill-opacity="0.85"/>
<circle cx="442.67" cy="456.16" r="1.45" fill="#582A64" fill-opacity="0.85"/>
<circle cx="445.61" cy="457.53" r="1.45" fill="#582A64" fill-opacity="0.85"/>
<circle cx="442.98" cy="458.89" r="1.45" fill="#582A64" fill-opacity="0.85"/>
<circle cx="444.56" cy="460.26" r="1.45" fill="#582A64" fill-opacity="0.85"/>
<circle cx="441.23" cy="461.62" r="1.45" fill="#582A64" fill-opacity="0.85"/>
<circle cx="441.52" cy="462.99" r="1.45" fill="#582A64" fill-opacity="0.85"/>
<circle cx="452.17" cy="452.75" r="1.45" fill="#3893B2" fill-opacity="0.85"/>
<circle cx="454.59" cy="453.43" r="1.45" fill="#3893B2" fill-opacity="0.85"/>
<circle cx="454.71" cy="454.11" r="1.45" fill="#3893B2" fill-opacity="0.85"/>
<circle cx="454.61" cy="455.48" r="1.45" fill="#3893B2" fill-opacity="0.85"/>
<circle cx="452.30" cy="456.84" r="1.45" fill="#3893B2" fill-opacity="0.85"/>
<circle cx="453.65" cy="458.21" r="1.45" fill="#3893B2" fill-opacity="0.85"/>
<circle cx="462.74" cy="452.75" r="1.45" fill="#AFD8EB" fill-opacity="0.85"/>
<circle cx="462.75" cy="467.09" r="1.45" fill="#AFD8EB" fill-opacity="0.85"/>
<circle cx="460.67" cy="475.28" r="1.45" fill="#AFD8EB" fill-opacity="0.85"/>
<circle cx="465.32" cy="477.33" r="1.45" fill="#AFD8EB" fill-opacity="0.85"/>
<circle cx="461.15" cy="478.70" r="1.45" fill="#AFD8EB" fill-opacity="0.85"/>
<circle cx="475.23" cy="478.70" r="1.45" fill="#C3D48A" fill-opacity="0.85"/>
<circle cx="472.43" cy="478.70" r="1.45" fill="#C3D48A" fill-opacity="0.85"/>
<line x1="406.54" y1="423.41" x2="406.54" y2="426.07" stroke="#000" stroke-width="1.1" />
<line x1="404.64" y1="423.41" x2="408.44" y2="423.41" stroke="#000" stroke-width="1.0" />
<line x1="404.64" y1="426.07" x2="408.44" y2="426.07" stroke="#000" stroke-width="1.0" />
<circle cx="406.54" cy="424.74" r="1.35" fill="#000" />
<circle cx="415.94" cy="429.52" r="1.35" fill="#000" />
<line x1="425.35" y1="435.26" x2="425.35" y2="438.81" stroke="#000" stroke-width="1.1" />
<line x1="423.45" y1="435.26" x2="427.25" y2="435.26" stroke="#000" stroke-width="1.0" />
<line x1="423.45" y1="438.81" x2="427.25" y2="438.81" stroke="#000" stroke-width="1.0" />
<circle cx="425.35" cy="437.04" r="1.35" fill="#000" />
<line x1="434.75" y1="435.26" x2="434.75" y2="438.81" stroke="#000" stroke-width="1.1" />
<line x1="432.85" y1="435.26" x2="436.65" y2="435.26" stroke="#000" stroke-width="1.0" />
<line x1="432.85" y1="438.81" x2="436.65" y2="438.81" stroke="#000" stroke-width="1.0" />
<circle cx="434.75" cy="437.04" r="1.35" fill="#000" />
<circle cx="444.15" cy="458.89" r="1.35" fill="#000" />
<circle cx="453.55" cy="455.48" r="1.35" fill="#000" />
<line x1="462.96" y1="471.94" x2="462.96" y2="477.27" stroke="#000" stroke-width="1.1" />
<line x1="461.06" y1="471.94" x2="464.86" y2="471.94" stroke="#000" stroke-width="1.0" />
<line x1="461.06" y1="477.27" x2="464.86" y2="477.27" stroke="#000" stroke-width="1.0" />
<circle cx="462.96" cy="474.60" r="1.35" fill="#000" />
<circle cx="472.36" cy="478.70" r="1.35" fill="#000" />
<text x="411.24" y="412.90" font-size="6.8" text-anchor="middle" font-weight="normal" font-style="normal" fill="#111" stroke="#111" stroke-width="0.18" >0.0021</text>
<polyline points="406.54,416.80 406.54,415.00 415.94,415.00 415.94,416.80" fill="none" stroke="#222" stroke-width="1.0"/>
<text x="542.35" y="400.90" font-size="7.7" text-anchor="middle" font-weight="normal" font-style="normal" fill="#1a1a1a" stroke="#1a1a1a" stroke-width="0.18" >Kidney</text>
<line x1="504.00" y1="405.50" x2="504.00" y2="482.50" stroke="#333" stroke-width="1.0" />
<line x1="503.50" y1="482.00" x2="580.70" y2="482.00" stroke="#333" stroke-width="1.0" />
<line x1="501.80" y1="479.10" x2="504.00" y2="479.10" stroke="#333" stroke-width="0.9" />
<text x="500.90" y="482.00" font-size="7.7" text-anchor="end" font-weight="normal" font-style="normal" fill="#4d4d4d" stroke="#4d4d4d" stroke-width="0.18" >0.0</text>
<line x1="501.80" y1="459.15" x2="504.00" y2="459.15" stroke="#333" stroke-width="0.9" />
<text x="500.90" y="462.05" font-size="7.7" text-anchor="end" font-weight="normal" font-style="normal" fill="#4d4d4d" stroke="#4d4d4d" stroke-width="0.18" >0.3</text>
<line x1="501.80" y1="439.20" x2="504.00" y2="439.20" stroke="#333" stroke-width="0.9" />
<text x="500.90" y="442.10" font-size="7.7" text-anchor="end" font-weight="normal" font-style="normal" fill="#4d4d4d" stroke="#4d4d4d" stroke-width="0.18" >0.6</text>
<line x1="501.80" y1="419.25" x2="504.00" y2="419.25" stroke="#333" stroke-width="0.9" />
<text x="500.90" y="422.15" font-size="7.7" text-anchor="end" font-weight="normal" font-style="normal" fill="#4d4d4d" stroke="#4d4d4d" stroke-width="0.18" >0.9</text>
<circle cx="513.01" cy="417.92" r="1.45" fill="#F4A400" fill-opacity="0.85"/>
<circle cx="507.50" cy="419.92" r="1.45" fill="#F4A400" fill-opacity="0.85"/>
<circle cx="510.15" cy="423.91" r="1.45" fill="#F4A400" fill-opacity="0.85"/>
<circle cx="512.31" cy="425.90" r="1.45" fill="#F4A400" fill-opacity="0.85"/>
<circle cx="513.20" cy="427.23" r="1.45" fill="#F4A400" fill-opacity="0.85"/>
<circle cx="510.09" cy="428.56" r="1.45" fill="#F4A400" fill-opacity="0.85"/>
<circle cx="509.00" cy="429.89" r="1.45" fill="#F4A400" fill-opacity="0.85"/>
<circle cx="508.65" cy="430.56" r="1.45" fill="#F4A400" fill-opacity="0.85"/>
<circle cx="523.72" cy="417.92" r="1.45" fill="#CD1553" fill-opacity="0.85"/>
<circle cx="519.31" cy="420.58" r="1.45" fill="#CD1553" fill-opacity="0.85"/>
<circle cx="521.53" cy="423.91" r="1.45" fill="#CD1553" fill-opacity="0.85"/>
<circle cx="518.89" cy="426.56" r="1.45" fill="#CD1553" fill-opacity="0.85"/>
<circle cx="521.19" cy="427.90" r="1.45" fill="#CD1553" fill-opacity="0.85"/>
<circle cx="523.76" cy="429.23" r="1.45" fill="#CD1553" fill-opacity="0.85"/>
<circle cx="518.84" cy="430.56" r="1.45" fill="#CD1553" fill-opacity="0.85"/>
<circle cx="522.97" cy="431.22" r="1.45" fill="#CD1553" fill-opacity="0.85"/>
<circle cx="531.75" cy="450.50" r="1.45" fill="#CB5CA2" fill-opacity="0.85"/>
<circle cx="534.02" cy="452.50" r="1.45" fill="#CB5CA2" fill-opacity="0.85"/>
<circle cx="532.92" cy="455.16" r="1.45" fill="#CB5CA2" fill-opacity="0.85"/>
<circle cx="530.09" cy="457.16" r="1.45" fill="#CB5CA2" fill-opacity="0.85"/>
<circle cx="534.08" cy="459.15" r="1.45" fill="#CB5CA2" fill-opacity="0.85"/>
<circle cx="531.61" cy="460.48" r="1.45" fill="#CB5CA2" fill-opacity="0.85"/>
<circle cx="528.85" cy="461.15" r="1.45" fill="#CB5CA2" fill-opacity="0.85"/>
<circle cx="539.37" cy="451.17" r="1.45" fill="#E4CDDF" fill-opacity="0.85"/>
<circle cx="542.30" cy="452.50" r="1.45" fill="#E4CDDF" fill-opacity="0.85"/>
<circle cx="542.05" cy="456.49" r="1.45" fill="#E4CDDF" fill-opacity="0.85"/>
<circle cx="541.16" cy="459.15" r="1.45" fill="#E4CDDF" fill-opacity="0.85"/>
<circle cx="540.19" cy="461.15" r="1.45" fill="#E4CDDF" fill-opacity="0.85"/>
<circle cx="552.07" cy="470.46" r="1.45" fill="#582A64" fill-opacity="0.85"/>
<circle cx="551.90" cy="471.79" r="1.45" fill="#582A64" fill-opacity="0.85"/>
<circle cx="555.04" cy="472.45" r="1.45" fill="#582A64" fill-opacity="0.85"/>
<circle cx="550.01" cy="473.12" r="1.45" fill="#582A64" fill-opacity="0.85"/>
<circle cx="554.51" cy="474.45" r="1.45" fill="#582A64" fill-opacity="0.85"/>
<circle cx="565.69" cy="479.10" r="1.45" fill="#AFD8EB" fill-opacity="0.85"/>
<circle cx="562.89" cy="479.10" r="1.45" fill="#AFD8EB" fill-opacity="0.85"/>
<circle cx="572.03" cy="479.10" r="1.45" fill="#C3D48A" fill-opacity="0.85"/>
<circle cx="574.83" cy="479.10" r="1.45" fill="#C3D48A" fill-opacity="0.85"/>
<line x1="510.39" y1="424.60" x2="510.39" y2="427.20" stroke="#000" stroke-width="1.1" />
<line x1="508.49" y1="424.60" x2="512.29" y2="424.60" stroke="#000" stroke-width="1.0" />
<line x1="508.49" y1="427.20" x2="512.29" y2="427.20" stroke="#000" stroke-width="1.0" />
<circle cx="510.39" cy="425.90" r="1.35" fill="#000" />
<line x1="521.04" y1="425.27" x2="521.04" y2="427.86" stroke="#000" stroke-width="1.1" />
<line x1="519.14" y1="425.27" x2="522.94" y2="425.27" stroke="#000" stroke-width="1.0" />
<line x1="519.14" y1="427.86" x2="522.94" y2="427.86" stroke="#000" stroke-width="1.0" />
<circle cx="521.04" cy="426.56" r="1.35" fill="#000" />
<line x1="531.70" y1="454.76" x2="531.70" y2="458.22" stroke="#000" stroke-width="1.1" />
<line x1="529.80" y1="454.76" x2="533.60" y2="454.76" stroke="#000" stroke-width="1.0" />
<line x1="529.80" y1="458.22" x2="533.60" y2="458.22" stroke="#000" stroke-width="1.0" />
<circle cx="531.70" cy="456.49" r="1.35" fill="#000" />
<line x1="542.35" y1="454.76" x2="542.35" y2="458.22" stroke="#000" stroke-width="1.1" />
<line x1="540.45" y1="454.76" x2="544.25" y2="454.76" stroke="#000" stroke-width="1.0" />
<line x1="540.45" y1="458.22" x2="544.25" y2="458.22" stroke="#000" stroke-width="1.0" />
<circle cx="542.35" cy="456.49" r="1.35" fill="#000" />
<circle cx="553.00" cy="472.45" r="1.35" fill="#000" />
<circle cx="563.66" cy="479.10" r="1.35" fill="#000" />
<circle cx="574.31" cy="479.10" r="1.35" fill="#000" />
<text x="515.72" y="413.00" font-size="6.8" text-anchor="middle" font-weight="normal" font-style="normal" fill="#111" stroke="#111" stroke-width="0.18" >0.73</text>
<polyline points="510.39,416.90 510.39,415.10 521.04,415.10 521.04,416.90" fill="none" stroke="#222" stroke-width="1.0"/>
<text x="645.05" y="400.90" font-size="7.7" text-anchor="middle" font-weight="normal" font-style="normal" fill="#1a1a1a" stroke="#1a1a1a" stroke-width="0.18" >Angular</text>
<line x1="606.70" y1="405.50" x2="606.70" y2="482.50" stroke="#333" stroke-width="1.0" />
<line x1="606.20" y1="482.00" x2="683.40" y2="482.00" stroke="#333" stroke-width="1.0" />
<line x1="604.50" y1="479.10" x2="606.70" y2="479.10" stroke="#333" stroke-width="0.9" />
<text x="603.60" y="482.00" font-size="7.7" text-anchor="end" font-weight="normal" font-style="normal" fill="#4d4d4d" stroke="#4d4d4d" stroke-width="0.18" >0.00</text>
<line x1="604.50" y1="461.65" x2="606.70" y2="461.65" stroke="#333" stroke-width="0.9" />
<text x="603.60" y="464.55" font-size="7.7" text-anchor="end" font-weight="normal" font-style="normal" fill="#4d4d4d" stroke="#4d4d4d" stroke-width="0.18" >0.25</text>
<line x1="604.50" y1="444.20" x2="606.70" y2="444.20" stroke="#333" stroke-width="0.9" />
<text x="603.60" y="447.10" font-size="7.7" text-anchor="end" font-weight="normal" font-style="normal" fill="#4d4d4d" stroke="#4d4d4d" stroke-width="0.18" >0.50</text>
<line x1="604.50" y1="426.75" x2="606.70" y2="426.75" stroke="#333" stroke-width="0.9" />
<text x="603.60" y="429.65" font-size="7.7" text-anchor="end" font-weight="normal" font-style="normal" fill="#4d4d4d" stroke="#4d4d4d" stroke-width="0.18" >0.75</text>
<line x1="604.50" y1="409.30" x2="606.70" y2="409.30" stroke="#333" stroke-width="0.9" />
<text x="603.60" y="412.20" font-size="7.7" text-anchor="end" font-weight="normal" font-style="normal" fill="#4d4d4d" stroke="#4d4d4d" stroke-width="0.18" >1.00</text>
<circle cx="618.11" cy="418.37" r="1.45" fill="#F4A400" fill-opacity="0.85"/>
<circle cx="616.83" cy="419.77" r="1.45" fill="#F4A400" fill-opacity="0.85"/>
<circle cx="617.96" cy="424.66" r="1.45" fill="#F4A400" fill-opacity="0.85"/>
<circle cx="614.29" cy="427.45" r="1.45" fill="#F4A400" fill-opacity="0.85"/>
<circle cx="614.78" cy="428.84" r="1.45" fill="#F4A400" fill-opacity="0.85"/>
<circle cx="614.91" cy="430.24" r="1.45" fill="#F4A400" fill-opacity="0.85"/>
<circle cx="618.54" cy="430.94" r="1.45" fill="#F4A400" fill-opacity="0.85"/>
<circle cx="616.09" cy="432.33" r="1.45" fill="#F4A400" fill-opacity="0.85"/>
<circle cx="614.71" cy="433.73" r="1.45" fill="#F4A400" fill-opacity="0.85"/>
<circle cx="615.12" cy="435.82" r="1.45" fill="#F4A400" fill-opacity="0.85"/>
<circle cx="614.20" cy="437.22" r="1.45" fill="#F4A400" fill-opacity="0.85"/>
<circle cx="627.59" cy="466.54" r="1.45" fill="#CB5CA2" fill-opacity="0.85"/>
<circle cx="627.91" cy="470.03" r="1.45" fill="#CB5CA2" fill-opacity="0.85"/>
<circle cx="632.31" cy="470.72" r="1.45" fill="#CB5CA2" fill-opacity="0.85"/>
<circle cx="629.51" cy="470.72" r="1.45" fill="#CB5CA2" fill-opacity="0.85"/>
<circle cx="629.51" cy="470.72" r="1.45" fill="#CB5CA2" fill-opacity="0.85"/>
<circle cx="629.01" cy="471.42" r="1.45" fill="#CB5CA2" fill-opacity="0.85"/>
<circle cx="647.66" cy="466.54" r="1.45" fill="#E4CDDF" fill-opacity="0.85"/>
<circle cx="643.55" cy="470.72" r="1.45" fill="#E4CDDF" fill-opacity="0.85"/>
<circle cx="646.35" cy="470.72" r="1.45" fill="#E4CDDF" fill-opacity="0.85"/>
<circle cx="658.39" cy="470.72" r="1.45" fill="#582A64" fill-opacity="0.85"/>
<circle cx="659.87" cy="472.12" r="1.45" fill="#582A64" fill-opacity="0.85"/>
<circle cx="657.94" cy="473.52" r="1.45" fill="#582A64" fill-opacity="0.85"/>
<circle cx="659.04" cy="474.21" r="1.45" fill="#582A64" fill-opacity="0.85"/>
<circle cx="661.84" cy="474.21" r="1.45" fill="#582A64" fill-opacity="0.85"/>
<circle cx="662.54" cy="479.10" r="1.45" fill="#582A64" fill-opacity="0.85"/>
<circle cx="676.86" cy="479.10" r="1.45" fill="#C3D48A" fill-opacity="0.85"/>
<circle cx="674.06" cy="479.10" r="1.45" fill="#C3D48A" fill-opacity="0.85"/>
<line x1="615.55" y1="427.03" x2="615.55" y2="430.66" stroke="#000" stroke-width="1.1" />
<line x1="613.65" y1="427.03" x2="617.45" y2="427.03" stroke="#000" stroke-width="1.0" />
<line x1="613.65" y1="430.66" x2="617.45" y2="430.66" stroke="#000" stroke-width="1.0" />
<circle cx="615.55" cy="428.84" r="1.35" fill="#000" />
<circle cx="630.30" cy="470.72" r="1.35" fill="#000" />
<circle cx="645.05" cy="470.72" r="1.35" fill="#000" />
<circle cx="659.80" cy="473.52" r="1.35" fill="#000" />
<circle cx="674.55" cy="479.10" r="1.35" fill="#000" />
<text x="622.93" y="413.00" font-size="6.8" text-anchor="middle" font-weight="normal" font-style="normal" fill="#111" stroke="#111" stroke-width="0.18" >1.1e-5</text>
<polyline points="615.55,416.90 615.55,415.10 630.30,415.10 630.30,416.90" fill="none" stroke="#222" stroke-width="1.0"/>
<text x="439.45" y="497.80" font-size="7.7" text-anchor="middle" font-weight="normal" font-style="normal" fill="#1a1a1a" stroke="#1a1a1a" stroke-width="0.18" >Retina</text>
<line x1="400.90" y1="502.20" x2="400.90" y2="579.00" stroke="#333" stroke-width="1.0" />
<line x1="400.40" y1="578.50" x2="478.00" y2="578.50" stroke="#333" stroke-width="1.0" />
<line x1="398.70" y1="575.20" x2="400.90" y2="575.20" stroke="#333" stroke-width="0.9" />
<text x="397.80" y="578.10" font-size="7.7" text-anchor="end" font-weight="normal" font-style="normal" fill="#4d4d4d" stroke="#4d4d4d" stroke-width="0.18" >0.00</text>
<line x1="398.70" y1="557.48" x2="400.90" y2="557.48" stroke="#333" stroke-width="0.9" />
<text x="397.80" y="560.38" font-size="7.7" text-anchor="end" font-weight="normal" font-style="normal" fill="#4d4d4d" stroke="#4d4d4d" stroke-width="0.18" >0.25</text>
<line x1="398.70" y1="539.75" x2="400.90" y2="539.75" stroke="#333" stroke-width="0.9" />
<text x="397.80" y="542.65" font-size="7.7" text-anchor="end" font-weight="normal" font-style="normal" fill="#4d4d4d" stroke="#4d4d4d" stroke-width="0.18" >0.50</text>
<line x1="398.70" y1="522.03" x2="400.90" y2="522.03" stroke="#333" stroke-width="0.9" />
<text x="397.80" y="524.93" font-size="7.7" text-anchor="end" font-weight="normal" font-style="normal" fill="#4d4d4d" stroke="#4d4d4d" stroke-width="0.18" >0.75</text>
<line x1="398.70" y1="504.30" x2="400.90" y2="504.30" stroke="#333" stroke-width="0.9" />
<text x="397.80" y="507.20" font-size="7.7" text-anchor="end" font-weight="normal" font-style="normal" fill="#4d4d4d" stroke="#4d4d4d" stroke-width="0.18" >1.00</text>
<circle cx="411.67" cy="515.64" r="1.45" fill="#F4A400" fill-opacity="0.85"/>
<circle cx="410.58" cy="517.06" r="1.45" fill="#F4A400" fill-opacity="0.85"/>
<circle cx="412.28" cy="517.77" r="1.45" fill="#F4A400" fill-opacity="0.85"/>
<circle cx="412.44" cy="518.48" r="1.45" fill="#F4A400" fill-opacity="0.85"/>
<circle cx="410.09" cy="520.61" r="1.45" fill="#F4A400" fill-opacity="0.85"/>
<circle cx="411.11" cy="522.03" r="1.45" fill="#F4A400" fill-opacity="0.85"/>
<circle cx="407.09" cy="523.44" r="1.45" fill="#F4A400" fill-opacity="0.85"/>
<circle cx="411.19" cy="524.15" r="1.45" fill="#F4A400" fill-opacity="0.85"/>
<circle cx="409.50" cy="528.41" r="1.45" fill="#F4A400" fill-opacity="0.85"/>
<circle cx="411.31" cy="529.12" r="1.45" fill="#F4A400" fill-opacity="0.85"/>
<circle cx="425.49" cy="558.89" r="1.45" fill="#CB5CA2" fill-opacity="0.85"/>
<circle cx="423.34" cy="561.73" r="1.45" fill="#CB5CA2" fill-opacity="0.85"/>
<circle cx="421.92" cy="563.15" r="1.45" fill="#CB5CA2" fill-opacity="0.85"/>
<circle cx="427.18" cy="563.86" r="1.45" fill="#CB5CA2" fill-opacity="0.85"/>
<circle cx="422.39" cy="564.57" r="1.45" fill="#CB5CA2" fill-opacity="0.85"/>
<circle cx="424.46" cy="565.27" r="1.45" fill="#CB5CA2" fill-opacity="0.85"/>
<circle cx="438.51" cy="559.60" r="1.45" fill="#E4CDDF" fill-opacity="0.85"/>
<circle cx="438.24" cy="561.73" r="1.45" fill="#E4CDDF" fill-opacity="0.85"/>
<circle cx="440.88" cy="563.15" r="1.45" fill="#E4CDDF" fill-opacity="0.85"/>
<circle cx="442.31" cy="564.57" r="1.45" fill="#E4CDDF" fill-opacity="0.85"/>
<circle cx="452.84" cy="563.15" r="1.45" fill="#582A64" fill-opacity="0.85"/>
<circle cx="455.21" cy="564.57" r="1.45" fill="#582A64" fill-opacity="0.85"/>
<circle cx="453.08" cy="565.98" r="1.45" fill="#582A64" fill-opacity="0.85"/>
<circle cx="454.62" cy="566.69" r="1.45" fill="#582A64" fill-opacity="0.85"/>
<circle cx="453.64" cy="568.11" r="1.45" fill="#582A64" fill-opacity="0.85"/>
<circle cx="452.28" cy="568.82" r="1.45" fill="#582A64" fill-opacity="0.85"/>
<circle cx="467.07" cy="575.20" r="1.45" fill="#C3D48A" fill-opacity="0.85"/>
<circle cx="469.87" cy="575.20" r="1.45" fill="#C3D48A" fill-opacity="0.85"/>
<line x1="409.80" y1="520.89" x2="409.80" y2="524.58" stroke="#000" stroke-width="1.1" />
<line x1="407.90" y1="520.89" x2="411.70" y2="520.89" stroke="#000" stroke-width="1.0" />
<line x1="407.90" y1="524.58" x2="411.70" y2="524.58" stroke="#000" stroke-width="1.0" />
<circle cx="409.80" cy="522.73" r="1.35" fill="#000" />
<circle cx="424.62" cy="563.15" r="1.35" fill="#000" />
<circle cx="439.45" cy="563.15" r="1.35" fill="#000" />
<circle cx="454.28" cy="566.69" r="1.35" fill="#000" />
<circle cx="469.10" cy="575.20" r="1.35" fill="#000" />
<text x="417.21" y="509.60" font-size="6.8" text-anchor="middle" font-weight="normal" font-style="normal" fill="#111" stroke="#111" stroke-width="0.18" >1.8e-4</text>
<polyline points="409.80,513.50 409.80,511.70 424.62,511.70 424.62,513.50" fill="none" stroke="#222" stroke-width="1.0"/>
<text x="542.35" y="497.80" font-size="7.7" text-anchor="middle" font-weight="normal" font-style="normal" fill="#1a1a1a" stroke="#1a1a1a" stroke-width="0.18" >GBmap</text>
<line x1="504.00" y1="502.20" x2="504.00" y2="579.00" stroke="#333" stroke-width="1.0" />
<line x1="503.50" y1="578.50" x2="580.70" y2="578.50" stroke="#333" stroke-width="1.0" />
<line x1="501.80" y1="575.60" x2="504.00" y2="575.60" stroke="#333" stroke-width="0.9" />
<text x="500.90" y="578.50" font-size="7.7" text-anchor="end" font-weight="normal" font-style="normal" fill="#4d4d4d" stroke="#4d4d4d" stroke-width="0.18" >0.00</text>
<line x1="501.80" y1="558.27" x2="504.00" y2="558.27" stroke="#333" stroke-width="0.9" />
<text x="500.90" y="561.17" font-size="7.7" text-anchor="end" font-weight="normal" font-style="normal" fill="#4d4d4d" stroke="#4d4d4d" stroke-width="0.18" >0.25</text>
<line x1="501.80" y1="540.95" x2="504.00" y2="540.95" stroke="#333" stroke-width="0.9" />
<text x="500.90" y="543.85" font-size="7.7" text-anchor="end" font-weight="normal" font-style="normal" fill="#4d4d4d" stroke="#4d4d4d" stroke-width="0.18" >0.50</text>
<line x1="501.80" y1="523.62" x2="504.00" y2="523.62" stroke="#333" stroke-width="0.9" />
<text x="500.90" y="526.52" font-size="7.7" text-anchor="end" font-weight="normal" font-style="normal" fill="#4d4d4d" stroke="#4d4d4d" stroke-width="0.18" >0.75</text>
<line x1="501.80" y1="506.30" x2="504.00" y2="506.30" stroke="#333" stroke-width="0.9" />
<text x="500.90" y="509.20" font-size="7.7" text-anchor="end" font-weight="normal" font-style="normal" fill="#4d4d4d" stroke="#4d4d4d" stroke-width="0.18" >1.00</text>
<circle cx="511.10" cy="514.62" r="1.45" fill="#F4A400" fill-opacity="0.85"/>
<circle cx="513.90" cy="514.62" r="1.45" fill="#F4A400" fill-opacity="0.85"/>
<circle cx="515.29" cy="522.24" r="1.45" fill="#F4A400" fill-opacity="0.85"/>
<circle cx="512.83" cy="522.93" r="1.45" fill="#F4A400" fill-opacity="0.85"/>
<circle cx="511.17" cy="523.62" r="1.45" fill="#F4A400" fill-opacity="0.85"/>
<circle cx="515.29" cy="524.32" r="1.45" fill="#F4A400" fill-opacity="0.85"/>
<circle cx="515.83" cy="525.70" r="1.45" fill="#F4A400" fill-opacity="0.85"/>
<circle cx="512.55" cy="529.17" r="1.45" fill="#F4A400" fill-opacity="0.85"/>
<circle cx="525.44" cy="553.42" r="1.45" fill="#CB5CA2" fill-opacity="0.85"/>
<circle cx="525.75" cy="554.81" r="1.45" fill="#CB5CA2" fill-opacity="0.85"/>
<circle cx="525.14" cy="555.50" r="1.45" fill="#CB5CA2" fill-opacity="0.85"/>
<circle cx="526.65" cy="556.20" r="1.45" fill="#CB5CA2" fill-opacity="0.85"/>
<circle cx="525.15" cy="556.89" r="1.45" fill="#CB5CA2" fill-opacity="0.85"/>
<circle cx="526.03" cy="557.58" r="1.45" fill="#CB5CA2" fill-opacity="0.85"/>
<circle cx="526.15" cy="558.27" r="1.45" fill="#CB5CA2" fill-opacity="0.85"/>
<circle cx="542.77" cy="553.42" r="1.45" fill="#E4CDDF" fill-opacity="0.85"/>
<circle cx="544.67" cy="555.50" r="1.45" fill="#E4CDDF" fill-opacity="0.85"/>
<circle cx="543.85" cy="556.20" r="1.45" fill="#E4CDDF" fill-opacity="0.85"/>
<circle cx="541.83" cy="556.89" r="1.45" fill="#E4CDDF" fill-opacity="0.85"/>
<circle cx="556.58" cy="561.74" r="1.45" fill="#582A64" fill-opacity="0.85"/>
<circle cx="557.25" cy="563.13" r="1.45" fill="#582A64" fill-opacity="0.85"/>
<circle cx="556.36" cy="564.51" r="1.45" fill="#582A64" fill-opacity="0.85"/>
<circle cx="556.13" cy="565.90" r="1.45" fill="#582A64" fill-opacity="0.85"/>
<circle cx="554.47" cy="567.28" r="1.45" fill="#582A64" fill-opacity="0.85"/>
<circle cx="555.77" cy="568.67" r="1.45" fill="#582A64" fill-opacity="0.85"/>
<circle cx="559.91" cy="575.60" r="1.45" fill="#582A64" fill-opacity="0.85"/>
<circle cx="569.61" cy="572.83" r="1.45" fill="#C3D48A" fill-opacity="0.85"/>
<circle cx="571.87" cy="574.91" r="1.45" fill="#C3D48A" fill-opacity="0.85"/>
<circle cx="572.63" cy="575.60" r="1.45" fill="#C3D48A" fill-opacity="0.85"/>
<line x1="512.85" y1="521.13" x2="512.85" y2="524.73" stroke="#000" stroke-width="1.1" />
<line x1="510.95" y1="521.13" x2="514.75" y2="521.13" stroke="#000" stroke-width="1.0" />
<line x1="510.95" y1="524.73" x2="514.75" y2="524.73" stroke="#000" stroke-width="1.0" />
<circle cx="512.85" cy="522.93" r="1.35" fill="#000" />
<circle cx="527.60" cy="556.20" r="1.35" fill="#000" />
<circle cx="542.35" cy="556.20" r="1.35" fill="#000" />
<line x1="557.10" y1="564.10" x2="557.10" y2="567.70" stroke="#000" stroke-width="1.1" />
<line x1="555.20" y1="564.10" x2="559.00" y2="564.10" stroke="#000" stroke-width="1.0" />
<line x1="555.20" y1="567.70" x2="559.00" y2="567.70" stroke="#000" stroke-width="1.0" />
<circle cx="557.10" cy="565.90" r="1.35" fill="#000" />
<circle cx="571.85" cy="575.25" r="1.35" fill="#000" />
<text x="520.23" y="509.60" font-size="6.8" text-anchor="middle" font-weight="normal" font-style="normal" fill="#111" stroke="#111" stroke-width="0.18" >1.8e-4</text>
<polyline points="512.85,513.50 512.85,511.70 527.60,511.70 527.60,513.50" fill="none" stroke="#222" stroke-width="1.0"/>
<text x="608.20" y="498.10" font-size="7.7" text-anchor="start" font-weight="bold" font-style="normal" fill="#1a1a1a" stroke="#1a1a1a" stroke-width="0.18" >method</text>
<circle cx="607.90" cy="508.80" r="1.3" fill="#F4A400" />
<text x="623.50" y="511.55" font-size="7.7" text-anchor="start" font-weight="normal" font-style="normal" fill="#1a1a1a" stroke="#1a1a1a" stroke-width="0.18" >FastCCC</text>
<circle cx="607.90" cy="517.83" r="1.3" fill="#CD1553" />
<text x="623.50" y="520.58" font-size="7.7" text-anchor="start" font-weight="normal" font-style="normal" fill="#1a1a1a" stroke="#1a1a1a" stroke-width="0.18" >CellChat</text>
<circle cx="607.90" cy="526.86" r="1.3" fill="#CB5CA2" />
<text x="623.50" y="529.61" font-size="7.7" text-anchor="start" font-weight="normal" font-style="normal" fill="#1a1a1a" stroke="#1a1a1a" stroke-width="0.18" >CPDB_v5</text>
<circle cx="607.90" cy="535.89" r="1.3" fill="#E4CDDF" />
<text x="623.50" y="538.64" font-size="7.7" text-anchor="start" font-weight="normal" font-style="normal" fill="#1a1a1a" stroke="#1a1a1a" stroke-width="0.18" >CPDB_v4</text>
<circle cx="607.90" cy="544.92" r="1.3" fill="#582A64" />
<text x="623.50" y="547.67" font-size="7.7" text-anchor="start" font-weight="normal" font-style="normal" fill="#1a1a1a" stroke="#1a1a1a" stroke-width="0.18" >ICELLNET</text>
<circle cx="607.90" cy="553.95" r="1.3" fill="#3893B2" />
<text x="623.50" y="556.70" font-size="7.7" text-anchor="start" font-weight="normal" font-style="normal" fill="#1a1a1a" stroke="#1a1a1a" stroke-width="0.18" >SingleCellSignalR</text>
<circle cx="607.90" cy="562.98" r="1.3" fill="#AFD8EB" />
<text x="623.50" y="565.73" font-size="7.7" text-anchor="start" font-weight="normal" font-style="normal" fill="#1a1a1a" stroke="#1a1a1a" stroke-width="0.18" >CellCall</text>
<circle cx="607.90" cy="572.01" r="1.3" fill="#C3D48A" />
<text x="623.50" y="574.76" font-size="7.7" text-anchor="start" font-weight="normal" font-style="normal" fill="#1a1a1a" stroke="#1a1a1a" stroke-width="0.18" >NicheNet</text>
</svg>
</body></html>
